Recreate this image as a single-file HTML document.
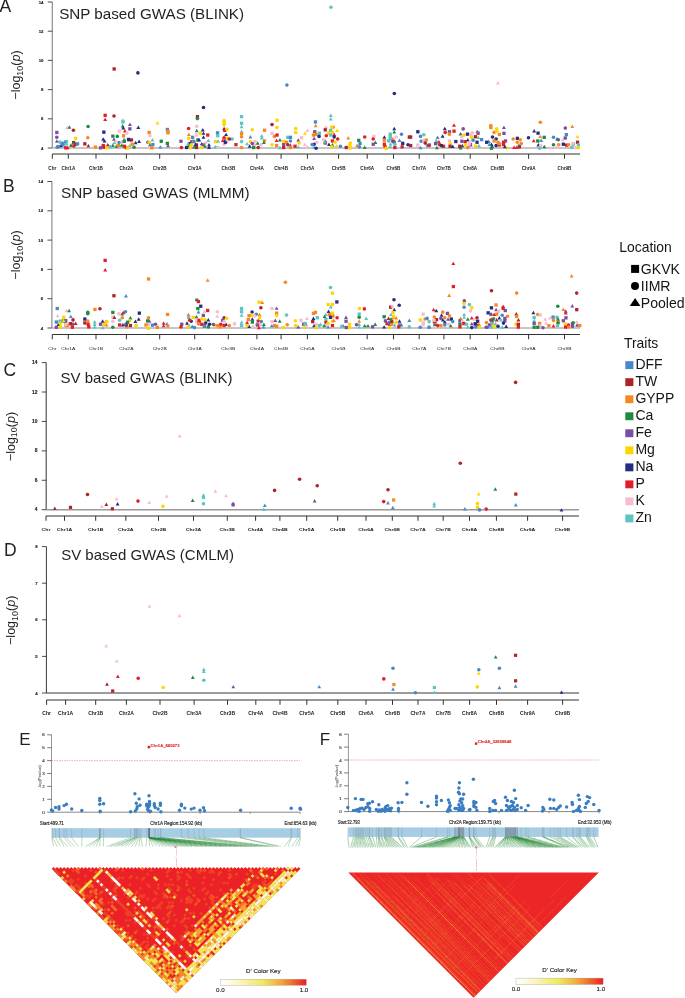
<!DOCTYPE html>
<html><head><meta charset="utf-8"><style>
html,body{margin:0;padding:0;background:#fff;width:685px;height:998px;overflow:hidden}
svg{display:block;font-family:"Liberation Sans",sans-serif;will-change:transform}
</style></head><body>
<svg width="685" height="998" viewBox="0 0 685 998">
<rect width="685" height="998" fill="#fff"/>
<line x1="52.3" y1="2.0" x2="52.3" y2="148" stroke="#8c8c8c" stroke-width="1.2" />
<line x1="47.8" y1="148.0" x2="52.3" y2="148.0" stroke="#222" stroke-width="0.8" />
<text x="43.5" y="149.5" font-size="4.3" text-anchor="end" font-weight="bold" fill="#222"  stroke="#222" stroke-width="0.14">4</text>
<line x1="47.8" y1="118.8" x2="52.3" y2="118.8" stroke="#222" stroke-width="0.8" />
<text x="43.5" y="120.3" font-size="4.3" text-anchor="end" font-weight="bold" fill="#222"  stroke="#222" stroke-width="0.14">6</text>
<line x1="47.8" y1="89.6" x2="52.3" y2="89.6" stroke="#222" stroke-width="0.8" />
<text x="43.5" y="91.1" font-size="4.3" text-anchor="end" font-weight="bold" fill="#222"  stroke="#222" stroke-width="0.14">8</text>
<line x1="47.8" y1="60.400000000000006" x2="52.3" y2="60.400000000000006" stroke="#222" stroke-width="0.8" />
<text x="43.5" y="61.900000000000006" font-size="4.3" text-anchor="end" font-weight="bold" fill="#222"  stroke="#222" stroke-width="0.14">10</text>
<line x1="47.8" y1="31.200000000000003" x2="52.3" y2="31.200000000000003" stroke="#222" stroke-width="0.8" />
<text x="43.5" y="32.7" font-size="4.3" text-anchor="end" font-weight="bold" fill="#222"  stroke="#222" stroke-width="0.14">12</text>
<line x1="47.8" y1="2.0" x2="52.3" y2="2.0" stroke="#222" stroke-width="0.8" />
<text x="43.5" y="3.5" font-size="4.3" text-anchor="end" font-weight="bold" fill="#222"  stroke="#222" stroke-width="0.14">14</text>
<line x1="52.3" y1="148" x2="580" y2="148" stroke="#b3b3b3" stroke-width="1.6" />
<line x1="52.3" y1="154" x2="580" y2="154" stroke="#333" stroke-width="1.1" />
<line x1="52.3" y1="154" x2="52.3" y2="158.8" stroke="#333" stroke-width="1.0" />
<text transform="translate(52.3,170.2) scale(1,1)" font-size="4.6" text-anchor="middle" font-weight="bold" fill="#1a1a1a">Chr</text>
<line x1="68.3" y1="154" x2="68.3" y2="158.8" stroke="#333" stroke-width="1.0" />
<text transform="translate(68.3,170.2) scale(1,1)" font-size="4.6" text-anchor="middle" font-weight="bold" fill="#1a1a1a">Chr1A</text>
<line x1="96" y1="154" x2="96" y2="158.8" stroke="#333" stroke-width="1.0" />
<text transform="translate(96,170.2) scale(1,1)" font-size="4.6" text-anchor="middle" font-weight="bold" fill="#1a1a1a">Chr1B</text>
<line x1="126.4" y1="154" x2="126.4" y2="158.8" stroke="#333" stroke-width="1.0" />
<text transform="translate(126.4,170.2) scale(1,1)" font-size="4.6" text-anchor="middle" font-weight="bold" fill="#1a1a1a">Chr2A</text>
<line x1="159.7" y1="154" x2="159.7" y2="158.8" stroke="#333" stroke-width="1.0" />
<text transform="translate(159.7,170.2) scale(1,1)" font-size="4.6" text-anchor="middle" font-weight="bold" fill="#1a1a1a">Chr2B</text>
<line x1="194.7" y1="154" x2="194.7" y2="158.8" stroke="#333" stroke-width="1.0" />
<text transform="translate(194.7,170.2) scale(1,1)" font-size="4.6" text-anchor="middle" font-weight="bold" fill="#1a1a1a">Chr3A</text>
<line x1="228.3" y1="154" x2="228.3" y2="158.8" stroke="#333" stroke-width="1.0" />
<text transform="translate(228.3,170.2) scale(1,1)" font-size="4.6" text-anchor="middle" font-weight="bold" fill="#1a1a1a">Chr3B</text>
<line x1="256.9" y1="154" x2="256.9" y2="158.8" stroke="#333" stroke-width="1.0" />
<text transform="translate(256.9,170.2) scale(1,1)" font-size="4.6" text-anchor="middle" font-weight="bold" fill="#1a1a1a">Chr4A</text>
<line x1="281.1" y1="154" x2="281.1" y2="158.8" stroke="#333" stroke-width="1.0" />
<text transform="translate(281.1,170.2) scale(1,1)" font-size="4.6" text-anchor="middle" font-weight="bold" fill="#1a1a1a">Chr4B</text>
<line x1="307.4" y1="154" x2="307.4" y2="158.8" stroke="#333" stroke-width="1.0" />
<text transform="translate(307.4,170.2) scale(1,1)" font-size="4.6" text-anchor="middle" font-weight="bold" fill="#1a1a1a">Chr5A</text>
<line x1="338.6" y1="154" x2="338.6" y2="158.8" stroke="#333" stroke-width="1.0" />
<text transform="translate(338.6,170.2) scale(1,1)" font-size="4.6" text-anchor="middle" font-weight="bold" fill="#1a1a1a">Chr5B</text>
<line x1="367.2" y1="154" x2="367.2" y2="158.8" stroke="#333" stroke-width="1.0" />
<text transform="translate(367.2,170.2) scale(1,1)" font-size="4.6" text-anchor="middle" font-weight="bold" fill="#1a1a1a">Chr6A</text>
<line x1="393.5" y1="154" x2="393.5" y2="158.8" stroke="#333" stroke-width="1.0" />
<text transform="translate(393.5,170.2) scale(1,1)" font-size="4.6" text-anchor="middle" font-weight="bold" fill="#1a1a1a">Chr6B</text>
<line x1="419.2" y1="154" x2="419.2" y2="158.8" stroke="#333" stroke-width="1.0" />
<text transform="translate(419.2,170.2) scale(1,1)" font-size="4.6" text-anchor="middle" font-weight="bold" fill="#1a1a1a">Chr7A</text>
<line x1="443.9" y1="154" x2="443.9" y2="158.8" stroke="#333" stroke-width="1.0" />
<text transform="translate(443.9,170.2) scale(1,1)" font-size="4.6" text-anchor="middle" font-weight="bold" fill="#1a1a1a">Chr7B</text>
<line x1="470.2" y1="154" x2="470.2" y2="158.8" stroke="#333" stroke-width="1.0" />
<text transform="translate(470.2,170.2) scale(1,1)" font-size="4.6" text-anchor="middle" font-weight="bold" fill="#1a1a1a">Chr8A</text>
<line x1="497.4" y1="154" x2="497.4" y2="158.8" stroke="#333" stroke-width="1.0" />
<text transform="translate(497.4,170.2) scale(1,1)" font-size="4.6" text-anchor="middle" font-weight="bold" fill="#1a1a1a">Chr8B</text>
<line x1="528.6" y1="154" x2="528.6" y2="158.8" stroke="#333" stroke-width="1.0" />
<text transform="translate(528.6,170.2) scale(1,1)" font-size="4.6" text-anchor="middle" font-weight="bold" fill="#1a1a1a">Chr9A</text>
<line x1="564.5" y1="154" x2="564.5" y2="158.8" stroke="#333" stroke-width="1.0" />
<text transform="translate(564.5,170.2) scale(1,1)" font-size="4.6" text-anchor="middle" font-weight="bold" fill="#1a1a1a">Chr9B</text>
<text x="59.2" y="19" font-size="15.2" text-anchor="start" font-weight="normal" fill="#231f20" >SNP based GWAS (BLINK)</text>
<text x="-0.4" y="11.8" font-size="17.5" text-anchor="start" font-weight="normal" fill="#231f20" >A</text>
<text transform="translate(20,75) rotate(-90)" font-size="12.5" text-anchor="middle" fill="#231f20">−log<tspan font-size="9" dy="2.5">10</tspan><tspan dy="-2.5">(</tspan><tspan font-style="italic">p</tspan>)</text>
<rect x="55.2" y="130.8" width="3.3" height="3.3" fill="#7a4ea0"/>
<circle cx="56.8" cy="137.3" r="1.8" fill="#7a4ea0"/>
<path d="M56.8 139.3L58.8 142.7L54.9 142.7Z" fill="#7a4ea0"/>
<circle cx="57.2" cy="147.3" r="1.8" fill="#4a86c8"/>
<rect x="56.5" y="144.9" width="3.3" height="3.3" fill="#4a86c8"/>
<circle cx="62.1" cy="143.4" r="1.8" fill="#4a86c8"/>
<path d="M61.0 143.9L63.0 147.3L59.1 147.3Z" fill="#262d7f"/>
<circle cx="63.1" cy="144.7" r="1.8" fill="#4a86c8"/>
<rect x="64.8" y="140.0" width="3.3" height="3.3" fill="#5ec4c2"/>
<path d="M66.4 142.1L68.4 145.6L64.4 145.6Z" fill="#5ec4c2"/>
<path d="M64.5 144.2L66.4 147.7L62.5 147.7Z" fill="#5ec4c2"/>
<path d="M67.7 145.8L69.7 149.3L65.8 149.3Z" fill="#e41e26"/>
<rect x="64.1" y="146.2" width="3.3" height="3.3" fill="#e41e26"/>
<path d="M67.1 125.7L69.1 129.2L65.1 129.2Z" fill="#f7bcd0"/>
<path d="M69.4 125.2L71.4 128.7L67.5 128.7Z" fill="#1f8a44"/>
<circle cx="73.4" cy="130.2" r="1.8" fill="#b0232a"/>
<circle cx="75.6" cy="138.4" r="1.8" fill="#ffd500"/>
<rect x="72.0" y="140.9" width="3.3" height="3.3" fill="#b0232a"/>
<rect x="74.0" y="142.6" width="3.3" height="3.3" fill="#b0232a"/>
<rect x="75.9" y="142.2" width="3.3" height="3.3" fill="#4a86c8"/>
<path d="M71.0 143.5L73.0 146.9L69.0 146.9Z" fill="#1f8a44"/>
<circle cx="73.9" cy="146.0" r="1.8" fill="#e41e26"/>
<circle cx="88.1" cy="126.5" r="1.8" fill="#1f8a44"/>
<circle cx="87.8" cy="137.7" r="1.8" fill="#f7871f"/>
<rect x="83.2" y="142.2" width="3.3" height="3.3" fill="#b0232a"/>
<path d="M88.4 143.9L90.3 147.3L86.4 147.3Z" fill="#b0232a"/>
<rect x="93.7" y="145.4" width="3.3" height="3.3" fill="#f7871f"/>
<rect x="98.9" y="146.2" width="3.3" height="3.3" fill="#7a4ea0"/>
<rect x="103.5" y="113.7" width="3.3" height="3.3" fill="#e41e26"/>
<path d="M105.2 117.6L107.2 121.0L103.2 121.0Z" fill="#e41e26"/>
<circle cx="114.0" cy="116.0" r="1.8" fill="#b0232a"/>
<rect x="102.2" y="130.5" width="3.3" height="3.3" fill="#262d7f"/>
<path d="M103.2 137.3L105.2 140.7L101.2 140.7Z" fill="#262d7f"/>
<path d="M104.5 139.0L106.5 142.5L102.5 142.5Z" fill="#262d7f"/>
<rect x="101.6" y="143.9" width="3.3" height="3.3" fill="#e41e26"/>
<rect x="102.2" y="145.6" width="3.3" height="3.3" fill="#e41e26"/>
<path d="M107.8 142.9L109.8 146.4L105.8 146.4Z" fill="#b0232a"/>
<rect x="105.1" y="146.2" width="3.3" height="3.3" fill="#ffd500"/>
<rect x="111.2" y="134.5" width="3.3" height="3.3" fill="#1f8a44"/>
<circle cx="117.3" cy="136.4" r="1.8" fill="#1f8a44"/>
<path d="M114.0 137.3L116.0 140.7L112.0 140.7Z" fill="#7a4ea0"/>
<path d="M114.4 140.6L116.4 144.0L112.4 144.0Z" fill="#5ec4c2"/>
<path d="M112.8 143.5L114.8 146.9L110.8 146.9Z" fill="#1f8a44"/>
<path d="M116.4 144.5L118.3 148.0L114.4 148.0Z" fill="#1f8a44"/>
<rect x="116.7" y="143.9" width="3.3" height="3.3" fill="#f7871f"/>
<path d="M122.9 118.2L124.9 121.7L120.9 121.7Z" fill="#5ec4c2"/>
<rect x="121.3" y="120.3" width="3.3" height="3.3" fill="#5ec4c2"/>
<path d="M122.7 124.1L124.6 127.6L120.7 127.6Z" fill="#1f8a44"/>
<path d="M123.3 126.1L125.3 129.6L121.3 129.6Z" fill="#262d7f"/>
<rect x="117.7" y="129.5" width="3.3" height="3.3" fill="#f7bcd0"/>
<path d="M124.9 129.0L126.9 132.5L122.9 132.5Z" fill="#e41e26"/>
<circle cx="126.9" cy="133.1" r="1.8" fill="#f7bcd0"/>
<path d="M129.9 122.4L131.9 125.9L127.9 125.9Z" fill="#7a4ea0"/>
<rect x="128.2" y="127.2" width="3.3" height="3.3" fill="#7a4ea0"/>
<path d="M138.3 125.5L140.3 128.9L136.3 128.9Z" fill="#262d7f"/>
<rect x="121.9" y="134.1" width="3.3" height="3.3" fill="#f7871f"/>
<path d="M124.2 136.9L126.2 140.4L122.3 140.4Z" fill="#5ec4c2"/>
<circle cx="122.5" cy="141.9" r="1.8" fill="#f7bcd0"/>
<circle cx="119.0" cy="142.6" r="1.8" fill="#4a86c8"/>
<rect x="126.9" y="137.8" width="3.3" height="3.3" fill="#262d7f"/>
<rect x="129.8" y="138.3" width="3.3" height="3.3" fill="#b0232a"/>
<path d="M135.7 140.8L137.6 144.3L133.7 144.3Z" fill="#262d7f"/>
<path d="M139.1 139.5L141.1 143.0L137.1 143.0Z" fill="#262d7f"/>
<path d="M129.5 143.9L131.5 147.3L127.5 147.3Z" fill="#5ec4c2"/>
<rect x="130.5" y="142.6" width="3.3" height="3.3" fill="#f7871f"/>
<rect x="122.6" y="144.6" width="3.3" height="3.3" fill="#e41e26"/>
<rect x="124.6" y="145.9" width="3.3" height="3.3" fill="#e41e26"/>
<circle cx="134.1" cy="147.3" r="1.8" fill="#1f8a44"/>
<rect x="126.1" y="146.2" width="3.3" height="3.3" fill="#ffd500"/>
<path d="M121.6 143.2L123.6 146.7L119.6 146.7Z" fill="#1f8a44"/>
<circle cx="110.4" cy="146.9" r="1.8" fill="#5ec4c2"/>
<path d="M157.5 121.1L159.5 124.6L155.5 124.6Z" fill="#ffd500"/>
<rect x="147.5" y="130.8" width="3.3" height="3.3" fill="#f7871f"/>
<circle cx="149.9" cy="135.7" r="1.8" fill="#f7bcd0"/>
<path d="M152.5 137.9L154.5 141.4L150.5 141.4Z" fill="#5ec4c2"/>
<circle cx="147.9" cy="142.3" r="1.8" fill="#7a4ea0"/>
<circle cx="149.2" cy="142.6" r="1.8" fill="#ffd500"/>
<path d="M149.9 142.9L151.8 146.4L147.9 146.4Z" fill="#1f8a44"/>
<rect x="151.2" y="143.0" width="3.3" height="3.3" fill="#4a86c8"/>
<circle cx="149.2" cy="147.6" r="1.8" fill="#f7bcd0"/>
<rect x="150.2" y="146.2" width="3.3" height="3.3" fill="#f7871f"/>
<rect x="159.6" y="139.6" width="3.3" height="3.3" fill="#1f8a44"/>
<path d="M160.4 145.2L162.3 148.6L158.4 148.6Z" fill="#4a86c8"/>
<rect x="165.7" y="127.8" width="3.3" height="3.3" fill="#4a86c8"/>
<rect x="166.3" y="129.5" width="3.3" height="3.3" fill="#f7871f"/>
<rect x="166.3" y="131.2" width="3.3" height="3.3" fill="#f7871f"/>
<rect x="165.7" y="141.7" width="3.3" height="3.3" fill="#1f8a44"/>
<path d="M168.0 143.9L170.0 147.3L166.0 147.3Z" fill="#7a4ea0"/>
<rect x="179.3" y="139.6" width="3.3" height="3.3" fill="#7a4ea0"/>
<circle cx="181.4" cy="147.6" r="1.8" fill="#e41e26"/>
<circle cx="203.5" cy="107.5" r="1.8" fill="#262d7f"/>
<rect x="195.8" y="115.0" width="3.3" height="3.3" fill="#b0232a"/>
<circle cx="197.4" cy="118.6" r="1.8" fill="#1f8a44"/>
<circle cx="196.8" cy="126.3" r="1.8" fill="#f7bcd0"/>
<circle cx="188.6" cy="128.5" r="1.8" fill="#e41e26"/>
<path d="M196.8 128.7L198.7 132.2L194.8 132.2Z" fill="#1f8a44"/>
<path d="M202.8 128.1L204.8 131.6L200.8 131.6Z" fill="#262d7f"/>
<path d="M203.5 131.4L205.4 134.8L201.5 134.8Z" fill="#262d7f"/>
<path d="M203.5 135.3L205.4 138.8L201.5 138.8Z" fill="#262d7f"/>
<path d="M188.9 132.4L190.9 135.9L186.9 135.9Z" fill="#f7871f"/>
<circle cx="188.6" cy="138.4" r="1.8" fill="#ffd500"/>
<rect x="190.9" y="135.7" width="3.3" height="3.3" fill="#4a86c8"/>
<rect x="206.1" y="133.4" width="3.3" height="3.3" fill="#e41e26"/>
<rect x="194.8" y="133.4" width="3.3" height="3.3" fill="#f7bcd0"/>
<circle cx="200.4" cy="133.4" r="1.8" fill="#ffd500"/>
<rect x="196.2" y="138.3" width="3.3" height="3.3" fill="#1f8a44"/>
<path d="M199.1 137.9L201.1 141.4L197.1 141.4Z" fill="#262d7f"/>
<path d="M208.3 138.6L210.3 142.1L206.3 142.1Z" fill="#5ec4c2"/>
<rect x="190.2" y="140.0" width="3.3" height="3.3" fill="#7a4ea0"/>
<circle cx="189.7" cy="143.6" r="1.8" fill="#262d7f"/>
<path d="M188.0 142.1L189.9 145.6L186.0 145.6Z" fill="#5ec4c2"/>
<circle cx="191.2" cy="144.9" r="1.8" fill="#ffd500"/>
<path d="M188.6 144.5L190.6 148.0L186.6 148.0Z" fill="#1f8a44"/>
<rect x="194.8" y="143.3" width="3.3" height="3.3" fill="#b0232a"/>
<path d="M201.8 141.9L203.7 145.3L199.8 145.3Z" fill="#262d7f"/>
<path d="M209.0 142.9L211.0 146.4L207.0 146.4Z" fill="#262d7f"/>
<circle cx="205.7" cy="143.0" r="1.8" fill="#f7bcd0"/>
<rect x="201.4" y="143.3" width="3.3" height="3.3" fill="#7a4ea0"/>
<circle cx="189.9" cy="147.8" r="1.8" fill="#ffd500"/>
<rect x="194.8" y="145.9" width="3.3" height="3.3" fill="#b0232a"/>
<path d="M205.0 144.2L207.0 147.7L203.1 147.7Z" fill="#1f8a44"/>
<circle cx="201.8" cy="147.6" r="1.8" fill="#ffd500"/>
<path d="M209.0 145.6L211.0 149.0L207.0 149.0Z" fill="#262d7f"/>
<rect x="215.9" y="131.2" width="3.3" height="3.3" fill="#4a86c8"/>
<rect x="216.1" y="134.1" width="3.3" height="3.3" fill="#5ec4c2"/>
<rect x="213.9" y="140.0" width="3.3" height="3.3" fill="#ffd500"/>
<path d="M218.2 139.3L220.2 142.7L216.2 142.7Z" fill="#5ec4c2"/>
<circle cx="215.5" cy="147.3" r="1.8" fill="#5ec4c2"/>
<circle cx="218.2" cy="147.3" r="1.8" fill="#f7bcd0"/>
<circle cx="224.1" cy="120.6" r="1.8" fill="#ffd500"/>
<rect x="222.4" y="121.2" width="3.3" height="3.3" fill="#ffd500"/>
<circle cx="224.1" cy="124.7" r="1.8" fill="#ffd500"/>
<path d="M224.1 126.8L226.1 130.2L222.1 130.2Z" fill="#262d7f"/>
<rect x="223.1" y="128.8" width="3.3" height="3.3" fill="#e41e26"/>
<circle cx="227.0" cy="129.4" r="1.8" fill="#ffd500"/>
<path d="M226.1 132.7L228.0 136.1L224.1 136.1Z" fill="#262d7f"/>
<circle cx="224.1" cy="137.7" r="1.8" fill="#e41e26"/>
<circle cx="227.4" cy="138.4" r="1.8" fill="#ffd500"/>
<path d="M225.1 138.6L227.1 142.1L223.2 142.1Z" fill="#262d7f"/>
<circle cx="226.7" cy="141.6" r="1.8" fill="#f7bcd0"/>
<path d="M222.8 138.6L224.8 142.1L220.8 142.1Z" fill="#e41e26"/>
<circle cx="224.1" cy="144.3" r="1.8" fill="#f7bcd0"/>
<rect x="185.0" y="145.9" width="3.3" height="3.3" fill="#262d7f"/>
<path d="M193.9 145.2L195.8 148.6L191.9 148.6Z" fill="#1f8a44"/>
<rect x="239.9" y="115.0" width="3.3" height="3.3" fill="#5ec4c2"/>
<rect x="239.9" y="121.6" width="3.3" height="3.3" fill="#5ec4c2"/>
<path d="M241.6 124.8L243.5 128.3L239.6 128.3Z" fill="#5ec4c2"/>
<path d="M241.6 129.4L243.5 132.9L239.6 132.9Z" fill="#5ec4c2"/>
<rect x="239.9" y="132.1" width="3.3" height="3.3" fill="#f7871f"/>
<circle cx="241.6" cy="136.8" r="1.8" fill="#f7871f"/>
<circle cx="241.6" cy="141.6" r="1.8" fill="#5ec4c2"/>
<circle cx="241.6" cy="147.6" r="1.8" fill="#f7871f"/>
<rect x="234.3" y="143.0" width="3.3" height="3.3" fill="#e41e26"/>
<circle cx="252.3" cy="129.8" r="1.8" fill="#ffd500"/>
<path d="M250.4 135.0L252.3 138.5L248.4 138.5Z" fill="#4a86c8"/>
<circle cx="250.4" cy="141.6" r="1.8" fill="#ffd500"/>
<path d="M247.1 141.9L249.1 145.3L245.1 145.3Z" fill="#5ec4c2"/>
<path d="M249.7 144.2L251.7 147.7L247.7 147.7Z" fill="#262d7f"/>
<circle cx="254.3" cy="144.9" r="1.8" fill="#f7bcd0"/>
<circle cx="255.0" cy="141.2" r="1.8" fill="#f7bcd0"/>
<path d="M257.6 141.2L259.6 144.7L255.6 144.7Z" fill="#1f8a44"/>
<circle cx="252.3" cy="143.6" r="1.8" fill="#7a4ea0"/>
<circle cx="258.2" cy="147.6" r="1.8" fill="#b0232a"/>
<rect x="252.0" y="145.9" width="3.3" height="3.3" fill="#1f8a44"/>
<circle cx="260.9" cy="144.9" r="1.8" fill="#f7bcd0"/>
<rect x="262.8" y="128.6" width="3.3" height="3.3" fill="#f7871f"/>
<path d="M261.8 134.0L263.8 137.5L259.8 137.5Z" fill="#5ec4c2"/>
<path d="M261.8 136.0L263.8 139.4L259.8 139.4Z" fill="#5ec4c2"/>
<circle cx="264.4" cy="140.7" r="1.8" fill="#f7871f"/>
<path d="M263.9 140.6L265.9 144.0L261.9 144.0Z" fill="#1f8a44"/>
<circle cx="272.0" cy="124.6" r="1.8" fill="#b0232a"/>
<rect x="275.4" y="118.6" width="3.3" height="3.3" fill="#ffd500"/>
<circle cx="277.0" cy="127.6" r="1.8" fill="#ffd500"/>
<rect x="270.4" y="131.7" width="3.3" height="3.3" fill="#f7bcd0"/>
<circle cx="274.4" cy="136.4" r="1.8" fill="#f7871f"/>
<rect x="275.4" y="133.4" width="3.3" height="3.3" fill="#e41e26"/>
<path d="M276.6 138.6L278.6 142.1L274.7 142.1Z" fill="#e41e26"/>
<path d="M279.9 137.9L281.9 141.4L277.9 141.4Z" fill="#1f8a44"/>
<circle cx="272.0" cy="144.7" r="1.8" fill="#ffd500"/>
<rect x="275.0" y="143.9" width="3.3" height="3.3" fill="#f7871f"/>
<path d="M279.9 145.8L281.9 149.3L277.9 149.3Z" fill="#5ec4c2"/>
<circle cx="283.6" cy="141.2" r="1.8" fill="#ffd500"/>
<rect x="282.0" y="143.0" width="3.3" height="3.3" fill="#7a4ea0"/>
<rect x="282.0" y="145.9" width="3.3" height="3.3" fill="#e41e26"/>
<rect x="284.8" y="140.6" width="3.3" height="3.3" fill="#f7871f"/>
<circle cx="287.8" cy="144.7" r="1.8" fill="#b0232a"/>
<rect x="286.2" y="135.7" width="3.3" height="3.3" fill="#5ec4c2"/>
<rect x="288.8" y="135.7" width="3.3" height="3.3" fill="#4a86c8"/>
<circle cx="290.4" cy="141.0" r="1.8" fill="#4a86c8"/>
<path d="M290.4 143.2L292.4 146.7L288.5 146.7Z" fill="#7a4ea0"/>
<rect x="288.8" y="145.9" width="3.3" height="3.3" fill="#f7871f"/>
<circle cx="295.7" cy="128.5" r="1.8" fill="#ffd500"/>
<rect x="294.0" y="130.8" width="3.3" height="3.3" fill="#ffd500"/>
<rect x="293.4" y="144.6" width="3.3" height="3.3" fill="#e41e26"/>
<path d="M298.3 138.2L300.3 141.7L296.3 141.7Z" fill="#7a4ea0"/>
<rect x="297.3" y="141.3" width="3.3" height="3.3" fill="#ffd500"/>
<path d="M298.3 145.2L300.3 148.6L296.3 148.6Z" fill="#5ec4c2"/>
<path d="M304.9 131.4L306.9 134.8L302.9 134.8Z" fill="#ffd500"/>
<path d="M307.5 128.5L309.5 131.9L305.5 131.9Z" fill="#f7bcd0"/>
<rect x="300.0" y="136.1" width="3.3" height="3.3" fill="#f7bcd0"/>
<path d="M304.9 142.5L306.9 146.0L302.9 146.0Z" fill="#f7bcd0"/>
<circle cx="307.5" cy="147.6" r="1.8" fill="#f7bcd0"/>
<rect x="313.8" y="120.3" width="3.3" height="3.3" fill="#4a86c8"/>
<path d="M315.7 123.7L317.6 127.2L313.7 127.2Z" fill="#f7871f"/>
<rect x="313.1" y="130.1" width="3.3" height="3.3" fill="#7a4ea0"/>
<rect x="311.8" y="133.4" width="3.3" height="3.3" fill="#f7871f"/>
<rect x="314.4" y="132.8" width="3.3" height="3.3" fill="#f7871f"/>
<path d="M314.1 136.6L316.1 140.1L312.1 140.1Z" fill="#7a4ea0"/>
<rect x="317.7" y="131.5" width="3.3" height="3.3" fill="#5ec4c2"/>
<circle cx="319.1" cy="136.4" r="1.8" fill="#262d7f"/>
<circle cx="316.7" cy="142.3" r="1.8" fill="#f7bcd0"/>
<circle cx="314.1" cy="144.3" r="1.8" fill="#262d7f"/>
<path d="M314.1 145.2L316.1 148.6L312.1 148.6Z" fill="#5ec4c2"/>
<circle cx="316.1" cy="148.2" r="1.8" fill="#262d7f"/>
<path d="M330.8 113.6L332.8 117.1L328.8 117.1Z" fill="#5ec4c2"/>
<path d="M330.8 116.9L332.8 120.4L328.8 120.4Z" fill="#5ec4c2"/>
<circle cx="325.9" cy="127.8" r="1.8" fill="#f7bcd0"/>
<rect x="323.6" y="128.2" width="3.3" height="3.3" fill="#b0232a"/>
<circle cx="333.1" cy="127.2" r="1.8" fill="#f7871f"/>
<rect x="330.2" y="125.5" width="3.3" height="3.3" fill="#ffd500"/>
<rect x="328.9" y="128.8" width="3.3" height="3.3" fill="#5ec4c2"/>
<path d="M337.1 128.5L339.1 131.9L335.1 131.9Z" fill="#ffd500"/>
<circle cx="328.5" cy="133.1" r="1.8" fill="#ffd500"/>
<circle cx="332.5" cy="132.4" r="1.8" fill="#ffd500"/>
<circle cx="326.3" cy="135.7" r="1.8" fill="#e41e26"/>
<rect x="329.1" y="133.4" width="3.3" height="3.3" fill="#5ec4c2"/>
<path d="M334.2 132.7L336.2 136.1L332.2 136.1Z" fill="#e41e26"/>
<circle cx="334.2" cy="137.0" r="1.8" fill="#262d7f"/>
<circle cx="337.7" cy="139.0" r="1.8" fill="#e41e26"/>
<path d="M325.3 139.3L327.2 142.7L323.3 142.7Z" fill="#1f8a44"/>
<rect x="323.6" y="141.3" width="3.3" height="3.3" fill="#b0232a"/>
<rect x="330.8" y="139.3" width="3.3" height="3.3" fill="#e41e26"/>
<circle cx="335.1" cy="142.3" r="1.8" fill="#ffd500"/>
<path d="M328.9 142.5L330.9 146.0L327.0 146.0Z" fill="#262d7f"/>
<path d="M332.5 142.9L334.5 146.4L330.5 146.4Z" fill="#1f8a44"/>
<circle cx="331.8" cy="146.9" r="1.8" fill="#ffd500"/>
<circle cx="340.4" cy="146.2" r="1.8" fill="#4a86c8"/>
<path d="M336.4 143.9L338.4 147.3L334.4 147.3Z" fill="#ffd500"/>
<path d="M348.2 136.0L350.2 139.4L346.3 139.4Z" fill="#f7871f"/>
<circle cx="350.2" cy="143.0" r="1.8" fill="#ffd500"/>
<rect x="348.3" y="143.9" width="3.3" height="3.3" fill="#ffd500"/>
<rect x="348.6" y="146.3" width="3.3" height="3.3" fill="#ffd500"/>
<rect x="344.6" y="145.9" width="3.3" height="3.3" fill="#b0232a"/>
<rect x="357.1" y="138.7" width="3.3" height="3.3" fill="#1f8a44"/>
<rect x="358.4" y="141.7" width="3.3" height="3.3" fill="#4a86c8"/>
<path d="M357.1 143.5L359.0 146.9L355.1 146.9Z" fill="#f7871f"/>
<circle cx="359.4" cy="146.9" r="1.8" fill="#4a86c8"/>
<path d="M364.7 145.6L366.7 149.0L362.7 149.0Z" fill="#1f8a44"/>
<circle cx="364.7" cy="137.0" r="1.8" fill="#e41e26"/>
<rect x="372.2" y="134.7" width="3.3" height="3.3" fill="#f7bcd0"/>
<circle cx="373.2" cy="139.0" r="1.8" fill="#e41e26"/>
<path d="M375.4 140.6L377.4 144.0L373.5 144.0Z" fill="#1f8a44"/>
<rect x="371.6" y="142.6" width="3.3" height="3.3" fill="#7a4ea0"/>
<path d="M384.4 135.3L386.4 138.8L382.4 138.8Z" fill="#262d7f"/>
<rect x="382.7" y="138.7" width="3.3" height="3.3" fill="#f7871f"/>
<rect x="382.7" y="142.6" width="3.3" height="3.3" fill="#e41e26"/>
<circle cx="385.0" cy="146.2" r="1.8" fill="#e41e26"/>
<rect x="388.6" y="132.5" width="3.3" height="3.3" fill="#5ec4c2"/>
<rect x="388.6" y="134.7" width="3.3" height="3.3" fill="#5ec4c2"/>
<rect x="388.6" y="136.7" width="3.3" height="3.3" fill="#5ec4c2"/>
<path d="M394.2 126.8L396.2 130.2L392.3 130.2Z" fill="#262d7f"/>
<path d="M394.2 130.1L396.2 133.5L392.3 133.5Z" fill="#1f8a44"/>
<circle cx="396.2" cy="137.0" r="1.8" fill="#f7bcd0"/>
<circle cx="401.5" cy="134.2" r="1.8" fill="#4a86c8"/>
<rect x="391.3" y="139.3" width="3.3" height="3.3" fill="#262d7f"/>
<circle cx="389.0" cy="141.0" r="1.8" fill="#f7bcd0"/>
<path d="M399.5 138.6L401.5 142.1L397.5 142.1Z" fill="#4a86c8"/>
<rect x="392.6" y="140.6" width="3.3" height="3.3" fill="#7a4ea0"/>
<circle cx="394.9" cy="144.3" r="1.8" fill="#5ec4c2"/>
<rect x="401.1" y="141.7" width="3.3" height="3.3" fill="#262d7f"/>
<rect x="400.5" y="145.2" width="3.3" height="3.3" fill="#e41e26"/>
<rect x="393.2" y="145.9" width="3.3" height="3.3" fill="#e41e26"/>
<path d="M390.3 144.5L392.3 148.0L388.3 148.0Z" fill="#5ec4c2"/>
<rect x="407.7" y="135.4" width="3.3" height="3.3" fill="#b0232a"/>
<circle cx="408.0" cy="144.7" r="1.8" fill="#262d7f"/>
<rect x="384.7" y="146.6" width="3.3" height="3.3" fill="#ffd500"/>
<rect x="409.0" y="135.4" width="3.3" height="3.3" fill="#b0232a"/>
<rect x="409.0" y="143.9" width="3.3" height="3.3" fill="#b0232a"/>
<rect x="416.2" y="130.1" width="3.3" height="3.3" fill="#262d7f"/>
<circle cx="420.5" cy="136.4" r="1.8" fill="#4a86c8"/>
<circle cx="423.8" cy="134.7" r="1.8" fill="#5ec4c2"/>
<circle cx="421.2" cy="141.2" r="1.8" fill="#4a86c8"/>
<rect x="422.5" y="138.7" width="3.3" height="3.3" fill="#f7bcd0"/>
<circle cx="424.2" cy="142.3" r="1.8" fill="#f7bcd0"/>
<rect x="416.2" y="143.5" width="3.3" height="3.3" fill="#f7bcd0"/>
<path d="M420.5 145.8L422.5 149.3L418.5 149.3Z" fill="#4a86c8"/>
<circle cx="427.7" cy="145.6" r="1.8" fill="#4a86c8"/>
<rect x="427.8" y="143.3" width="3.3" height="3.3" fill="#4a86c8"/>
<path d="M444.8 126.8L446.8 130.2L442.8 130.2Z" fill="#262d7f"/>
<circle cx="445.2" cy="132.4" r="1.8" fill="#e41e26"/>
<rect x="447.8" y="130.1" width="3.3" height="3.3" fill="#7a4ea0"/>
<rect x="447.8" y="132.5" width="3.3" height="3.3" fill="#f7871f"/>
<path d="M454.0 123.2L456.0 126.7L452.0 126.7Z" fill="#e41e26"/>
<rect x="452.4" y="129.5" width="3.3" height="3.3" fill="#e41e26"/>
<path d="M442.6 134.3L444.6 137.7L440.6 137.7Z" fill="#262d7f"/>
<path d="M437.6 135.6L439.6 139.0L435.6 139.0Z" fill="#4a86c8"/>
<path d="M436.3 138.6L438.3 142.1L434.3 142.1Z" fill="#5ec4c2"/>
<path d="M438.9 139.9L440.9 143.4L436.9 143.4Z" fill="#e41e26"/>
<rect x="434.0" y="142.0" width="3.3" height="3.3" fill="#7a4ea0"/>
<circle cx="439.6" cy="144.7" r="1.8" fill="#e41e26"/>
<circle cx="449.4" cy="140.7" r="1.8" fill="#f7bcd0"/>
<circle cx="450.1" cy="143.6" r="1.8" fill="#ffd500"/>
<rect x="441.9" y="144.6" width="3.3" height="3.3" fill="#e41e26"/>
<rect x="448.4" y="144.6" width="3.3" height="3.3" fill="#b0232a"/>
<path d="M452.7 144.5L454.7 148.0L450.7 148.0Z" fill="#262d7f"/>
<circle cx="441.5" cy="145.6" r="1.8" fill="#262d7f"/>
<path d="M436.9 145.8L438.9 149.3L435.0 149.3Z" fill="#1f8a44"/>
<circle cx="463.2" cy="128.9" r="1.8" fill="#7a4ea0"/>
<path d="M460.6 132.0L462.6 135.5L458.6 135.5Z" fill="#1f8a44"/>
<circle cx="464.1" cy="135.1" r="1.8" fill="#ffd500"/>
<rect x="465.9" y="132.5" width="3.3" height="3.3" fill="#262d7f"/>
<circle cx="472.4" cy="132.8" r="1.8" fill="#f7bcd0"/>
<rect x="469.4" y="132.8" width="3.3" height="3.3" fill="#f7bcd0"/>
<rect x="476.4" y="131.5" width="3.3" height="3.3" fill="#e41e26"/>
<path d="M477.3 129.4L479.3 132.9L475.3 132.9Z" fill="#4a86c8"/>
<rect x="473.8" y="135.1" width="3.3" height="3.3" fill="#b0232a"/>
<path d="M478.3 135.6L480.3 139.0L476.3 139.0Z" fill="#5ec4c2"/>
<rect x="470.1" y="135.7" width="3.3" height="3.3" fill="#ffd500"/>
<circle cx="461.9" cy="137.0" r="1.8" fill="#f7bcd0"/>
<rect x="460.2" y="139.6" width="3.3" height="3.3" fill="#7a4ea0"/>
<rect x="463.5" y="140.0" width="3.3" height="3.3" fill="#e41e26"/>
<path d="M467.8 137.9L469.8 141.4L465.8 141.4Z" fill="#262d7f"/>
<circle cx="473.1" cy="140.3" r="1.8" fill="#4a86c8"/>
<rect x="480.0" y="138.0" width="3.3" height="3.3" fill="#4a86c8"/>
<circle cx="469.8" cy="142.3" r="1.8" fill="#f7bcd0"/>
<rect x="475.4" y="140.6" width="3.3" height="3.3" fill="#262d7f"/>
<path d="M462.3 143.9L464.3 147.3L460.3 147.3Z" fill="#262d7f"/>
<circle cx="465.2" cy="144.9" r="1.8" fill="#ffd500"/>
<circle cx="471.1" cy="146.9" r="1.8" fill="#f7bcd0"/>
<rect x="474.0" y="144.6" width="3.3" height="3.3" fill="#ffd500"/>
<path d="M479.0 143.9L481.0 147.3L477.0 147.3Z" fill="#5ec4c2"/>
<rect x="458.9" y="146.2" width="3.3" height="3.3" fill="#1f8a44"/>
<circle cx="467.8" cy="147.6" r="1.8" fill="#f7871f"/>
<rect x="468.8" y="143.0" width="3.3" height="3.3" fill="#7a4ea0"/>
<circle cx="490.8" cy="125.5" r="1.8" fill="#f7871f"/>
<rect x="489.2" y="125.9" width="3.3" height="3.3" fill="#f7871f"/>
<circle cx="494.1" cy="132.4" r="1.8" fill="#f7871f"/>
<circle cx="496.7" cy="128.9" r="1.8" fill="#ffd500"/>
<rect x="495.1" y="129.5" width="3.3" height="3.3" fill="#ffd500"/>
<rect x="497.7" y="132.8" width="3.3" height="3.3" fill="#f7871f"/>
<circle cx="492.5" cy="137.0" r="1.8" fill="#262d7f"/>
<circle cx="496.1" cy="139.0" r="1.8" fill="#262d7f"/>
<path d="M488.8 139.5L490.8 143.0L486.9 143.0Z" fill="#4a86c8"/>
<rect x="492.4" y="139.3" width="3.3" height="3.3" fill="#f7871f"/>
<circle cx="498.0" cy="142.3" r="1.8" fill="#f7871f"/>
<path d="M491.5 142.5L493.4 146.0L489.5 146.0Z" fill="#262d7f"/>
<path d="M492.1 144.5L494.1 148.0L490.1 148.0Z" fill="#262d7f"/>
<rect x="489.8" y="146.6" width="3.3" height="3.3" fill="#1f8a44"/>
<circle cx="496.1" cy="145.6" r="1.8" fill="#262d7f"/>
<rect x="497.7" y="143.3" width="3.3" height="3.3" fill="#e41e26"/>
<path d="M503.9 125.5L505.9 128.9L502.0 128.9Z" fill="#7a4ea0"/>
<rect x="502.3" y="131.7" width="3.3" height="3.3" fill="#7a4ea0"/>
<rect x="503.9" y="139.3" width="3.3" height="3.3" fill="#7a4ea0"/>
<rect x="501.9" y="140.6" width="3.3" height="3.3" fill="#e41e26"/>
<rect x="501.9" y="143.0" width="3.3" height="3.3" fill="#e41e26"/>
<path d="M507.5 145.8L509.5 149.3L505.5 149.3Z" fill="#ffd500"/>
<path d="M504.9 144.8L506.8 148.2L502.9 148.2Z" fill="#262d7f"/>
<circle cx="513.1" cy="139.0" r="1.8" fill="#f7871f"/>
<rect x="515.7" y="136.7" width="3.3" height="3.3" fill="#262d7f"/>
<circle cx="520.2" cy="139.7" r="1.8" fill="#f7871f"/>
<circle cx="521.3" cy="143.6" r="1.8" fill="#f7871f"/>
<circle cx="517.3" cy="142.3" r="1.8" fill="#f7871f"/>
<circle cx="519.3" cy="145.6" r="1.8" fill="#5ec4c2"/>
<rect x="517.7" y="145.2" width="3.3" height="3.3" fill="#b0232a"/>
<path d="M514.1 145.6L516.0 149.0L512.1 149.0Z" fill="#e41e26"/>
<path d="M516.7 145.6L518.7 149.0L514.7 149.0Z" fill="#e41e26"/>
<circle cx="528.5" cy="137.7" r="1.8" fill="#262d7f"/>
<path d="M534.2 129.0L536.1 132.5L532.2 132.5Z" fill="#262d7f"/>
<rect x="536.4" y="131.5" width="3.3" height="3.3" fill="#262d7f"/>
<circle cx="540.3" cy="122.3" r="1.8" fill="#f7871f"/>
<path d="M540.3 134.7L542.3 138.1L538.3 138.1Z" fill="#f7871f"/>
<rect x="542.6" y="135.7" width="3.3" height="3.3" fill="#1f8a44"/>
<path d="M533.8 138.9L535.7 142.3L531.8 142.3Z" fill="#e41e26"/>
<rect x="536.1" y="139.3" width="3.3" height="3.3" fill="#1f8a44"/>
<path d="M541.2 138.6L543.2 142.1L539.3 142.1Z" fill="#4a86c8"/>
<path d="M538.4 142.9L540.3 146.4L536.4 146.4Z" fill="#262d7f"/>
<circle cx="540.7" cy="145.6" r="1.8" fill="#f7bcd0"/>
<path d="M544.3 144.8L546.3 148.2L542.3 148.2Z" fill="#1f8a44"/>
<circle cx="539.7" cy="148.2" r="1.8" fill="#5ec4c2"/>
<circle cx="553.5" cy="137.3" r="1.8" fill="#4a86c8"/>
<circle cx="558.3" cy="139.7" r="1.8" fill="#1f8a44"/>
<circle cx="553.5" cy="144.7" r="1.8" fill="#1f8a44"/>
<circle cx="558.7" cy="144.7" r="1.8" fill="#f7871f"/>
<path d="M550.8 145.8L552.8 149.3L548.9 149.3Z" fill="#f7bcd0"/>
<circle cx="557.4" cy="146.9" r="1.8" fill="#f7bcd0"/>
<circle cx="565.3" cy="128.1" r="1.8" fill="#7a4ea0"/>
<path d="M572.3 124.4L574.2 127.9L570.3 127.9Z" fill="#f7871f"/>
<rect x="564.7" y="133.0" width="3.3" height="3.3" fill="#4a86c8"/>
<rect x="563.6" y="136.4" width="3.3" height="3.3" fill="#7a4ea0"/>
<path d="M577.5 134.7L579.5 138.1L575.5 138.1Z" fill="#ffd500"/>
<rect x="575.9" y="140.6" width="3.3" height="3.3" fill="#b0232a"/>
<circle cx="573.2" cy="143.9" r="1.8" fill="#1f8a44"/>
<rect x="561.7" y="142.6" width="3.3" height="3.3" fill="#262d7f"/>
<rect x="565.0" y="143.5" width="3.3" height="3.3" fill="#e41e26"/>
<circle cx="568.6" cy="144.7" r="1.8" fill="#f7871f"/>
<circle cx="578.4" cy="144.9" r="1.8" fill="#5ec4c2"/>
<rect x="570.2" y="145.9" width="3.3" height="3.3" fill="#5ec4c2"/>
<circle cx="575.1" cy="147.6" r="1.8" fill="#f7bcd0"/>
<circle cx="578.4" cy="147.6" r="1.8" fill="#ffd500"/>
<rect x="112.5" y="67.3" width="3.3" height="3.3" fill="#b0232a"/>
<circle cx="137.9" cy="72.9" r="1.8" fill="#262d7f"/>
<circle cx="286.9" cy="85.1" r="1.8" fill="#4a86c8"/>
<circle cx="330.9" cy="7.2" r="1.8" fill="#5ec4c2"/>
<circle cx="394.3" cy="93.5" r="1.8" fill="#262d7f"/>
<path d="M497.9 81.0L499.9 84.4L495.9 84.4Z" fill="#f7bcd0"/>
<circle cx="59.8" cy="142.1" r="1.8" fill="#5ec4c2"/>
<path d="M64.5 140.1L66.5 143.6L62.5 143.6Z" fill="#4a86c8"/>
<path d="M73.2 141.0L75.2 144.5L71.2 144.5Z" fill="#1f8a44"/>
<path d="M115.8 139.0L117.7 142.5L113.8 142.5Z" fill="#f7bcd0"/>
<rect x="122.6" y="139.7" width="3.3" height="3.3" fill="#1f8a44"/>
<path d="M129.0 137.8L131.0 141.3L127.1 141.3Z" fill="#262d7f"/>
<rect x="191.9" y="139.5" width="3.3" height="3.3" fill="#f7871f"/>
<circle cx="194.0" cy="141.8" r="1.8" fill="#4a86c8"/>
<path d="M195.6 142.6L197.6 146.1L193.6 146.1Z" fill="#262d7f"/>
<circle cx="232.1" cy="139.1" r="1.8" fill="#5ec4c2"/>
<circle cx="229.4" cy="139.0" r="1.8" fill="#b0232a"/>
<circle cx="225.4" cy="142.5" r="1.8" fill="#262d7f"/>
<circle cx="323.4" cy="139.7" r="1.8" fill="#f7bcd0"/>
<path d="M325.0 140.2L327.0 143.6L323.0 143.6Z" fill="#5ec4c2"/>
<circle cx="312.2" cy="144.6" r="1.8" fill="#4a86c8"/>
<path d="M392.8 136.8L394.8 140.3L390.9 140.3Z" fill="#f7871f"/>
<path d="M390.5 142.2L392.5 145.6L388.5 145.6Z" fill="#5ec4c2"/>
<rect x="386.9" y="139.1" width="3.3" height="3.3" fill="#5ec4c2"/>
<circle cx="429.0" cy="145.5" r="1.8" fill="#e41e26"/>
<circle cx="426.3" cy="140.1" r="1.8" fill="#f7871f"/>
<circle cx="425.3" cy="143.1" r="1.8" fill="#b0232a"/>
<rect x="454.2" y="139.9" width="3.3" height="3.3" fill="#262d7f"/>
<circle cx="469.4" cy="143.9" r="1.8" fill="#f7bcd0"/>
<rect x="458.1" y="144.6" width="3.3" height="3.3" fill="#b0232a"/>
<rect x="485.0" y="140.6" width="3.3" height="3.3" fill="#262d7f"/>
<path d="M489.4 142.7L491.4 146.1L487.4 146.1Z" fill="#4a86c8"/>
<circle cx="499.7" cy="143.8" r="1.8" fill="#f7871f"/>
<circle cx="572.9" cy="143.5" r="1.8" fill="#f7bcd0"/>
<path d="M562.7 137.8L564.7 141.3L560.7 141.3Z" fill="#f7bcd0"/>
<path d="M557.1 137.0L559.0 140.4L555.1 140.4Z" fill="#7a4ea0"/>
<line x1="51.9" y1="181.5" x2="51.9" y2="328" stroke="#8c8c8c" stroke-width="1.2" />
<line x1="47.4" y1="328.0" x2="51.9" y2="328.0" stroke="#222" stroke-width="0.8" />
<text x="43.099999999999994" y="329.5" font-size="4.3" text-anchor="end" font-weight="bold" fill="#222"  stroke="#222" stroke-width="0.14">4</text>
<line x1="47.4" y1="298.7" x2="51.9" y2="298.7" stroke="#222" stroke-width="0.8" />
<text x="43.099999999999994" y="300.2" font-size="4.3" text-anchor="end" font-weight="bold" fill="#222"  stroke="#222" stroke-width="0.14">6</text>
<line x1="47.4" y1="269.4" x2="51.9" y2="269.4" stroke="#222" stroke-width="0.8" />
<text x="43.099999999999994" y="270.9" font-size="4.3" text-anchor="end" font-weight="bold" fill="#222"  stroke="#222" stroke-width="0.14">8</text>
<line x1="47.4" y1="240.1" x2="51.9" y2="240.1" stroke="#222" stroke-width="0.8" />
<text x="43.099999999999994" y="241.6" font-size="4.3" text-anchor="end" font-weight="bold" fill="#222"  stroke="#222" stroke-width="0.14">10</text>
<line x1="47.4" y1="210.8" x2="51.9" y2="210.8" stroke="#222" stroke-width="0.8" />
<text x="43.099999999999994" y="212.3" font-size="4.3" text-anchor="end" font-weight="bold" fill="#222"  stroke="#222" stroke-width="0.14">12</text>
<line x1="47.4" y1="181.5" x2="51.9" y2="181.5" stroke="#222" stroke-width="0.8" />
<text x="43.099999999999994" y="183.0" font-size="4.3" text-anchor="end" font-weight="bold" fill="#222"  stroke="#222" stroke-width="0.14">14</text>
<line x1="51.9" y1="328" x2="580" y2="328" stroke="#b3b3b3" stroke-width="1.6" />
<line x1="52.3" y1="334.5" x2="580" y2="334.5" stroke="#333" stroke-width="1.1" />
<line x1="52.3" y1="334.5" x2="52.3" y2="339.3" stroke="#333" stroke-width="1.0" />
<text transform="translate(52.3,350) scale(1.08,0.85)" font-size="4.6" text-anchor="middle" font-weight="normal" fill="#1a1a1a">Chr</text>
<line x1="68.3" y1="334.5" x2="68.3" y2="339.3" stroke="#333" stroke-width="1.0" />
<text transform="translate(68.3,350) scale(1.08,0.85)" font-size="4.6" text-anchor="middle" font-weight="normal" fill="#1a1a1a">Chr1A</text>
<line x1="96" y1="334.5" x2="96" y2="339.3" stroke="#333" stroke-width="1.0" />
<text transform="translate(96,350) scale(1.08,0.85)" font-size="4.6" text-anchor="middle" font-weight="normal" fill="#1a1a1a">Chr1B</text>
<line x1="126.4" y1="334.5" x2="126.4" y2="339.3" stroke="#333" stroke-width="1.0" />
<text transform="translate(126.4,350) scale(1.08,0.85)" font-size="4.6" text-anchor="middle" font-weight="normal" fill="#1a1a1a">Chr2A</text>
<line x1="159.7" y1="334.5" x2="159.7" y2="339.3" stroke="#333" stroke-width="1.0" />
<text transform="translate(159.7,350) scale(1.08,0.85)" font-size="4.6" text-anchor="middle" font-weight="normal" fill="#1a1a1a">Chr2B</text>
<line x1="194.7" y1="334.5" x2="194.7" y2="339.3" stroke="#333" stroke-width="1.0" />
<text transform="translate(194.7,350) scale(1.08,0.85)" font-size="4.6" text-anchor="middle" font-weight="normal" fill="#1a1a1a">Chr3A</text>
<line x1="228.3" y1="334.5" x2="228.3" y2="339.3" stroke="#333" stroke-width="1.0" />
<text transform="translate(228.3,350) scale(1.08,0.85)" font-size="4.6" text-anchor="middle" font-weight="normal" fill="#1a1a1a">Chr3B</text>
<line x1="256.9" y1="334.5" x2="256.9" y2="339.3" stroke="#333" stroke-width="1.0" />
<text transform="translate(256.9,350) scale(1.08,0.85)" font-size="4.6" text-anchor="middle" font-weight="normal" fill="#1a1a1a">Chr4A</text>
<line x1="281.1" y1="334.5" x2="281.1" y2="339.3" stroke="#333" stroke-width="1.0" />
<text transform="translate(281.1,350) scale(1.08,0.85)" font-size="4.6" text-anchor="middle" font-weight="normal" fill="#1a1a1a">Chr4B</text>
<line x1="307.4" y1="334.5" x2="307.4" y2="339.3" stroke="#333" stroke-width="1.0" />
<text transform="translate(307.4,350) scale(1.08,0.85)" font-size="4.6" text-anchor="middle" font-weight="normal" fill="#1a1a1a">Chr5A</text>
<line x1="338.6" y1="334.5" x2="338.6" y2="339.3" stroke="#333" stroke-width="1.0" />
<text transform="translate(338.6,350) scale(1.08,0.85)" font-size="4.6" text-anchor="middle" font-weight="normal" fill="#1a1a1a">Chr5B</text>
<line x1="367.2" y1="334.5" x2="367.2" y2="339.3" stroke="#333" stroke-width="1.0" />
<text transform="translate(367.2,350) scale(1.08,0.85)" font-size="4.6" text-anchor="middle" font-weight="normal" fill="#1a1a1a">Chr6A</text>
<line x1="393.5" y1="334.5" x2="393.5" y2="339.3" stroke="#333" stroke-width="1.0" />
<text transform="translate(393.5,350) scale(1.08,0.85)" font-size="4.6" text-anchor="middle" font-weight="normal" fill="#1a1a1a">Chr6B</text>
<line x1="419.2" y1="334.5" x2="419.2" y2="339.3" stroke="#333" stroke-width="1.0" />
<text transform="translate(419.2,350) scale(1.08,0.85)" font-size="4.6" text-anchor="middle" font-weight="normal" fill="#1a1a1a">Chr7A</text>
<line x1="443.9" y1="334.5" x2="443.9" y2="339.3" stroke="#333" stroke-width="1.0" />
<text transform="translate(443.9,350) scale(1.08,0.85)" font-size="4.6" text-anchor="middle" font-weight="normal" fill="#1a1a1a">Chr7B</text>
<line x1="470.2" y1="334.5" x2="470.2" y2="339.3" stroke="#333" stroke-width="1.0" />
<text transform="translate(470.2,350) scale(1.08,0.85)" font-size="4.6" text-anchor="middle" font-weight="normal" fill="#1a1a1a">Chr8A</text>
<line x1="497.4" y1="334.5" x2="497.4" y2="339.3" stroke="#333" stroke-width="1.0" />
<text transform="translate(497.4,350) scale(1.08,0.85)" font-size="4.6" text-anchor="middle" font-weight="normal" fill="#1a1a1a">Chr8B</text>
<line x1="528.6" y1="334.5" x2="528.6" y2="339.3" stroke="#333" stroke-width="1.0" />
<text transform="translate(528.6,350) scale(1.08,0.85)" font-size="4.6" text-anchor="middle" font-weight="normal" fill="#1a1a1a">Chr9A</text>
<line x1="564.5" y1="334.5" x2="564.5" y2="339.3" stroke="#333" stroke-width="1.0" />
<text transform="translate(564.5,350) scale(1.08,0.85)" font-size="4.6" text-anchor="middle" font-weight="normal" fill="#1a1a1a">Chr9B</text>
<text x="61.0" y="198.3" font-size="15.3" text-anchor="start" font-weight="normal" fill="#231f20" >SNP based GWAS (MLMM)</text>
<text x="3.0" y="191.9" font-size="17.5" text-anchor="start" font-weight="normal" fill="#231f20" >B</text>
<text transform="translate(20,255) rotate(-90)" font-size="12.5" text-anchor="middle" fill="#231f20">−log<tspan font-size="9" dy="2.5">10</tspan><tspan dy="-2.5">(</tspan><tspan font-style="italic">p</tspan>)</text>
<rect x="55.6" y="306.9" width="3.3" height="3.3" fill="#4a86c8"/>
<path d="M57.6 313.7L59.6 317.2L55.6 317.2Z" fill="#f7bcd0"/>
<rect x="54.7" y="320.4" width="3.3" height="3.3" fill="#4a86c8"/>
<circle cx="59.9" cy="321.0" r="1.8" fill="#5ec4c2"/>
<path d="M58.5 322.5L60.5 326.0L56.6 326.0Z" fill="#262d7f"/>
<circle cx="60.2" cy="323.6" r="1.8" fill="#ffd500"/>
<rect x="54.7" y="325.6" width="3.3" height="3.3" fill="#7a4ea0"/>
<circle cx="60.5" cy="326.9" r="1.8" fill="#ffd500"/>
<rect x="62.1" y="315.7" width="3.3" height="3.3" fill="#ffd500"/>
<rect x="61.5" y="319.3" width="3.3" height="3.3" fill="#1f8a44"/>
<path d="M65.8 320.3L67.7 323.8L63.8 323.8Z" fill="#1f8a44"/>
<circle cx="65.8" cy="325.6" r="1.8" fill="#f7871f"/>
<path d="M66.4 308.7L68.4 312.2L64.4 312.2Z" fill="#f7bcd0"/>
<path d="M69.1 308.7L71.0 312.2L67.1 312.2Z" fill="#1f8a44"/>
<path d="M70.8 314.7L72.7 318.1L68.8 318.1Z" fill="#4a86c8"/>
<circle cx="73.0" cy="319.9" r="1.8" fill="#b0232a"/>
<path d="M75.6 321.6L77.6 325.1L73.6 325.1Z" fill="#b0232a"/>
<rect x="70.7" y="322.6" width="3.3" height="3.3" fill="#7a4ea0"/>
<rect x="68.7" y="322.0" width="3.3" height="3.3" fill="#b0232a"/>
<circle cx="67.7" cy="325.6" r="1.8" fill="#f7871f"/>
<rect x="70.7" y="325.6" width="3.3" height="3.3" fill="#e41e26"/>
<circle cx="87.8" cy="312.4" r="1.8" fill="#1f8a44"/>
<circle cx="87.8" cy="313.8" r="1.8" fill="#1f8a44"/>
<rect x="83.2" y="317.4" width="3.3" height="3.3" fill="#262d7f"/>
<rect x="83.2" y="321.3" width="3.3" height="3.3" fill="#b0232a"/>
<circle cx="87.8" cy="321.0" r="1.8" fill="#f7871f"/>
<rect x="86.5" y="322.6" width="3.3" height="3.3" fill="#e41e26"/>
<rect x="87.1" y="325.2" width="3.3" height="3.3" fill="#e41e26"/>
<rect x="93.3" y="307.8" width="3.3" height="3.3" fill="#f7871f"/>
<circle cx="99.9" cy="308.8" r="1.8" fill="#b0232a"/>
<path d="M94.7 319.9L96.7 323.4L92.7 323.4Z" fill="#5ec4c2"/>
<path d="M94.7 322.5L96.7 326.0L92.7 326.0Z" fill="#5ec4c2"/>
<path d="M94.7 325.2L96.7 328.6L92.7 328.6Z" fill="#5ec4c2"/>
<path d="M102.6 319.3L104.5 322.7L100.6 322.7Z" fill="#262d7f"/>
<rect x="98.9" y="322.6" width="3.3" height="3.3" fill="#7a4ea0"/>
<circle cx="103.9" cy="324.9" r="1.8" fill="#ffd500"/>
<path d="M106.5 322.9L108.5 326.4L104.5 326.4Z" fill="#f7871f"/>
<path d="M102.6 325.8L104.5 329.3L100.6 329.3Z" fill="#5ec4c2"/>
<rect x="112.3" y="294.1" width="3.3" height="3.3" fill="#b0232a"/>
<path d="M125.9 294.0L127.9 297.5L124.0 297.5Z" fill="#4a86c8"/>
<rect x="111.2" y="310.8" width="3.3" height="3.3" fill="#1f8a44"/>
<rect x="111.2" y="315.4" width="3.3" height="3.3" fill="#f7bcd0"/>
<path d="M114.4 315.6L116.4 319.0L112.4 319.0Z" fill="#b0232a"/>
<circle cx="112.8" cy="321.6" r="1.8" fill="#f7bcd0"/>
<circle cx="112.8" cy="327.3" r="1.8" fill="#1f8a44"/>
<rect x="117.3" y="312.1" width="3.3" height="3.3" fill="#f7bcd0"/>
<path d="M122.3 312.0L124.2 315.5L120.3 315.5Z" fill="#1f8a44"/>
<circle cx="125.5" cy="311.8" r="1.8" fill="#4a86c8"/>
<path d="M123.3 310.7L125.3 314.2L121.3 314.2Z" fill="#e41e26"/>
<circle cx="122.3" cy="317.7" r="1.8" fill="#f7871f"/>
<circle cx="119.6" cy="320.3" r="1.8" fill="#5ec4c2"/>
<path d="M130.4 316.0L132.4 319.4L128.4 319.4Z" fill="#1f8a44"/>
<circle cx="129.5" cy="320.7" r="1.8" fill="#ffd500"/>
<path d="M135.4 319.5L137.4 323.0L133.4 323.0Z" fill="#262d7f"/>
<path d="M138.7 317.3L140.7 320.7L136.7 320.7Z" fill="#262d7f"/>
<rect x="137.7" y="311.5" width="3.3" height="3.3" fill="#262d7f"/>
<rect x="118.0" y="323.3" width="3.3" height="3.3" fill="#e41e26"/>
<path d="M122.9 322.9L124.9 326.4L120.9 326.4Z" fill="#262d7f"/>
<rect x="128.8" y="323.9" width="3.3" height="3.3" fill="#b0232a"/>
<rect x="134.4" y="323.9" width="3.3" height="3.3" fill="#ffd500"/>
<circle cx="126.9" cy="326.9" r="1.8" fill="#f7871f"/>
<rect x="125.9" y="320.6" width="3.3" height="3.3" fill="#1f8a44"/>
<circle cx="126.2" cy="324.9" r="1.8" fill="#262d7f"/>
<rect x="146.9" y="277.3" width="3.3" height="3.3" fill="#f7871f"/>
<path d="M207.7 278.3L209.6 281.7L205.7 281.7Z" fill="#f7871f"/>
<circle cx="148.5" cy="317.7" r="1.8" fill="#f7871f"/>
<path d="M149.5 319.3L151.4 322.7L147.5 322.7Z" fill="#7a4ea0"/>
<rect x="146.0" y="319.3" width="3.3" height="3.3" fill="#1f8a44"/>
<rect x="146.9" y="322.6" width="3.3" height="3.3" fill="#f7bcd0"/>
<rect x="144.3" y="323.3" width="3.3" height="3.3" fill="#f7871f"/>
<rect x="150.8" y="323.5" width="3.3" height="3.3" fill="#4a86c8"/>
<circle cx="155.5" cy="324.3" r="1.8" fill="#7a4ea0"/>
<rect x="155.7" y="325.6" width="3.3" height="3.3" fill="#f7871f"/>
<rect x="146.9" y="326.6" width="3.3" height="3.3" fill="#ffd500"/>
<path d="M163.6 321.2L165.6 324.7L161.7 324.7Z" fill="#e41e26"/>
<path d="M163.6 323.9L165.6 327.3L161.7 327.3Z" fill="#e41e26"/>
<path d="M166.9 321.9L168.9 325.3L165.0 325.3Z" fill="#4a86c8"/>
<circle cx="167.9" cy="326.0" r="1.8" fill="#f7871f"/>
<rect x="165.9" y="312.8" width="3.3" height="3.3" fill="#f7871f"/>
<rect x="180.1" y="322.6" width="3.3" height="3.3" fill="#7a4ea0"/>
<circle cx="181.0" cy="326.9" r="1.8" fill="#e41e26"/>
<circle cx="196.8" cy="300.0" r="1.8" fill="#1f8a44"/>
<rect x="196.8" y="299.9" width="3.3" height="3.3" fill="#e41e26"/>
<rect x="199.1" y="304.6" width="3.3" height="3.3" fill="#262d7f"/>
<rect x="196.2" y="306.9" width="3.3" height="3.3" fill="#1f8a44"/>
<path d="M198.5 310.1L200.4 313.5L196.5 313.5Z" fill="#4a86c8"/>
<path d="M204.4 309.4L206.4 312.9L202.4 312.9Z" fill="#f7bcd0"/>
<rect x="206.0" y="308.8" width="3.3" height="3.3" fill="#e41e26"/>
<rect x="201.7" y="313.8" width="3.3" height="3.3" fill="#7a4ea0"/>
<path d="M188.4 312.4L190.3 315.9L186.4 315.9Z" fill="#f7871f"/>
<rect x="187.0" y="315.7" width="3.3" height="3.3" fill="#5ec4c2"/>
<rect x="191.6" y="315.7" width="3.3" height="3.3" fill="#ffd500"/>
<path d="M196.5 315.0L198.5 318.5L194.5 318.5Z" fill="#1f8a44"/>
<rect x="195.1" y="318.0" width="3.3" height="3.3" fill="#f7bcd0"/>
<rect x="195.1" y="320.0" width="3.3" height="3.3" fill="#f7bcd0"/>
<rect x="197.5" y="318.7" width="3.3" height="3.3" fill="#e41e26"/>
<rect x="197.5" y="321.3" width="3.3" height="3.3" fill="#e41e26"/>
<circle cx="201.8" cy="319.0" r="1.8" fill="#ffd500"/>
<circle cx="205.0" cy="319.7" r="1.8" fill="#ffd500"/>
<path d="M208.3 317.9L210.3 321.4L206.3 321.4Z" fill="#262d7f"/>
<circle cx="191.2" cy="321.2" r="1.8" fill="#262d7f"/>
<circle cx="189.7" cy="320.3" r="1.8" fill="#e41e26"/>
<path d="M187.0 321.2L189.0 324.7L185.1 324.7Z" fill="#262d7f"/>
<path d="M188.9 323.2L190.9 326.7L186.9 326.7Z" fill="#5ec4c2"/>
<circle cx="188.0" cy="326.9" r="1.8" fill="#ffd500"/>
<rect x="200.1" y="322.6" width="3.3" height="3.3" fill="#e41e26"/>
<path d="M192.3 324.5L194.3 328.0L190.3 328.0Z" fill="#4a86c8"/>
<circle cx="194.5" cy="327.6" r="1.8" fill="#4a86c8"/>
<circle cx="205.7" cy="323.0" r="1.8" fill="#262d7f"/>
<rect x="202.7" y="323.9" width="3.3" height="3.3" fill="#e41e26"/>
<circle cx="208.3" cy="326.9" r="1.8" fill="#1f8a44"/>
<circle cx="209.6" cy="324.3" r="1.8" fill="#262d7f"/>
<circle cx="217.3" cy="311.8" r="1.8" fill="#f7bcd0"/>
<path d="M217.3 314.3L219.2 317.7L215.3 317.7Z" fill="#f7bcd0"/>
<circle cx="224.1" cy="317.7" r="1.8" fill="#b0232a"/>
<circle cx="226.7" cy="318.4" r="1.8" fill="#ffd500"/>
<rect x="221.1" y="318.7" width="3.3" height="3.3" fill="#7a4ea0"/>
<circle cx="224.1" cy="321.6" r="1.8" fill="#f7bcd0"/>
<path d="M226.1 322.5L228.0 326.0L224.1 326.0Z" fill="#262d7f"/>
<rect x="222.4" y="323.9" width="3.3" height="3.3" fill="#e41e26"/>
<circle cx="214.9" cy="325.6" r="1.8" fill="#ffd500"/>
<circle cx="217.5" cy="325.6" r="1.8" fill="#f7871f"/>
<circle cx="220.1" cy="326.9" r="1.8" fill="#f7871f"/>
<circle cx="220.8" cy="324.3" r="1.8" fill="#e41e26"/>
<circle cx="229.3" cy="325.6" r="1.8" fill="#f7871f"/>
<circle cx="285.4" cy="282.2" r="1.8" fill="#f7871f"/>
<rect x="257.5" y="300.5" width="3.3" height="3.3" fill="#ffd500"/>
<path d="M262.2 300.5L264.2 303.9L260.2 303.9Z" fill="#f7871f"/>
<circle cx="260.9" cy="307.8" r="1.8" fill="#b0232a"/>
<rect x="239.9" y="306.9" width="3.3" height="3.3" fill="#5ec4c2"/>
<rect x="239.9" y="310.1" width="3.3" height="3.3" fill="#5ec4c2"/>
<path d="M241.6 313.3L243.5 316.8L239.6 316.8Z" fill="#5ec4c2"/>
<path d="M241.6 320.3L243.5 323.8L239.6 323.8Z" fill="#5ec4c2"/>
<rect x="239.9" y="323.9" width="3.3" height="3.3" fill="#5ec4c2"/>
<rect x="232.9" y="322.2" width="3.3" height="3.3" fill="#f7bcd0"/>
<circle cx="252.1" cy="312.1" r="1.8" fill="#262d7f"/>
<circle cx="251.7" cy="315.1" r="1.8" fill="#ffd500"/>
<circle cx="256.3" cy="314.2" r="1.8" fill="#4a86c8"/>
<path d="M259.6 312.7L261.5 316.1L257.6 316.1Z" fill="#f7871f"/>
<rect x="257.9" y="315.7" width="3.3" height="3.3" fill="#ffd500"/>
<rect x="247.4" y="314.1" width="3.3" height="3.3" fill="#f7871f"/>
<circle cx="254.7" cy="316.0" r="1.8" fill="#f7bcd0"/>
<path d="M252.3 317.3L254.3 320.7L250.4 320.7Z" fill="#262d7f"/>
<rect x="246.7" y="318.0" width="3.3" height="3.3" fill="#f7871f"/>
<path d="M247.1 320.8L249.1 324.3L245.1 324.3Z" fill="#e41e26"/>
<rect x="250.7" y="320.4" width="3.3" height="3.3" fill="#1f8a44"/>
<circle cx="258.2" cy="321.0" r="1.8" fill="#e41e26"/>
<circle cx="261.3" cy="321.6" r="1.8" fill="#4a86c8"/>
<circle cx="260.2" cy="324.9" r="1.8" fill="#f7bcd0"/>
<path d="M263.9 322.5L265.9 326.0L261.9 326.0Z" fill="#1f8a44"/>
<path d="M249.1 324.5L251.0 328.0L247.1 328.0Z" fill="#262d7f"/>
<rect x="255.9" y="323.3" width="3.3" height="3.3" fill="#e41e26"/>
<path d="M256.9 321.9L258.9 325.3L255.0 325.3Z" fill="#4a86c8"/>
<path d="M258.9 325.8L260.9 329.3L256.9 329.3Z" fill="#e41e26"/>
<path d="M263.5 325.2L265.5 328.6L261.5 328.6Z" fill="#4a86c8"/>
<circle cx="247.1" cy="325.6" r="1.8" fill="#ffd500"/>
<circle cx="253.0" cy="326.9" r="1.8" fill="#f7bcd0"/>
<rect x="270.4" y="306.9" width="3.3" height="3.3" fill="#f7bcd0"/>
<path d="M276.6 306.4L278.6 309.8L274.7 309.8Z" fill="#7a4ea0"/>
<rect x="275.0" y="311.5" width="3.3" height="3.3" fill="#f7871f"/>
<circle cx="276.6" cy="315.5" r="1.8" fill="#ffd500"/>
<circle cx="286.5" cy="315.1" r="1.8" fill="#5ec4c2"/>
<circle cx="272.0" cy="321.6" r="1.8" fill="#f7bcd0"/>
<path d="M275.3 318.6L277.3 322.1L273.3 322.1Z" fill="#7a4ea0"/>
<path d="M279.7 319.3L281.6 322.7L277.7 322.7Z" fill="#1f8a44"/>
<rect x="273.0" y="323.9" width="3.3" height="3.3" fill="#f7871f"/>
<rect x="275.0" y="324.6" width="3.3" height="3.3" fill="#f7871f"/>
<path d="M271.8 323.9L273.8 327.3L269.8 327.3Z" fill="#4a86c8"/>
<circle cx="287.2" cy="324.7" r="1.8" fill="#f7871f"/>
<rect x="281.6" y="325.9" width="3.3" height="3.3" fill="#ffd500"/>
<circle cx="295.4" cy="320.7" r="1.8" fill="#ffd500"/>
<rect x="299.3" y="318.7" width="3.3" height="3.3" fill="#f7bcd0"/>
<path d="M306.9 316.6L308.8 320.1L304.9 320.1Z" fill="#f7bcd0"/>
<rect x="301.9" y="322.6" width="3.3" height="3.3" fill="#7a4ea0"/>
<circle cx="295.7" cy="325.6" r="1.8" fill="#ffd500"/>
<path d="M298.3 325.2L300.3 328.6L296.3 328.6Z" fill="#7a4ea0"/>
<circle cx="304.6" cy="326.9" r="1.8" fill="#ffd500"/>
<path d="M306.5 322.9L308.4 326.4L304.5 326.4Z" fill="#f7bcd0"/>
<rect x="311.8" y="311.7" width="3.3" height="3.3" fill="#f7871f"/>
<rect x="313.8" y="310.8" width="3.3" height="3.3" fill="#f7871f"/>
<rect x="315.7" y="316.1" width="3.3" height="3.3" fill="#5ec4c2"/>
<path d="M313.4 316.6L315.4 320.1L311.5 320.1Z" fill="#262d7f"/>
<rect x="311.1" y="320.0" width="3.3" height="3.3" fill="#b0232a"/>
<circle cx="316.1" cy="324.3" r="1.8" fill="#f7bcd0"/>
<path d="M314.1 323.9L316.1 327.3L312.1 327.3Z" fill="#262d7f"/>
<circle cx="316.1" cy="327.8" r="1.8" fill="#ffd500"/>
<circle cx="319.3" cy="325.6" r="1.8" fill="#5ec4c2"/>
<circle cx="330.5" cy="287.5" r="1.8" fill="#5ec4c2"/>
<rect x="330.8" y="291.5" width="3.3" height="3.3" fill="#ffd500"/>
<rect x="335.2" y="300.3" width="3.3" height="3.3" fill="#262d7f"/>
<rect x="326.5" y="302.9" width="3.3" height="3.3" fill="#ffd500"/>
<rect x="330.8" y="302.9" width="3.3" height="3.3" fill="#ffd500"/>
<path d="M330.8 305.1L332.8 308.5L328.8 308.5Z" fill="#5ec4c2"/>
<path d="M328.5 309.4L330.5 312.9L326.6 312.9Z" fill="#262d7f"/>
<rect x="330.8" y="311.5" width="3.3" height="3.3" fill="#ffd500"/>
<path d="M325.9 312.7L327.9 316.1L323.9 316.1Z" fill="#5ec4c2"/>
<path d="M324.6 314.7L326.6 318.1L322.6 318.1Z" fill="#1f8a44"/>
<rect x="327.8" y="312.8" width="3.3" height="3.3" fill="#f7871f"/>
<circle cx="333.1" cy="316.0" r="1.8" fill="#f7871f"/>
<circle cx="337.1" cy="317.7" r="1.8" fill="#e41e26"/>
<rect x="328.9" y="315.7" width="3.3" height="3.3" fill="#262d7f"/>
<rect x="324.3" y="318.0" width="3.3" height="3.3" fill="#5ec4c2"/>
<circle cx="332.5" cy="321.2" r="1.8" fill="#ffd500"/>
<path d="M333.8 318.6L335.8 322.1L331.8 322.1Z" fill="#f7871f"/>
<circle cx="325.9" cy="322.3" r="1.8" fill="#e41e26"/>
<circle cx="328.1" cy="323.4" r="1.8" fill="#ffd500"/>
<circle cx="325.9" cy="325.6" r="1.8" fill="#f7bcd0"/>
<rect x="330.8" y="323.9" width="3.3" height="3.3" fill="#e41e26"/>
<path d="M328.1 325.2L330.1 328.6L326.2 328.6Z" fill="#4a86c8"/>
<path d="M320.7 322.5L322.6 326.0L318.7 326.0Z" fill="#5ec4c2"/>
<path d="M346.0 315.6L348.0 319.0L344.0 319.0Z" fill="#7a4ea0"/>
<rect x="344.4" y="319.6" width="3.3" height="3.3" fill="#7a4ea0"/>
<path d="M343.0 323.9L345.0 327.3L341.0 327.3Z" fill="#7a4ea0"/>
<circle cx="341.7" cy="326.2" r="1.8" fill="#5ec4c2"/>
<rect x="347.9" y="322.6" width="3.3" height="3.3" fill="#ffd500"/>
<rect x="347.9" y="325.9" width="3.3" height="3.3" fill="#ffd500"/>
<rect x="344.6" y="325.9" width="3.3" height="3.3" fill="#7a4ea0"/>
<circle cx="359.4" cy="308.5" r="1.8" fill="#ffd500"/>
<circle cx="364.4" cy="308.9" r="1.8" fill="#e41e26"/>
<rect x="357.5" y="312.5" width="3.3" height="3.3" fill="#5ec4c2"/>
<circle cx="359.2" cy="317.3" r="1.8" fill="#1f8a44"/>
<path d="M359.2 319.3L361.1 322.7L357.2 322.7Z" fill="#f7871f"/>
<path d="M359.2 322.5L361.1 326.0L357.2 326.0Z" fill="#5ec4c2"/>
<path d="M359.2 325.2L361.1 328.6L357.2 328.6Z" fill="#5ec4c2"/>
<circle cx="356.5" cy="324.7" r="1.8" fill="#7a4ea0"/>
<path d="M366.2 316.6L368.2 320.1L364.3 320.1Z" fill="#5ec4c2"/>
<path d="M364.7 323.9L366.7 327.3L362.7 327.3Z" fill="#1f8a44"/>
<path d="M368.0 323.9L369.9 327.3L366.0 327.3Z" fill="#1f8a44"/>
<path d="M375.2 322.5L377.2 326.0L373.2 326.0Z" fill="#1f8a44"/>
<rect x="370.9" y="325.2" width="3.3" height="3.3" fill="#7a4ea0"/>
<circle cx="394.0" cy="299.7" r="1.8" fill="#262d7f"/>
<circle cx="399.2" cy="305.2" r="1.8" fill="#262d7f"/>
<rect x="389.0" y="305.5" width="3.3" height="3.3" fill="#b0232a"/>
<path d="M392.3 304.1L394.2 307.6L390.3 307.6Z" fill="#f7bcd0"/>
<path d="M394.2 307.7L396.2 311.2L392.3 311.2Z" fill="#262d7f"/>
<circle cx="392.9" cy="312.4" r="1.8" fill="#ffd500"/>
<path d="M390.9 312.7L392.9 316.1L389.0 316.1Z" fill="#5ec4c2"/>
<rect x="382.5" y="315.1" width="3.3" height="3.3" fill="#1f8a44"/>
<path d="M392.9 315.6L394.9 319.0L390.9 319.0Z" fill="#f7871f"/>
<path d="M396.2 316.0L398.2 319.4L394.2 319.4Z" fill="#f7871f"/>
<path d="M388.6 316.6L390.6 320.1L386.6 320.1Z" fill="#b0232a"/>
<rect x="391.9" y="314.7" width="3.3" height="3.3" fill="#ffd500"/>
<rect x="383.8" y="319.3" width="3.3" height="3.3" fill="#7a4ea0"/>
<path d="M399.5 319.3L401.5 322.7L397.5 322.7Z" fill="#262d7f"/>
<rect x="385.4" y="322.0" width="3.3" height="3.3" fill="#e41e26"/>
<circle cx="389.0" cy="322.6" r="1.8" fill="#4a86c8"/>
<rect x="390.0" y="322.0" width="3.3" height="3.3" fill="#f7871f"/>
<rect x="388.0" y="322.6" width="3.3" height="3.3" fill="#7a4ea0"/>
<circle cx="396.2" cy="322.3" r="1.8" fill="#ffd500"/>
<path d="M394.6 323.2L396.6 326.7L392.6 326.7Z" fill="#5ec4c2"/>
<path d="M384.1 325.2L386.1 328.6L382.1 328.6Z" fill="#262d7f"/>
<rect x="397.8" y="323.3" width="3.3" height="3.3" fill="#4a86c8"/>
<path d="M401.5 322.9L403.4 326.4L399.5 326.4Z" fill="#4a86c8"/>
<rect x="397.2" y="325.2" width="3.3" height="3.3" fill="#e41e26"/>
<circle cx="389.6" cy="327.6" r="1.8" fill="#ffd500"/>
<path d="M409.3 318.6L411.3 322.1L407.4 322.1Z" fill="#4a86c8"/>
<circle cx="409.3" cy="326.9" r="1.8" fill="#5ec4c2"/>
<rect x="451.7" y="284.9" width="3.3" height="3.3" fill="#e41e26"/>
<path d="M449.2 293.6L451.1 297.1L447.2 297.1Z" fill="#f7871f"/>
<circle cx="491.5" cy="290.8" r="1.8" fill="#b0232a"/>
<rect x="421.5" y="312.5" width="3.3" height="3.3" fill="#f7bcd0"/>
<rect x="418.6" y="318.3" width="3.3" height="3.3" fill="#ffd500"/>
<circle cx="425.1" cy="319.0" r="1.8" fill="#f7871f"/>
<circle cx="427.1" cy="318.4" r="1.8" fill="#4a86c8"/>
<circle cx="429.1" cy="321.6" r="1.8" fill="#5ec4c2"/>
<rect x="421.5" y="320.6" width="3.3" height="3.3" fill="#f7bcd0"/>
<rect x="421.5" y="323.0" width="3.3" height="3.3" fill="#f7bcd0"/>
<circle cx="420.2" cy="327.3" r="1.8" fill="#4a86c8"/>
<rect x="427.4" y="325.6" width="3.3" height="3.3" fill="#4a86c8"/>
<path d="M433.6 307.7L435.6 311.2L431.7 311.2Z" fill="#e41e26"/>
<path d="M436.3 308.7L438.3 312.2L434.3 312.2Z" fill="#262d7f"/>
<circle cx="442.8" cy="312.1" r="1.8" fill="#f7871f"/>
<rect x="445.8" y="311.7" width="3.3" height="3.3" fill="#7a4ea0"/>
<path d="M441.5 313.3L443.5 316.8L439.6 316.8Z" fill="#262d7f"/>
<circle cx="449.4" cy="315.7" r="1.8" fill="#f7871f"/>
<circle cx="434.3" cy="317.0" r="1.8" fill="#f7871f"/>
<circle cx="444.8" cy="317.7" r="1.8" fill="#f7871f"/>
<path d="M448.1 317.3L450.1 320.7L446.1 320.7Z" fill="#7a4ea0"/>
<rect x="449.7" y="317.4" width="3.3" height="3.3" fill="#262d7f"/>
<path d="M442.8 317.9L444.8 321.4L440.9 321.4Z" fill="#262d7f"/>
<rect x="432.7" y="320.0" width="3.3" height="3.3" fill="#e41e26"/>
<circle cx="440.9" cy="318.4" r="1.8" fill="#7a4ea0"/>
<path d="M444.8 319.9L446.8 323.4L442.8 323.4Z" fill="#262d7f"/>
<circle cx="452.7" cy="321.6" r="1.8" fill="#4a86c8"/>
<rect x="433.3" y="323.3" width="3.3" height="3.3" fill="#1f8a44"/>
<rect x="439.2" y="323.9" width="3.3" height="3.3" fill="#f7871f"/>
<circle cx="437.6" cy="325.6" r="1.8" fill="#e41e26"/>
<circle cx="448.8" cy="324.3" r="1.8" fill="#f7bcd0"/>
<circle cx="444.8" cy="324.9" r="1.8" fill="#4a86c8"/>
<path d="M450.7 323.9L452.7 327.3L448.8 327.3Z" fill="#1f8a44"/>
<circle cx="435.0" cy="327.6" r="1.8" fill="#f7bcd0"/>
<circle cx="464.3" cy="300.9" r="1.8" fill="#7a4ea0"/>
<circle cx="463.9" cy="303.6" r="1.8" fill="#ffd500"/>
<circle cx="469.4" cy="304.6" r="1.8" fill="#5ec4c2"/>
<circle cx="471.8" cy="307.6" r="1.8" fill="#ffd500"/>
<circle cx="464.1" cy="307.2" r="1.8" fill="#4a86c8"/>
<rect x="468.8" y="309.1" width="3.3" height="3.3" fill="#f7bcd0"/>
<path d="M464.1 312.7L466.1 316.1L462.2 316.1Z" fill="#5ec4c2"/>
<path d="M464.1 315.3L466.1 318.8L462.2 318.8Z" fill="#5ec4c2"/>
<path d="M460.6 316.6L462.6 320.1L458.6 320.1Z" fill="#f7871f"/>
<path d="M467.8 317.3L469.8 320.7L465.8 320.7Z" fill="#1f8a44"/>
<path d="M471.8 316.0L473.7 319.4L469.8 319.4Z" fill="#e41e26"/>
<circle cx="477.0" cy="317.7" r="1.8" fill="#b0232a"/>
<path d="M474.4 317.3L476.4 320.7L472.4 320.7Z" fill="#f7bcd0"/>
<rect x="476.0" y="319.6" width="3.3" height="3.3" fill="#262d7f"/>
<rect x="458.3" y="319.3" width="3.3" height="3.3" fill="#7a4ea0"/>
<circle cx="462.6" cy="321.6" r="1.8" fill="#f7bcd0"/>
<rect x="458.3" y="322.6" width="3.3" height="3.3" fill="#1f8a44"/>
<rect x="462.2" y="322.0" width="3.3" height="3.3" fill="#e41e26"/>
<circle cx="466.5" cy="324.3" r="1.8" fill="#5ec4c2"/>
<path d="M471.8 321.9L473.7 325.3L469.8 325.3Z" fill="#7a4ea0"/>
<path d="M474.4 322.5L476.4 326.0L472.4 326.0Z" fill="#f7bcd0"/>
<path d="M478.3 323.2L480.3 326.7L476.3 326.7Z" fill="#5ec4c2"/>
<rect x="458.3" y="325.2" width="3.3" height="3.3" fill="#e41e26"/>
<path d="M467.8 325.2L469.8 328.6L465.8 328.6Z" fill="#5ec4c2"/>
<circle cx="471.8" cy="327.6" r="1.8" fill="#262d7f"/>
<circle cx="475.7" cy="326.9" r="1.8" fill="#4a86c8"/>
<circle cx="479.6" cy="326.9" r="1.8" fill="#ffd500"/>
<rect x="489.8" y="306.2" width="3.3" height="3.3" fill="#262d7f"/>
<rect x="494.4" y="303.3" width="3.3" height="3.3" fill="#f7871f"/>
<path d="M496.1 307.7L498.0 311.2L494.1 311.2Z" fill="#7a4ea0"/>
<rect x="497.0" y="309.5" width="3.3" height="3.3" fill="#f7bcd0"/>
<rect x="486.5" y="311.2" width="3.3" height="3.3" fill="#262d7f"/>
<circle cx="490.8" cy="314.4" r="1.8" fill="#7a4ea0"/>
<rect x="495.1" y="312.5" width="3.3" height="3.3" fill="#f7871f"/>
<path d="M494.1 312.7L496.1 316.1L492.1 316.1Z" fill="#e41e26"/>
<path d="M499.3 316.0L501.3 319.4L497.4 319.4Z" fill="#262d7f"/>
<circle cx="494.1" cy="318.4" r="1.8" fill="#f7bcd0"/>
<path d="M496.7 317.9L498.7 321.4L494.7 321.4Z" fill="#b0232a"/>
<path d="M492.1 319.0L494.1 322.5L490.1 322.5Z" fill="#262d7f"/>
<circle cx="486.5" cy="322.6" r="1.8" fill="#f7871f"/>
<circle cx="492.1" cy="324.3" r="1.8" fill="#ffd500"/>
<circle cx="489.5" cy="324.9" r="1.8" fill="#7a4ea0"/>
<path d="M495.4 321.9L497.4 325.3L493.4 325.3Z" fill="#5ec4c2"/>
<circle cx="487.5" cy="327.3" r="1.8" fill="#4a86c8"/>
<circle cx="491.5" cy="327.3" r="1.8" fill="#5ec4c2"/>
<circle cx="498.0" cy="326.2" r="1.8" fill="#262d7f"/>
<circle cx="486.2" cy="327.3" r="1.8" fill="#7a4ea0"/>
<circle cx="494.1" cy="326.9" r="1.8" fill="#ffd500"/>
<path d="M503.1 304.5L505.1 308.0L501.2 308.0Z" fill="#e41e26"/>
<rect x="501.5" y="306.7" width="3.3" height="3.3" fill="#e41e26"/>
<rect x="503.6" y="308.9" width="3.3" height="3.3" fill="#7a4ea0"/>
<circle cx="502.2" cy="315.2" r="1.8" fill="#4a86c8"/>
<circle cx="507.5" cy="316.2" r="1.8" fill="#f7871f"/>
<rect x="503.2" y="316.8" width="3.3" height="3.3" fill="#7a4ea0"/>
<rect x="503.2" y="319.1" width="3.3" height="3.3" fill="#7a4ea0"/>
<path d="M500.9 318.0L502.9 321.5L498.9 321.5Z" fill="#5ec4c2"/>
<circle cx="503.5" cy="323.1" r="1.8" fill="#262d7f"/>
<path d="M506.2 324.6L508.1 328.1L504.2 328.1Z" fill="#262d7f"/>
<path d="M502.2 325.3L504.2 328.7L500.2 328.7Z" fill="#5ec4c2"/>
<circle cx="516.7" cy="293.1" r="1.8" fill="#f7871f"/>
<path d="M516.3 312.1L518.3 315.6L514.3 315.6Z" fill="#b0232a"/>
<rect x="515.0" y="314.8" width="3.3" height="3.3" fill="#f7871f"/>
<path d="M518.4 318.0L520.4 321.5L516.4 321.5Z" fill="#b0232a"/>
<rect x="514.4" y="322.5" width="3.3" height="3.3" fill="#ffd500"/>
<rect x="516.7" y="322.7" width="3.3" height="3.3" fill="#b0232a"/>
<rect x="516.7" y="325.4" width="3.3" height="3.3" fill="#e41e26"/>
<path d="M533.4 310.8L535.3 314.3L531.4 314.3Z" fill="#262d7f"/>
<circle cx="537.7" cy="314.5" r="1.8" fill="#f7871f"/>
<rect x="538.7" y="313.3" width="3.3" height="3.3" fill="#f7bcd0"/>
<rect x="532.5" y="315.9" width="3.3" height="3.3" fill="#5ec4c2"/>
<path d="M534.2 318.7L536.1 322.2L532.2 322.2Z" fill="#5ec4c2"/>
<rect x="532.5" y="321.7" width="3.3" height="3.3" fill="#7a4ea0"/>
<rect x="532.5" y="325.6" width="3.3" height="3.3" fill="#1f8a44"/>
<rect x="538.0" y="321.7" width="3.3" height="3.3" fill="#f7871f"/>
<circle cx="540.3" cy="325.7" r="1.8" fill="#f7bcd0"/>
<rect x="536.1" y="325.6" width="3.3" height="3.3" fill="#1f8a44"/>
<circle cx="543.0" cy="327.7" r="1.8" fill="#7a4ea0"/>
<path d="M571.6 274.0L573.6 277.5L569.6 277.5Z" fill="#f7871f"/>
<circle cx="576.7" cy="293.1" r="1.8" fill="#b0232a"/>
<circle cx="557.8" cy="306.2" r="1.8" fill="#1f8a44"/>
<path d="M563.3 307.5L565.3 311.0L561.3 311.0Z" fill="#f7871f"/>
<path d="M572.3 304.0L574.2 307.5L570.3 307.5Z" fill="#7a4ea0"/>
<rect x="575.1" y="308.0" width="3.3" height="3.3" fill="#b0232a"/>
<path d="M565.7 309.2L567.7 312.7L563.7 312.7Z" fill="#7a4ea0"/>
<path d="M565.7 311.1L567.7 314.6L563.7 314.6Z" fill="#e41e26"/>
<path d="M549.9 316.1L551.9 319.5L547.9 319.5Z" fill="#f7bcd0"/>
<rect x="551.4" y="315.5" width="3.3" height="3.3" fill="#4a86c8"/>
<rect x="555.4" y="315.8" width="3.3" height="3.3" fill="#5ec4c2"/>
<circle cx="553.5" cy="320.4" r="1.8" fill="#f7871f"/>
<rect x="564.3" y="316.2" width="3.3" height="3.3" fill="#7a4ea0"/>
<rect x="561.7" y="319.1" width="3.3" height="3.3" fill="#7a4ea0"/>
<rect x="556.4" y="320.1" width="3.3" height="3.3" fill="#f7871f"/>
<circle cx="558.1" cy="323.1" r="1.8" fill="#1f8a44"/>
<circle cx="565.3" cy="323.7" r="1.8" fill="#ffd500"/>
<path d="M553.5 324.0L555.4 327.4L551.5 327.4Z" fill="#e41e26"/>
<rect x="547.2" y="324.0" width="3.3" height="3.3" fill="#f7871f"/>
<circle cx="557.4" cy="325.7" r="1.8" fill="#5ec4c2"/>
<rect x="564.0" y="325.4" width="3.3" height="3.3" fill="#e41e26"/>
<rect x="570.9" y="322.1" width="3.3" height="3.3" fill="#7a4ea0"/>
<circle cx="573.2" cy="322.8" r="1.8" fill="#1f8a44"/>
<circle cx="572.5" cy="326.4" r="1.8" fill="#7a4ea0"/>
<path d="M576.7 320.0L578.7 323.5L574.7 323.5Z" fill="#f7bcd0"/>
<path d="M577.1 323.3L579.1 326.8L575.1 326.8Z" fill="#7a4ea0"/>
<rect x="578.1" y="324.0" width="3.3" height="3.3" fill="#f7871f"/>
<circle cx="568.6" cy="325.0" r="1.8" fill="#e41e26"/>
<circle cx="568.6" cy="327.0" r="1.8" fill="#f7871f"/>
<rect x="103.5" y="258.7" width="3.3" height="3.3" fill="#e41e26"/>
<path d="M105.2 268.1L107.2 271.5L103.2 271.5Z" fill="#e41e26"/>
<path d="M453.3 261.7L455.3 265.1L451.3 265.1Z" fill="#e41e26"/>
<rect x="64.1" y="319.1" width="3.3" height="3.3" fill="#7a4ea0"/>
<circle cx="65.9" cy="324.4" r="1.8" fill="#f7bcd0"/>
<path d="M63.5 318.5L65.5 321.9L61.5 321.9Z" fill="#ffd500"/>
<path d="M105.6 319.8L107.6 323.3L103.6 323.3Z" fill="#f7871f"/>
<circle cx="106.8" cy="321.5" r="1.8" fill="#ffd500"/>
<path d="M125.4 321.9L127.4 325.4L123.4 325.4Z" fill="#7a4ea0"/>
<rect x="202.9" y="324.7" width="3.3" height="3.3" fill="#4a86c8"/>
<circle cx="213.5" cy="324.5" r="1.8" fill="#7a4ea0"/>
<circle cx="198.7" cy="323.9" r="1.8" fill="#f7871f"/>
<path d="M305.6 321.8L307.6 325.3L303.7 325.3Z" fill="#7a4ea0"/>
<rect x="303.4" y="321.8" width="3.3" height="3.3" fill="#5ec4c2"/>
<path d="M324.2 323.7L326.2 327.2L322.2 327.2Z" fill="#1f8a44"/>
<circle cx="391.5" cy="324.3" r="1.8" fill="#f7871f"/>
<rect x="390.1" y="319.7" width="3.3" height="3.3" fill="#b0232a"/>
<path d="M391.0 317.2L393.0 320.6L389.0 320.6Z" fill="#1f8a44"/>
<rect x="434.9" y="318.0" width="3.3" height="3.3" fill="#b0232a"/>
<path d="M435.1 319.6L437.0 323.0L433.1 323.0Z" fill="#e41e26"/>
<rect x="432.4" y="318.6" width="3.3" height="3.3" fill="#f7bcd0"/>
<path d="M478.9 322.2L480.9 325.7L477.0 325.7Z" fill="#f7871f"/>
<path d="M476.6 322.0L478.6 325.5L474.6 325.5Z" fill="#b0232a"/>
<rect x="473.5" y="322.1" width="3.3" height="3.3" fill="#262d7f"/>
<circle cx="490.8" cy="320.1" r="1.8" fill="#e41e26"/>
<circle cx="491.9" cy="323.2" r="1.8" fill="#5ec4c2"/>
<rect x="491.5" y="317.5" width="3.3" height="3.3" fill="#1f8a44"/>
<path d="M545.1 317.2L547.1 320.7L543.2 320.7Z" fill="#f7bcd0"/>
<path d="M558.0 317.2L560.0 320.6L556.1 320.6Z" fill="#1f8a44"/>
<path d="M546.0 321.1L547.9 324.6L544.0 324.6Z" fill="#f7bcd0"/>
<line x1="46.2" y1="362.59999999999997" x2="46.2" y2="509.7" stroke="#555" stroke-width="1.2" />
<line x1="41.7" y1="509.7" x2="46.2" y2="509.7" stroke="#222" stroke-width="0.8" />
<text x="37.400000000000006" y="511.2" font-size="4.9" text-anchor="end" font-weight="bold" fill="#222"  stroke="#222" stroke-width="0.14">4</text>
<line x1="41.7" y1="480.28" x2="46.2" y2="480.28" stroke="#222" stroke-width="0.8" />
<text x="37.400000000000006" y="481.78" font-size="4.9" text-anchor="end" font-weight="bold" fill="#222"  stroke="#222" stroke-width="0.14">6</text>
<line x1="41.7" y1="450.86" x2="46.2" y2="450.86" stroke="#222" stroke-width="0.8" />
<text x="37.400000000000006" y="452.36" font-size="4.9" text-anchor="end" font-weight="bold" fill="#222"  stroke="#222" stroke-width="0.14">8</text>
<line x1="41.7" y1="421.44" x2="46.2" y2="421.44" stroke="#222" stroke-width="0.8" />
<text x="37.400000000000006" y="422.94" font-size="4.9" text-anchor="end" font-weight="bold" fill="#222"  stroke="#222" stroke-width="0.14">10</text>
<line x1="41.7" y1="392.02" x2="46.2" y2="392.02" stroke="#222" stroke-width="0.8" />
<text x="37.400000000000006" y="393.52" font-size="4.9" text-anchor="end" font-weight="bold" fill="#222"  stroke="#222" stroke-width="0.14">12</text>
<line x1="41.7" y1="362.59999999999997" x2="46.2" y2="362.59999999999997" stroke="#222" stroke-width="0.8" />
<text x="37.400000000000006" y="364.09999999999997" font-size="4.9" text-anchor="end" font-weight="bold" fill="#222"  stroke="#222" stroke-width="0.14">14</text>
<line x1="46.2" y1="509.7" x2="579" y2="509.7" stroke="#9a9a9a" stroke-width="1.6" />
<line x1="46" y1="516" x2="579" y2="516" stroke="#333" stroke-width="1.1" />
<line x1="46" y1="516" x2="46" y2="520.8" stroke="#333" stroke-width="1.0" />
<text transform="translate(46,531) scale(1.1,0.82)" font-size="4.7" text-anchor="middle" font-weight="bold" fill="#1a1a1a">Chr</text>
<line x1="64.5" y1="516" x2="64.5" y2="520.8" stroke="#333" stroke-width="1.0" />
<text transform="translate(64.5,531) scale(1.1,0.82)" font-size="4.7" text-anchor="middle" font-weight="bold" fill="#1a1a1a">Chr1A</text>
<line x1="95.7" y1="516" x2="95.7" y2="520.8" stroke="#333" stroke-width="1.0" />
<text transform="translate(95.7,531) scale(1.1,0.82)" font-size="4.7" text-anchor="middle" font-weight="bold" fill="#1a1a1a">Chr1B</text>
<line x1="125.8" y1="516" x2="125.8" y2="520.8" stroke="#333" stroke-width="1.0" />
<text transform="translate(125.8,531) scale(1.1,0.82)" font-size="4.7" text-anchor="middle" font-weight="bold" fill="#1a1a1a">Chr2A</text>
<line x1="158.5" y1="516" x2="158.5" y2="520.8" stroke="#333" stroke-width="1.0" />
<text transform="translate(158.5,531) scale(1.1,0.82)" font-size="4.7" text-anchor="middle" font-weight="bold" fill="#1a1a1a">Chr2B</text>
<line x1="193.5" y1="516" x2="193.5" y2="520.8" stroke="#333" stroke-width="1.0" />
<text transform="translate(193.5,531) scale(1.1,0.82)" font-size="4.7" text-anchor="middle" font-weight="bold" fill="#1a1a1a">Chr3A</text>
<line x1="227.3" y1="516" x2="227.3" y2="520.8" stroke="#333" stroke-width="1.0" />
<text transform="translate(227.3,531) scale(1.1,0.82)" font-size="4.7" text-anchor="middle" font-weight="bold" fill="#1a1a1a">Chr3B</text>
<line x1="255.6" y1="516" x2="255.6" y2="520.8" stroke="#333" stroke-width="1.0" />
<text transform="translate(255.6,531) scale(1.1,0.82)" font-size="4.7" text-anchor="middle" font-weight="bold" fill="#1a1a1a">Chr4A</text>
<line x1="279.9" y1="516" x2="279.9" y2="520.8" stroke="#333" stroke-width="1.0" />
<text transform="translate(279.9,531) scale(1.1,0.82)" font-size="4.7" text-anchor="middle" font-weight="bold" fill="#1a1a1a">Chr4B</text>
<line x1="306.7" y1="516" x2="306.7" y2="520.8" stroke="#333" stroke-width="1.0" />
<text transform="translate(306.7,531) scale(1.1,0.82)" font-size="4.7" text-anchor="middle" font-weight="bold" fill="#1a1a1a">Chr5A</text>
<line x1="337.7" y1="516" x2="337.7" y2="520.8" stroke="#333" stroke-width="1.0" />
<text transform="translate(337.7,531) scale(1.1,0.82)" font-size="4.7" text-anchor="middle" font-weight="bold" fill="#1a1a1a">Chr5B</text>
<line x1="366" y1="516" x2="366" y2="520.8" stroke="#333" stroke-width="1.0" />
<text transform="translate(366,531) scale(1.1,0.82)" font-size="4.7" text-anchor="middle" font-weight="bold" fill="#1a1a1a">Chr6A</text>
<line x1="392.3" y1="516" x2="392.3" y2="520.8" stroke="#333" stroke-width="1.0" />
<text transform="translate(392.3,531) scale(1.1,0.82)" font-size="4.7" text-anchor="middle" font-weight="bold" fill="#1a1a1a">Chr6B</text>
<line x1="418" y1="516" x2="418" y2="520.8" stroke="#333" stroke-width="1.0" />
<text transform="translate(418,531) scale(1.1,0.82)" font-size="4.7" text-anchor="middle" font-weight="bold" fill="#1a1a1a">Chr7A</text>
<line x1="443.2" y1="516" x2="443.2" y2="520.8" stroke="#333" stroke-width="1.0" />
<text transform="translate(443.2,531) scale(1.1,0.82)" font-size="4.7" text-anchor="middle" font-weight="bold" fill="#1a1a1a">Chr7B</text>
<line x1="469.5" y1="516" x2="469.5" y2="520.8" stroke="#333" stroke-width="1.0" />
<text transform="translate(469.5,531) scale(1.1,0.82)" font-size="4.7" text-anchor="middle" font-weight="bold" fill="#1a1a1a">Chr8A</text>
<line x1="496.4" y1="516" x2="496.4" y2="520.8" stroke="#333" stroke-width="1.0" />
<text transform="translate(496.4,531) scale(1.1,0.82)" font-size="4.7" text-anchor="middle" font-weight="bold" fill="#1a1a1a">Chr8B</text>
<line x1="527.6" y1="516" x2="527.6" y2="520.8" stroke="#333" stroke-width="1.0" />
<text transform="translate(527.6,531) scale(1.1,0.82)" font-size="4.7" text-anchor="middle" font-weight="bold" fill="#1a1a1a">Chr9A</text>
<line x1="562.6" y1="516" x2="562.6" y2="520.8" stroke="#333" stroke-width="1.0" />
<text transform="translate(562.6,531) scale(1.1,0.82)" font-size="4.7" text-anchor="middle" font-weight="bold" fill="#1a1a1a">Chr9B</text>
<text x="60.6" y="382.5" font-size="15" text-anchor="start" font-weight="normal" fill="#231f20" >SV based GWAS (BLINK)</text>
<text x="3.5" y="375.6" font-size="17.5" text-anchor="start" font-weight="normal" fill="#231f20" >C</text>
<text transform="translate(14.8,436.5) rotate(-90)" font-size="12.5" text-anchor="middle" fill="#231f20">−log<tspan font-size="9" dy="2.5">10</tspan><tspan dy="-2.5">(</tspan><tspan font-style="italic">p</tspan>)</text>
<path d="M54.8 506.5L56.7 509.9L52.9 509.9Z" fill="#b0232a"/>
<rect x="68.9" y="505.8" width="3.2" height="3.2" fill="#b0232a"/>
<circle cx="87.5" cy="494.5" r="1.8" fill="#b0232a"/>
<path d="M101.8 504.5L103.7 507.9L99.9 507.9Z" fill="#f7bcd0"/>
<path d="M106.3 502.6L108.2 506.0L104.4 506.0Z" fill="#b0232a"/>
<path d="M116.5 496.9L118.4 500.3L114.6 500.3Z" fill="#f7bcd0"/>
<path d="M117.6 502.0L119.5 505.4L115.7 505.4Z" fill="#262d7f"/>
<rect x="110.8" y="507.2" width="3.2" height="3.2" fill="#b0232a"/>
<circle cx="138.0" cy="501.1" r="1.8" fill="#e41e26"/>
<path d="M149.2 500.6L151.1 504.0L147.3 504.0Z" fill="#f7bcd0"/>
<circle cx="162.9" cy="506.4" r="1.8" fill="#ffd500"/>
<path d="M166.6 494.3L168.5 497.7L164.7 497.7Z" fill="#f7bcd0"/>
<path d="M179.8 434.1L181.7 437.5L177.9 437.5Z" fill="#f7bcd0"/>
<path d="M192.7 498.5L194.6 501.9L190.8 501.9Z" fill="#1f8a44"/>
<path d="M203.5 493.3L205.4 496.7L201.6 496.7Z" fill="#5ec4c2"/>
<rect x="201.9" y="495.9" width="3.2" height="3.2" fill="#5ec4c2"/>
<circle cx="203.5" cy="503.7" r="1.8" fill="#5ec4c2"/>
<path d="M215.4 489.3L217.3 492.7L213.5 492.7Z" fill="#f7bcd0"/>
<path d="M226.0 493.8L227.9 497.2L224.1 497.2Z" fill="#f7bcd0"/>
<path d="M233.1 501.4L235.0 504.8L231.2 504.8Z" fill="#7a4ea0"/>
<rect x="231.5" y="503.3" width="3.2" height="3.2" fill="#7a4ea0"/>
<path d="M264.8 503.5L266.7 506.9L262.9 506.9Z" fill="#4a86c8"/>
<path d="M263.8 507.5L265.7 510.9L261.9 510.9Z" fill="#5ec4c2"/>
<circle cx="274.6" cy="490.4" r="1.8" fill="#b0232a"/>
<circle cx="299.6" cy="479.2" r="1.8" fill="#b0232a"/>
<circle cx="317.2" cy="485.7" r="1.8" fill="#b0232a"/>
<path d="M314.6 499.1L316.5 502.5L312.7 502.5Z" fill="#7a4ea0"/>
<circle cx="388.0" cy="489.8" r="1.8" fill="#b0232a"/>
<circle cx="383.7" cy="501.6" r="1.8" fill="#e41e26"/>
<path d="M388.0 501.1L389.9 504.5L386.1 504.5Z" fill="#4a86c8"/>
<rect x="392.0" y="498.4" width="3.2" height="3.2" fill="#f7871f"/>
<path d="M392.8 505.8L394.7 509.2L390.9 509.2Z" fill="#4a86c8"/>
<path d="M434.2 501.8L436.1 505.2L432.3 505.2Z" fill="#5ec4c2"/>
<path d="M434.2 504.1L436.1 507.5L432.3 507.5Z" fill="#5ec4c2"/>
<circle cx="460.3" cy="463.3" r="1.8" fill="#b0232a"/>
<path d="M464.9 507.0L466.8 510.4L463.0 510.4Z" fill="#4a86c8"/>
<path d="M478.7 492.0L480.6 495.4L476.8 495.4Z" fill="#ffd500"/>
<circle cx="477.5" cy="503.6" r="1.8" fill="#ffd500"/>
<rect x="475.9" y="505.7" width="3.2" height="3.2" fill="#ffd500"/>
<circle cx="479.5" cy="509.9" r="1.8" fill="#4a86c8"/>
<circle cx="486.2" cy="509.1" r="1.8" fill="#e41e26"/>
<path d="M495.3 487.3L497.2 490.7L493.4 490.7Z" fill="#1f8a44"/>
<rect x="514.2" y="492.5" width="3.2" height="3.2" fill="#b0232a"/>
<path d="M515.8 503.0L517.7 506.4L513.9 506.4Z" fill="#4a86c8"/>
<path d="M561.5 508.2L563.4 511.6L559.6 511.6Z" fill="#262d7f"/>
<circle cx="515.6" cy="382.4" r="1.8" fill="#b0232a"/>
<line x1="46.4" y1="546.6" x2="46.4" y2="693" stroke="#222" stroke-width="0.9" />
<line x1="41.9" y1="693.0" x2="46.4" y2="693.0" stroke="#222" stroke-width="0.8" />
<text x="37.599999999999994" y="694.5" font-size="4.3" text-anchor="end" font-weight="bold" fill="#222"  stroke="#222" stroke-width="0.14">4</text>
<line x1="41.9" y1="656.4" x2="46.4" y2="656.4" stroke="#222" stroke-width="0.8" />
<text x="37.599999999999994" y="657.9" font-size="4.3" text-anchor="end" font-weight="bold" fill="#222"  stroke="#222" stroke-width="0.14">5</text>
<line x1="41.9" y1="619.8" x2="46.4" y2="619.8" stroke="#222" stroke-width="0.8" />
<text x="37.599999999999994" y="621.3" font-size="4.3" text-anchor="end" font-weight="bold" fill="#222"  stroke="#222" stroke-width="0.14">6</text>
<line x1="41.9" y1="583.2" x2="46.4" y2="583.2" stroke="#222" stroke-width="0.8" />
<text x="37.599999999999994" y="584.7" font-size="4.3" text-anchor="end" font-weight="bold" fill="#222"  stroke="#222" stroke-width="0.14">7</text>
<line x1="41.9" y1="546.6" x2="46.4" y2="546.6" stroke="#222" stroke-width="0.8" />
<text x="37.599999999999994" y="548.1" font-size="4.3" text-anchor="end" font-weight="bold" fill="#222"  stroke="#222" stroke-width="0.14">8</text>
<line x1="46.4" y1="693" x2="579" y2="693" stroke="#222" stroke-width="0.9" />
<line x1="46.6" y1="700" x2="579" y2="700" stroke="#333" stroke-width="1.1" />
<line x1="46.6" y1="700" x2="46.6" y2="704.8" stroke="#333" stroke-width="1.0" />
<text transform="translate(46.6,715) scale(1,1)" font-size="5.0" text-anchor="middle" font-weight="bold" fill="#1a1a1a">Chr</text>
<line x1="65.6" y1="700" x2="65.6" y2="704.8" stroke="#333" stroke-width="1.0" />
<text transform="translate(65.6,715) scale(1,1)" font-size="5.0" text-anchor="middle" font-weight="bold" fill="#1a1a1a">Chr1A</text>
<line x1="95.7" y1="700" x2="95.7" y2="704.8" stroke="#333" stroke-width="1.0" />
<text transform="translate(95.7,715) scale(1,1)" font-size="5.0" text-anchor="middle" font-weight="bold" fill="#1a1a1a">Chr1B</text>
<line x1="126.4" y1="700" x2="126.4" y2="704.8" stroke="#333" stroke-width="1.0" />
<text transform="translate(126.4,715) scale(1,1)" font-size="5.0" text-anchor="middle" font-weight="bold" fill="#1a1a1a">Chr2A</text>
<line x1="160" y1="700" x2="160" y2="704.8" stroke="#333" stroke-width="1.0" />
<text transform="translate(160,715) scale(1,1)" font-size="5.0" text-anchor="middle" font-weight="bold" fill="#1a1a1a">Chr2B</text>
<line x1="194.1" y1="700" x2="194.1" y2="704.8" stroke="#333" stroke-width="1.0" />
<text transform="translate(194.1,715) scale(1,1)" font-size="5.0" text-anchor="middle" font-weight="bold" fill="#1a1a1a">Chr3A</text>
<line x1="227.5" y1="700" x2="227.5" y2="704.8" stroke="#333" stroke-width="1.0" />
<text transform="translate(227.5,715) scale(1,1)" font-size="5.0" text-anchor="middle" font-weight="bold" fill="#1a1a1a">Chr3B</text>
<line x1="255.8" y1="700" x2="255.8" y2="704.8" stroke="#333" stroke-width="1.0" />
<text transform="translate(255.8,715) scale(1,1)" font-size="5.0" text-anchor="middle" font-weight="bold" fill="#1a1a1a">Chr4A</text>
<line x1="280" y1="700" x2="280" y2="704.8" stroke="#333" stroke-width="1.0" />
<text transform="translate(280,715) scale(1,1)" font-size="5.0" text-anchor="middle" font-weight="bold" fill="#1a1a1a">Chr4B</text>
<line x1="306.8" y1="700" x2="306.8" y2="704.8" stroke="#333" stroke-width="1.0" />
<text transform="translate(306.8,715) scale(1,1)" font-size="5.0" text-anchor="middle" font-weight="bold" fill="#1a1a1a">Chr5A</text>
<line x1="337.8" y1="700" x2="337.8" y2="704.8" stroke="#333" stroke-width="1.0" />
<text transform="translate(337.8,715) scale(1,1)" font-size="5.0" text-anchor="middle" font-weight="bold" fill="#1a1a1a">Chr5B</text>
<line x1="366" y1="700" x2="366" y2="704.8" stroke="#333" stroke-width="1.0" />
<text transform="translate(366,715) scale(1,1)" font-size="5.0" text-anchor="middle" font-weight="bold" fill="#1a1a1a">Chr6A</text>
<line x1="392.5" y1="700" x2="392.5" y2="704.8" stroke="#333" stroke-width="1.0" />
<text transform="translate(392.5,715) scale(1,1)" font-size="5.0" text-anchor="middle" font-weight="bold" fill="#1a1a1a">Chr6B</text>
<line x1="418" y1="700" x2="418" y2="704.8" stroke="#333" stroke-width="1.0" />
<text transform="translate(418,715) scale(1,1)" font-size="5.0" text-anchor="middle" font-weight="bold" fill="#1a1a1a">Chr7A</text>
<line x1="443.3" y1="700" x2="443.3" y2="704.8" stroke="#333" stroke-width="1.0" />
<text transform="translate(443.3,715) scale(1,1)" font-size="5.0" text-anchor="middle" font-weight="bold" fill="#1a1a1a">Chr7B</text>
<line x1="469.6" y1="700" x2="469.6" y2="704.8" stroke="#333" stroke-width="1.0" />
<text transform="translate(469.6,715) scale(1,1)" font-size="5.0" text-anchor="middle" font-weight="bold" fill="#1a1a1a">Chr8A</text>
<line x1="496.5" y1="700" x2="496.5" y2="704.8" stroke="#333" stroke-width="1.0" />
<text transform="translate(496.5,715) scale(1,1)" font-size="5.0" text-anchor="middle" font-weight="bold" fill="#1a1a1a">Chr8B</text>
<line x1="527.6" y1="700" x2="527.6" y2="704.8" stroke="#333" stroke-width="1.0" />
<text transform="translate(527.6,715) scale(1,1)" font-size="5.0" text-anchor="middle" font-weight="bold" fill="#1a1a1a">Chr9A</text>
<line x1="562.6" y1="700" x2="562.6" y2="704.8" stroke="#333" stroke-width="1.0" />
<text transform="translate(562.6,715) scale(1,1)" font-size="5.0" text-anchor="middle" font-weight="bold" fill="#1a1a1a">Chr9B</text>
<text x="61.2" y="560.4" font-size="15" text-anchor="start" font-weight="normal" fill="#231f20" >SV based GWAS (CMLM)</text>
<text x="3.9" y="555.8" font-size="17.5" text-anchor="start" font-weight="normal" fill="#231f20" >D</text>
<text transform="translate(15,620.3) rotate(-90)" font-size="12.5" text-anchor="middle" fill="#231f20">−log<tspan font-size="9" dy="2.5">10</tspan><tspan dy="-2.5">(</tspan><tspan font-style="italic">p</tspan>)</text>
<path d="M149.5 604.3L151.4 607.7L147.6 607.7Z" fill="#f7bcd0"/>
<path d="M179.5 613.8L181.4 617.2L177.6 617.2Z" fill="#f7bcd0"/>
<path d="M106.2 644.1L108.1 647.5L104.3 647.5Z" fill="#f7bcd0"/>
<path d="M116.8 659.2L118.7 662.6L114.9 662.6Z" fill="#f7bcd0"/>
<path d="M117.8 674.5L119.7 677.9L115.9 677.9Z" fill="#e41e26"/>
<circle cx="138.2" cy="678.3" r="1.8" fill="#e41e26"/>
<path d="M107.0 682.3L108.9 685.7L105.1 685.7Z" fill="#b0232a"/>
<rect x="111.1" y="689.4" width="3.2" height="3.2" fill="#b0232a"/>
<circle cx="163.2" cy="687.5" r="1.8" fill="#ffd500"/>
<path d="M192.8 675.6L194.7 679.0L190.9 679.0Z" fill="#1f8a44"/>
<path d="M203.8 667.5L205.7 670.9L201.9 670.9Z" fill="#5ec4c2"/>
<path d="M203.8 669.7L205.7 673.1L201.9 673.1Z" fill="#5ec4c2"/>
<circle cx="203.8" cy="680.3" r="1.8" fill="#5ec4c2"/>
<path d="M233.3 684.9L235.2 688.3L231.4 688.3Z" fill="#7a4ea0"/>
<path d="M319.2 684.9L321.1 688.3L317.3 688.3Z" fill="#4a86c8"/>
<circle cx="383.8" cy="678.9" r="1.8" fill="#e41e26"/>
<circle cx="393.0" cy="668.2" r="1.8" fill="#4a86c8"/>
<rect x="392.3" y="682.9" width="3.2" height="3.2" fill="#f7871f"/>
<path d="M393.0 687.3L394.9 690.7L391.1 690.7Z" fill="#4a86c8"/>
<circle cx="415.4" cy="692.7" r="1.8" fill="#4a86c8"/>
<rect x="432.8" y="685.9" width="3.2" height="3.2" fill="#5ec4c2"/>
<path d="M434.4 690.4L436.3 693.8L432.5 693.8Z" fill="#5ec4c2"/>
<circle cx="478.8" cy="669.7" r="1.8" fill="#4a86c8"/>
<path d="M478.8 671.4L480.7 674.8L476.9 674.8Z" fill="#ffd500"/>
<circle cx="477.3" cy="686.9" r="1.8" fill="#ffd500"/>
<path d="M495.7 655.2L497.6 658.6L493.8 658.6Z" fill="#1f8a44"/>
<circle cx="499.4" cy="668.2" r="1.8" fill="#4a86c8"/>
<path d="M499.4 685.8L501.3 689.2L497.5 689.2Z" fill="#4a86c8"/>
<rect x="514.0" y="653.7" width="3.2" height="3.2" fill="#b0232a"/>
<rect x="514.0" y="679.2" width="3.2" height="3.2" fill="#b0232a"/>
<path d="M515.6 684.3L517.5 687.7L513.7 687.7Z" fill="#4a86c8"/>
<path d="M561.6 690.4L563.5 693.8L559.7 693.8Z" fill="#262d7f"/>
<text x="619.3" y="251.8" font-size="13.9" text-anchor="start" font-weight="normal" fill="#151515" >Location</text>
<rect x="631.1" y="264.9" width="8" height="8" fill="#000"/>
<text x="640.8" y="273.9" font-size="14.1" text-anchor="start" font-weight="normal" fill="#151515" >GKVK</text>
<circle cx="635" cy="286" r="4" fill="#000"/>
<text x="640.8" y="290.9" font-size="14.1" text-anchor="start" font-weight="normal" fill="#151515" >IIMR</text>
<path d="M635.1 297.9L640.4 305.9L629.8 305.9Z" fill="#000"/>
<text x="640.8" y="307.9" font-size="14.1" text-anchor="start" font-weight="normal" fill="#151515" >Pooled</text>
<text x="624" y="348" font-size="13.9" text-anchor="start" font-weight="normal" fill="#151515" >Traits</text>
<rect x="625.3" y="361.2" width="8.1" height="7.9" fill="#4a86c8"/>
<text x="635.4" y="369.09999999999997" font-size="14.0" text-anchor="start" font-weight="normal" fill="#151515" >DFF</text>
<rect x="625.3" y="378.2" width="8.1" height="7.9" fill="#b0232a"/>
<text x="635.4" y="386.13" font-size="14.0" text-anchor="start" font-weight="normal" fill="#151515" >TW</text>
<rect x="625.3" y="395.3" width="8.1" height="7.9" fill="#f7871f"/>
<text x="635.4" y="403.15999999999997" font-size="14.0" text-anchor="start" font-weight="normal" fill="#151515" >GYPP</text>
<rect x="625.3" y="412.3" width="8.1" height="7.9" fill="#1f8a44"/>
<text x="635.4" y="420.18999999999994" font-size="14.0" text-anchor="start" font-weight="normal" fill="#151515" >Ca</text>
<rect x="625.3" y="429.3" width="8.1" height="7.9" fill="#7a4ea0"/>
<text x="635.4" y="437.21999999999997" font-size="14.0" text-anchor="start" font-weight="normal" fill="#151515" >Fe</text>
<rect x="625.3" y="446.4" width="8.1" height="7.9" fill="#ffd500"/>
<text x="635.4" y="454.25" font-size="14.0" text-anchor="start" font-weight="normal" fill="#151515" >Mg</text>
<rect x="625.3" y="463.4" width="8.1" height="7.9" fill="#262d7f"/>
<text x="635.4" y="471.28" font-size="14.0" text-anchor="start" font-weight="normal" fill="#151515" >Na</text>
<rect x="625.3" y="480.4" width="8.1" height="7.9" fill="#e41e26"/>
<text x="635.4" y="488.30999999999995" font-size="14.0" text-anchor="start" font-weight="normal" fill="#151515" >P</text>
<rect x="625.3" y="497.4" width="8.1" height="7.9" fill="#f7bcd0"/>
<text x="635.4" y="505.34" font-size="14.0" text-anchor="start" font-weight="normal" fill="#151515" >K</text>
<rect x="625.3" y="514.5" width="8.1" height="7.9" fill="#5ec4c2"/>
<text x="635.4" y="522.37" font-size="14.0" text-anchor="start" font-weight="normal" fill="#151515" >Zn</text>
<text x="19.3" y="745.2" font-size="17" text-anchor="start" font-weight="normal" fill="#231f20" >E</text>
<line x1="51.5" y1="734.8000000000001" x2="51.5" y2="812.2" stroke="#6d6d6d" stroke-width="0.7" />
<line x1="47.2" y1="812.2" x2="51.5" y2="812.2" stroke="#444" stroke-width="0.7" />
<text x="43.5" y="813.7" font-size="4.4" text-anchor="middle" font-weight="normal" fill="#333"  stroke="#333" stroke-width="0.14">0</text>
<line x1="47.2" y1="799.3000000000001" x2="51.5" y2="799.3000000000001" stroke="#444" stroke-width="0.7" />
<text x="43.5" y="800.8000000000001" font-size="4.4" text-anchor="middle" font-weight="normal" fill="#333"  stroke="#333" stroke-width="0.14">1</text>
<line x1="47.2" y1="786.4000000000001" x2="51.5" y2="786.4000000000001" stroke="#444" stroke-width="0.7" />
<text x="43.5" y="787.9000000000001" font-size="4.4" text-anchor="middle" font-weight="normal" fill="#333"  stroke="#333" stroke-width="0.14">2</text>
<line x1="47.2" y1="773.5" x2="51.5" y2="773.5" stroke="#444" stroke-width="0.7" />
<text x="43.5" y="775.0" font-size="4.4" text-anchor="middle" font-weight="normal" fill="#333"  stroke="#333" stroke-width="0.14">3</text>
<line x1="47.2" y1="760.6" x2="51.5" y2="760.6" stroke="#444" stroke-width="0.7" />
<text x="43.5" y="762.1" font-size="4.4" text-anchor="middle" font-weight="normal" fill="#333"  stroke="#333" stroke-width="0.14">4</text>
<line x1="47.2" y1="747.7" x2="51.5" y2="747.7" stroke="#444" stroke-width="0.7" />
<text x="43.5" y="749.2" font-size="4.4" text-anchor="middle" font-weight="normal" fill="#333"  stroke="#333" stroke-width="0.14">5</text>
<line x1="47.2" y1="734.8000000000001" x2="51.5" y2="734.8000000000001" stroke="#444" stroke-width="0.7" />
<text x="43.5" y="736.3000000000001" font-size="4.4" text-anchor="middle" font-weight="normal" fill="#333"  stroke="#333" stroke-width="0.14">6</text>
<text transform="translate(40.6,777) rotate(-90)" font-size="4.3" text-anchor="middle" fill="#333">-log(Pvalue)</text>
<line x1="51.5" y1="760.6" x2="300" y2="760.6" stroke="#f06a5a" stroke-width="0.55" stroke-dasharray="1.5 1.0"/>
<line x1="51.5" y1="812.2" x2="300" y2="812.2" stroke="#555" stroke-width="0.7" />
<line x1="99.7" y1="812.2" x2="99.7" y2="814.0" stroke="#555" stroke-width="0.6" />
<line x1="150" y1="812.2" x2="150" y2="814.0" stroke="#555" stroke-width="0.6" />
<line x1="200.1" y1="812.2" x2="200.1" y2="814.0" stroke="#555" stroke-width="0.6" />
<line x1="250.3" y1="812.2" x2="250.3" y2="814.0" stroke="#555" stroke-width="0.6" />
<line x1="300.3" y1="812.2" x2="300.3" y2="814.0" stroke="#555" stroke-width="0.6" />
<circle cx="51.4" cy="809.9" r="1.7" fill="#3a7dc0"/>
<circle cx="52.7" cy="810.9" r="1.7" fill="#3a7dc0"/>
<circle cx="55.6" cy="807.5" r="1.7" fill="#3a7dc0"/>
<circle cx="59.0" cy="806.7" r="1.7" fill="#3a7dc0"/>
<circle cx="59.0" cy="809.0" r="1.7" fill="#3a7dc0"/>
<circle cx="64.1" cy="805.6" r="1.7" fill="#3a7dc0"/>
<circle cx="66.4" cy="804.2" r="1.7" fill="#3a7dc0"/>
<circle cx="71.7" cy="809.0" r="1.7" fill="#3a7dc0"/>
<circle cx="81.8" cy="810.5" r="1.7" fill="#3a7dc0"/>
<circle cx="99.8" cy="798.5" r="1.7" fill="#3a7dc0"/>
<circle cx="99.8" cy="800.4" r="1.7" fill="#3a7dc0"/>
<circle cx="99.8" cy="804.2" r="1.7" fill="#3a7dc0"/>
<circle cx="103.6" cy="803.7" r="1.7" fill="#3a7dc0"/>
<circle cx="100.2" cy="811.3" r="1.7" fill="#3a7dc0"/>
<circle cx="134.9" cy="793.8" r="1.7" fill="#3a7dc0"/>
<circle cx="139.1" cy="798.9" r="1.7" fill="#3a7dc0"/>
<circle cx="136.3" cy="803.3" r="1.7" fill="#3a7dc0"/>
<circle cx="140.0" cy="805.2" r="1.7" fill="#3a7dc0"/>
<circle cx="137.2" cy="806.7" r="1.7" fill="#3a7dc0"/>
<circle cx="136.8" cy="809.0" r="1.7" fill="#3a7dc0"/>
<circle cx="135.3" cy="810.9" r="1.7" fill="#3a7dc0"/>
<circle cx="130.6" cy="811.8" r="1.7" fill="#3a7dc0"/>
<circle cx="149.0" cy="795.7" r="1.7" fill="#3a7dc0"/>
<circle cx="149.5" cy="801.4" r="1.7" fill="#3a7dc0"/>
<circle cx="149.5" cy="803.3" r="1.7" fill="#3a7dc0"/>
<circle cx="149.5" cy="805.2" r="1.7" fill="#3a7dc0"/>
<circle cx="148.6" cy="807.1" r="1.7" fill="#3a7dc0"/>
<circle cx="147.6" cy="809.4" r="1.7" fill="#3a7dc0"/>
<circle cx="148.6" cy="810.9" r="1.7" fill="#3a7dc0"/>
<circle cx="150.5" cy="811.3" r="1.7" fill="#3a7dc0"/>
<circle cx="146.7" cy="804.2" r="1.7" fill="#3a7dc0"/>
<circle cx="146.7" cy="806.1" r="1.7" fill="#3a7dc0"/>
<circle cx="154.3" cy="803.7" r="1.7" fill="#3a7dc0"/>
<circle cx="154.3" cy="805.6" r="1.7" fill="#3a7dc0"/>
<circle cx="155.2" cy="807.5" r="1.7" fill="#3a7dc0"/>
<circle cx="160.4" cy="803.3" r="1.7" fill="#3a7dc0"/>
<circle cx="160.4" cy="805.2" r="1.7" fill="#3a7dc0"/>
<circle cx="158.1" cy="809.0" r="1.7" fill="#3a7dc0"/>
<circle cx="160.9" cy="811.8" r="1.7" fill="#3a7dc0"/>
<circle cx="181.4" cy="804.2" r="1.7" fill="#3a7dc0"/>
<circle cx="181.4" cy="805.8" r="1.7" fill="#3a7dc0"/>
<circle cx="179.5" cy="810.3" r="1.7" fill="#3a7dc0"/>
<circle cx="184.8" cy="808.1" r="1.7" fill="#3a7dc0"/>
<circle cx="191.3" cy="809.1" r="1.7" fill="#3a7dc0"/>
<circle cx="194.0" cy="808.1" r="1.7" fill="#3a7dc0"/>
<circle cx="200.0" cy="810.3" r="1.7" fill="#3a7dc0"/>
<circle cx="203.5" cy="807.7" r="1.7" fill="#3a7dc0"/>
<circle cx="204.5" cy="810.7" r="1.7" fill="#3a7dc0"/>
<circle cx="240.6" cy="810.3" r="1.7" fill="#3a7dc0"/>
<circle cx="291.2" cy="808.3" r="1.7" fill="#3a7dc0"/>
<circle cx="300.1" cy="808.3" r="1.7" fill="#3a7dc0"/>
<circle cx="300.5" cy="809.3" r="1.7" fill="#3a7dc0"/>
<circle cx="148.9" cy="747.2" r="1.35" fill="#d42a2a"/>
<text x="150.6" y="746.9000000000001" font-size="4.2" text-anchor="start" font-weight="bold" fill="#e0302a"  stroke="#e0302a" stroke-width="0.14">Chr1A_660273</text>
<text x="39.8" y="825" font-size="4.5" text-anchor="start" font-weight="normal" fill="#222" textLength="24" lengthAdjust="spacingAndGlyphs" stroke="#222" stroke-width="0.14">Start:499.71</text>
<text x="176.3" y="825" font-size="4.5" text-anchor="middle" font-weight="normal" fill="#222"  stroke="#222" stroke-width="0.14">Chr1A Region:154.92 (kb)</text>
<text x="316.6" y="825" font-size="4.5" text-anchor="end" font-weight="normal" fill="#222"  stroke="#222" stroke-width="0.14">End:654.63 (kb)</text>
<rect x="51.8" y="828.2" width="248.2" height="9.5" fill="#a6cde3"/>
<path d="M51.8 828.2V837.7M52.7 828.2V837.7M55.6 828.2V837.7M59.0 828.2V837.7M59.5 828.2V837.7M64.1 828.2V837.7M66.4 828.2V837.7M71.7 828.2V837.7M81.8 828.2V837.7M99.8 828.2V837.7M99.8 828.2V837.7M99.8 828.2V837.7M99.8 828.2V837.7M100.2 828.2V837.7M103.6 828.2V837.7M130.6 828.2V837.7M134.4 828.2V837.7M134.9 828.2V837.7M135.3 828.2V837.7M136.3 828.2V837.7M136.8 828.2V837.7M137.2 828.2V837.7M138.0 828.2V837.7M139.1 828.2V837.7M140.0 828.2V837.7M141.0 828.2V837.7M146.7 828.2V837.7M149.2 828.2V837.7M149.2 828.2V837.7M149.2 828.2V837.7M149.2 828.2V837.7M149.2 828.2V837.7M149.2 828.2V837.7M149.2 828.2V837.7M149.2 828.2V837.7M149.2 828.2V837.7M149.2 828.2V837.7M149.2 828.2V837.7M149.2 828.2V837.7M149.2 828.2V837.7M149.2 828.2V837.7M149.2 828.2V837.7M149.2 828.2V837.7M149.2 828.2V837.7M149.2 828.2V837.7M149.2 828.2V837.7M149.2 828.2V837.7M149.2 828.2V837.7M149.2 828.2V837.7M149.2 828.2V837.7M149.2 828.2V837.7M149.2 828.2V837.7M149.2 828.2V837.7M154.3 828.2V837.7M155.2 828.2V837.7M158.1 828.2V837.7M160.4 828.2V837.7M160.9 828.2V837.7M181.4 828.2V837.7M188.2 828.2V837.7M194.0 828.2V837.7M199.0 828.2V837.7M203.9 828.2V837.7M240.0 828.2V837.7M240.6 828.2V837.7M291.2 828.2V837.7M291.3 828.2V837.7M297.8 828.2V837.7M300.1 828.2V837.7M300.5 828.2V837.7" stroke="#6f7a84" stroke-width="0.4" stroke-opacity="0.55" fill="none"/>
<path d="M51.8 837.7L53.5 846.5M52.7 837.7L57.1 846.5M55.6 837.7L60.6 846.5M59.0 837.7L64.2 846.5M59.5 837.7L67.7 846.5M64.1 837.7L71.3 846.5M66.4 837.7L74.8 846.5M71.7 837.7L78.4 846.5M81.8 837.7L81.9 846.5M99.8 837.7L85.5 846.5M99.8 837.7L89.0 846.5M99.8 837.7L92.6 846.5M99.8 837.7L96.1 846.5M100.2 837.7L99.7 846.5M103.6 837.7L103.3 846.5M130.6 837.7L106.8 846.5M134.4 837.7L110.4 846.5M134.9 837.7L113.9 846.5M135.3 837.7L117.5 846.5M136.3 837.7L121.0 846.5M136.8 837.7L124.6 846.5M137.2 837.7L128.1 846.5M138.0 837.7L131.7 846.5M139.1 837.7L135.2 846.5M140.0 837.7L138.8 846.5M141.0 837.7L142.3 846.5M146.7 837.7L145.9 846.5M149.2 837.7L149.5 846.5M149.2 837.7L153.0 846.5M149.2 837.7L156.6 846.5M149.2 837.7L160.1 846.5M149.2 837.7L163.7 846.5M149.2 837.7L167.2 846.5M149.2 837.7L170.8 846.5M149.2 837.7L174.3 846.5M149.2 837.7L177.9 846.5M149.2 837.7L181.4 846.5M149.2 837.7L185.0 846.5M149.2 837.7L188.5 846.5M149.2 837.7L192.1 846.5M149.2 837.7L195.7 846.5M149.2 837.7L199.2 846.5M149.2 837.7L202.8 846.5M149.2 837.7L206.3 846.5M149.2 837.7L209.9 846.5M149.2 837.7L213.4 846.5M149.2 837.7L217.0 846.5M149.2 837.7L220.5 846.5M149.2 837.7L224.1 846.5M149.2 837.7L227.6 846.5M149.2 837.7L231.2 846.5M149.2 837.7L234.8 846.5M149.2 837.7L238.3 846.5M154.3 837.7L241.9 846.5M155.2 837.7L245.4 846.5M158.1 837.7L249.0 846.5M160.4 837.7L252.5 846.5M160.9 837.7L256.1 846.5M181.4 837.7L259.6 846.5M188.2 837.7L263.2 846.5M194.0 837.7L266.7 846.5M199.0 837.7L270.3 846.5M203.9 837.7L273.8 846.5M240.0 837.7L277.4 846.5M240.6 837.7L281.0 846.5M291.2 837.7L284.5 846.5M291.3 837.7L288.1 846.5M297.8 837.7L291.6 846.5M300.1 837.7L295.2 846.5M300.5 837.7L298.7 846.5" stroke="#2a8a3a" stroke-width="0.42" fill="none" stroke-dasharray="1.0 0.25"/>
<text transform="translate(175.7,848.5) rotate(90)" font-size="2.4" fill="#f07070" textLength="18.3" lengthAdjust="spacingAndGlyphs">Chr1A_660273</text>
<circle cx="175.6" cy="847" r="1.1" fill="#d66ab8"/>
<defs><linearGradient id="gE" x1="0" x2="1" y1="0" y2="0"><stop offset="0" stop-color="#ffffff"/><stop offset="0.2" stop-color="#fbf6c8"/><stop offset="0.5" stop-color="#efe85a"/><stop offset="0.72" stop-color="#f3a03a"/><stop offset="0.88" stop-color="#ee5a2c"/><stop offset="1" stop-color="#ec1c24"/></linearGradient></defs>
<rect x="220.4" y="979.2" width="85.9" height="6.099999999999909" fill="url(#gE)" stroke="#999" stroke-width="0.35"/>
<text x="263.35" y="972.6" font-size="6.2" text-anchor="middle" font-weight="normal" fill="#222"  stroke="#222" stroke-width="0.14">D’ Color Key</text>
<text x="220.4" y="991.6999999999999" font-size="6.2" text-anchor="middle" font-weight="normal" fill="#222"  stroke="#222" stroke-width="0.14">0.0</text>
<text x="304.0" y="991.6999999999999" font-size="6.2" text-anchor="middle" font-weight="normal" fill="#222"  stroke="#222" stroke-width="0.14">1.0</text>
<polygon points="51.72,868.80 53.50,867.02 55.27,868.80 57.05,867.02 58.83,868.80 60.60,867.02 62.38,868.80 64.16,867.02 65.94,868.80 67.71,867.02 69.49,868.80 71.27,867.02 73.04,868.80 74.82,867.02 76.60,868.80 78.38,867.02 80.15,868.80 81.93,867.02 83.71,868.80 85.48,867.02 87.26,868.80 89.04,867.02 90.81,868.80 92.59,867.02 94.37,868.80 96.14,867.02 97.92,868.80 99.70,867.02 101.48,868.80 103.25,867.02 105.03,868.80 106.81,867.02 108.58,868.80 110.36,867.02 112.14,868.80 113.91,867.02 115.69,868.80 117.47,867.02 119.25,868.80 121.02,867.02 122.80,868.80 124.58,867.02 126.35,868.80 128.13,867.02 129.91,868.80 131.69,867.02 133.46,868.80 135.24,867.02 137.02,868.80 138.79,867.02 140.57,868.80 142.35,867.02 144.12,868.80 145.90,867.02 147.68,868.80 149.45,867.02 151.23,868.80 153.01,867.02 154.79,868.80 156.56,867.02 158.34,868.80 160.12,867.02 161.89,868.80 163.67,867.02 165.45,868.80 167.22,867.02 169.00,868.80 170.78,867.02 172.56,868.80 174.33,867.02 176.11,868.80 177.89,867.02 179.66,868.80 181.44,867.02 183.22,868.80 185.00,867.02 186.77,868.80 188.55,867.02 190.33,868.80 192.10,867.02 193.88,868.80 195.66,867.02 197.43,868.80 199.21,867.02 200.99,868.80 202.76,867.02 204.54,868.80 206.32,867.02 208.10,868.80 209.87,867.02 211.65,868.80 213.43,867.02 215.20,868.80 216.98,867.02 218.76,868.80 220.53,867.02 222.31,868.80 224.09,867.02 225.87,868.80 227.64,867.02 229.42,868.80 231.20,867.02 232.97,868.80 234.75,867.02 236.53,868.80 238.30,867.02 240.08,868.80 241.86,867.02 243.64,868.80 245.41,867.02 247.19,868.80 248.97,867.02 250.74,868.80 252.52,867.02 254.30,868.80 256.07,867.02 257.85,868.80 259.63,867.02 261.41,868.80 263.18,867.02 264.96,868.80 266.74,867.02 268.51,868.80 270.29,867.02 272.07,868.80 273.85,867.02 275.62,868.80 277.40,867.02 279.18,868.80 280.95,867.02 282.73,868.80 284.51,867.02 286.28,868.80 288.06,867.02 289.84,868.80 291.62,867.02 293.39,868.80 295.17,867.02 296.95,868.80 298.72,867.02 300.50,868.80 176.11,993.19" fill="#ec2127"/>
<defs><filter id="hblur" x="-5%" y="-5%" width="110%" height="110%"><feGaussianBlur stdDeviation="0.35"/></filter></defs>
<g filter="url(#hblur)"><g transform="matrix(1.7770,-1.7770,1.7770,1.7770,51.72,868.80)">
<path d="M0 1h1v3h-1zM0 6h1v1h-1zM0 13h1v1h-1zM0 22h1v2h-1zM0 26h1v3h-1zM0 35h1v2h-1zM0 40h1v2h-1zM0 44h1v1h-1zM1 8h1v2h-1zM1 11h1v1h-1zM1 13h1v1h-1zM1 17h1v1h-1zM1 24h1v1h-1zM1 30h1v1h-1zM1 36h1v2h-1zM1 41h1v1h-1zM1 45h1v1h-1zM1 49h1v1h-1zM1 56h1v1h-1zM1 58h1v1h-1zM1 60h1v1h-1zM2 8h1v2h-1zM2 11h1v3h-1zM2 15h1v1h-1zM2 17h1v2h-1zM2 27h1v2h-1zM2 30h1v2h-1zM2 34h1v1h-1zM2 37h1v1h-1zM2 39h1v2h-1zM2 42h1v1h-1zM2 48h1v1h-1zM2 59h1v1h-1zM2 63h1v1h-1zM2 65h1v1h-1zM3 18h1v1h-1zM3 23h1v1h-1zM3 26h1v1h-1zM3 36h1v1h-1zM3 39h1v1h-1zM3 46h1v1h-1zM3 58h1v1h-1zM4 10h1v1h-1zM4 24h1v1h-1zM4 46h1v1h-1zM4 48h1v2h-1zM5 6h1v1h-1zM5 13h1v1h-1zM5 17h1v1h-1zM5 46h1v1h-1zM5 48h1v1h-1zM5 65h1v1h-1zM6 20h1v1h-1zM6 25h1v1h-1zM6 35h1v1h-1zM6 41h1v1h-1zM6 47h1v1h-1zM6 60h1v1h-1zM7 11h1v1h-1zM7 36h1v1h-1zM7 44h1v1h-1zM7 46h1v1h-1zM7 53h1v1h-1zM8 25h1v1h-1zM8 33h1v2h-1zM8 38h1v1h-1zM8 45h1v1h-1zM8 53h1v1h-1zM8 61h1v1h-1zM9 15h1v1h-1zM9 17h1v1h-1zM9 19h1v2h-1zM9 22h1v1h-1zM9 24h1v1h-1zM9 27h1v10h-1zM9 42h1v2h-1zM9 46h1v3h-1zM9 52h1v1h-1zM9 67h1v1h-1zM9 69h1v1h-1zM10 11h1v1h-1zM10 36h1v1h-1zM10 40h1v1h-1zM10 54h1v1h-1zM10 57h1v1h-1zM10 62h1v1h-1zM10 65h1v1h-1zM11 23h1v2h-1zM11 35h1v1h-1zM11 42h1v1h-1zM11 46h1v1h-1zM12 36h1v4h-1zM12 41h1v1h-1zM12 48h1v1h-1zM13 20h1v1h-1zM13 22h1v2h-1zM13 27h1v1h-1zM13 29h1v1h-1zM13 47h1v1h-1zM13 51h1v1h-1zM13 53h1v1h-1zM13 62h1v2h-1zM14 15h1v1h-1zM14 24h1v1h-1zM14 30h1v1h-1zM14 33h1v1h-1zM14 35h1v1h-1zM14 38h1v1h-1zM14 42h1v2h-1zM14 49h1v1h-1zM14 55h1v3h-1zM14 59h1v2h-1zM14 64h1v1h-1zM14 68h1v1h-1zM15 21h1v1h-1zM15 42h1v1h-1zM16 21h1v1h-1zM16 30h1v1h-1zM16 32h1v1h-1zM16 40h1v1h-1zM16 56h1v1h-1zM17 18h1v1h-1zM17 22h1v1h-1zM17 26h1v1h-1zM17 30h1v1h-1zM17 32h1v2h-1zM17 39h1v1h-1zM17 45h1v1h-1zM17 55h1v1h-1zM17 62h1v2h-1zM18 33h1v1h-1zM18 35h1v1h-1zM18 40h1v1h-1zM18 47h1v1h-1zM18 50h1v1h-1zM19 20h1v1h-1zM19 24h1v1h-1zM19 30h1v1h-1zM19 37h1v1h-1zM19 40h1v2h-1zM19 45h1v2h-1zM19 55h1v1h-1zM20 24h1v1h-1zM20 37h1v1h-1zM20 40h1v1h-1zM20 49h1v1h-1zM20 55h1v1h-1zM21 26h1v1h-1zM21 40h1v1h-1zM21 43h1v1h-1zM21 45h1v1h-1zM21 47h1v1h-1zM21 51h1v1h-1zM21 53h1v2h-1zM22 28h1v1h-1zM22 31h1v2h-1zM22 35h1v2h-1zM22 43h1v2h-1zM22 51h1v1h-1zM23 28h1v1h-1zM23 39h1v1h-1zM23 42h1v1h-1zM23 55h1v1h-1zM24 35h1v1h-1zM24 38h1v1h-1zM24 43h1v1h-1zM24 50h1v1h-1zM24 52h1v1h-1zM25 28h1v1h-1zM25 34h1v1h-1zM25 41h1v1h-1zM26 51h1v1h-1zM27 28h1v1h-1zM27 36h1v1h-1zM27 38h1v2h-1zM27 41h1v2h-1zM27 45h1v1h-1zM27 52h1v1h-1zM28 37h1v1h-1zM28 47h1v1h-1zM28 59h1v1h-1zM29 38h1v1h-1zM29 47h1v2h-1zM29 54h1v1h-1zM30 34h1v1h-1zM30 36h1v1h-1zM30 40h1v2h-1zM30 46h1v3h-1zM31 33h1v1h-1zM31 50h1v1h-1zM32 33h1v1h-1zM32 38h1v1h-1zM32 44h1v2h-1zM32 49h1v1h-1zM33 37h1v2h-1zM33 53h1v1h-1zM33 55h1v1h-1zM33 62h1v1h-1zM33 64h1v1h-1zM34 41h1v1h-1zM34 45h1v1h-1zM34 51h1v1h-1zM34 62h1v1h-1zM35 37h1v1h-1zM35 54h1v2h-1zM36 39h1v3h-1zM36 48h1v1h-1zM36 50h1v1h-1zM36 52h1v1h-1zM36 54h1v1h-1zM36 58h1v1h-1zM37 48h1v1h-1zM37 50h1v1h-1zM37 59h1v1h-1zM37 61h1v1h-1zM37 65h1v1h-1zM38 39h1v1h-1zM38 46h1v1h-1zM38 54h1v1h-1zM39 58h1v1h-1zM40 41h1v2h-1zM40 45h1v1h-1zM40 49h1v1h-1zM41 53h1v1h-1zM41 55h1v1h-1zM42 48h1v1h-1zM43 45h1v1h-1zM44 45h1v2h-1zM44 52h1v1h-1zM45 48h1v1h-1zM45 53h1v1h-1zM45 65h1v1h-1zM46 48h1v1h-1zM47 62h1v1h-1zM48 51h1v2h-1zM48 62h1v1h-1zM49 50h1v1h-1zM50 53h1v1h-1zM50 64h1v1h-1zM51 57h1v1h-1zM51 61h1v2h-1zM52 61h1v2h-1zM53 56h1v1h-1zM53 62h1v1h-1zM54 64h1v1h-1zM55 57h1v1h-1zM55 59h1v1h-1zM55 63h1v1h-1zM55 65h1v1h-1zM56 63h1v1h-1zM58 63h1v1h-1zM58 65h1v1h-1zM61 64h1v1h-1z" fill="#ee4224" stroke="#ee4224" stroke-width="0.06"/>
<path d="M0 5h1v1h-1zM0 17h1v1h-1zM0 29h1v2h-1zM1 23h1v1h-1zM1 29h1v1h-1zM1 33h1v1h-1zM2 4h1v1h-1zM2 20h1v1h-1zM2 25h1v1h-1zM9 39h1v1h-1zM9 56h1v1h-1zM9 60h1v2h-1zM9 66h1v1h-1zM11 31h1v1h-1zM11 36h1v1h-1zM11 38h1v1h-1zM11 40h1v2h-1zM11 43h1v1h-1zM11 47h1v2h-1zM11 51h1v1h-1zM11 53h1v2h-1zM11 60h1v1h-1zM11 63h1v1h-1zM26 31h1v2h-1zM26 38h1v2h-1zM26 42h1v1h-1zM26 49h1v1h-1zM26 53h1v1h-1z" fill="#f1d747" stroke="#f1d747" stroke-width="0.06"/>
<path d="M0 7h1v1h-1zM0 10h1v3h-1zM0 20h1v2h-1zM0 25h1v1h-1zM0 32h1v3h-1zM0 37h1v2h-1zM0 43h1v1h-1zM0 48h1v4h-1zM0 58h1v1h-1zM0 60h1v2h-1zM0 64h1v1h-1zM0 66h1v1h-1zM1 15h1v2h-1zM1 31h1v1h-1zM1 35h1v1h-1zM1 40h1v1h-1zM1 43h1v2h-1zM1 46h1v2h-1zM1 50h1v1h-1zM1 54h1v2h-1zM1 57h1v1h-1zM1 61h1v3h-1zM1 69h1v1h-1zM2 6h1v1h-1zM2 22h1v3h-1zM2 29h1v1h-1zM2 32h1v1h-1zM2 44h1v1h-1zM2 46h1v1h-1zM2 50h1v1h-1zM2 52h1v1h-1zM2 56h1v2h-1zM2 60h1v1h-1zM2 64h1v1h-1zM2 68h1v2h-1zM3 50h1v1h-1zM3 52h1v2h-1zM3 56h1v1h-1zM3 60h1v1h-1zM3 62h1v1h-1zM3 66h1v2h-1zM3 69h1v1h-1zM4 50h1v2h-1zM4 54h1v1h-1zM4 59h1v1h-1zM4 61h1v3h-1zM4 65h1v3h-1zM5 51h1v1h-1zM5 57h1v1h-1zM5 59h1v2h-1zM5 62h1v1h-1zM5 66h1v1h-1zM6 51h1v4h-1zM6 65h1v2h-1zM6 68h1v2h-1zM7 50h1v1h-1zM7 55h1v1h-1zM7 60h1v1h-1zM7 62h1v1h-1zM7 64h1v4h-1zM8 54h1v1h-1zM8 56h1v1h-1zM8 59h1v1h-1zM8 62h1v1h-1zM13 68h1v1h-1zM16 68h1v1h-1zM17 68h1v1h-1zM19 66h1v1h-1zM20 68h1v1h-1zM25 66h1v1h-1zM26 68h1v1h-1zM29 66h1v1h-1zM29 69h1v1h-1zM30 69h1v1h-1zM32 66h1v1h-1zM34 66h1v1h-1zM37 69h1v1h-1zM39 69h1v1h-1zM45 68h1v1h-1zM48 66h1v1h-1zM48 69h1v1h-1zM55 66h1v1h-1zM55 68h1v1h-1zM57 69h1v1h-1zM59 69h1v1h-1zM60 68h1v1h-1z" fill="#f38a2a" stroke="#f38a2a" stroke-width="0.06"/>
<path d="M0 39h1v1h-1zM0 45h1v1h-1zM0 47h1v1h-1zM0 52h1v3h-1zM0 56h1v2h-1zM0 59h1v1h-1zM0 62h1v2h-1zM0 69h1v1h-1zM1 14h1v1h-1zM1 39h1v1h-1zM1 42h1v1h-1zM1 48h1v1h-1zM1 53h1v1h-1zM1 59h1v1h-1zM1 64h1v3h-1zM1 68h1v1h-1zM2 14h1v1h-1zM2 36h1v1h-1zM2 41h1v1h-1zM2 43h1v1h-1zM2 45h1v1h-1zM2 47h1v1h-1zM2 49h1v1h-1zM2 51h1v1h-1zM2 53h1v3h-1zM2 61h1v2h-1zM2 67h1v1h-1zM3 14h1v1h-1zM3 54h1v2h-1zM3 59h1v1h-1zM3 68h1v1h-1zM4 14h1v1h-1zM4 52h1v1h-1zM4 56h1v1h-1zM4 58h1v1h-1zM4 68h1v2h-1zM5 14h1v1h-1zM5 50h1v1h-1zM5 53h1v2h-1zM5 56h1v1h-1zM5 64h1v1h-1zM5 68h1v2h-1zM6 14h1v1h-1zM6 59h1v1h-1zM6 61h1v1h-1zM6 63h1v2h-1zM7 14h1v1h-1zM7 56h1v3h-1zM7 63h1v1h-1zM7 68h1v1h-1zM8 55h1v1h-1zM8 57h1v1h-1zM8 60h1v1h-1zM8 64h1v1h-1zM8 66h1v4h-1zM9 14h1v1h-1zM10 14h1v1h-1zM10 66h1v1h-1zM10 68h1v1h-1zM11 14h1v1h-1zM11 66h1v1h-1zM11 68h1v2h-1zM12 14h1v1h-1zM12 66h1v1h-1zM12 68h1v2h-1zM13 14h1v1h-1zM13 66h1v2h-1zM13 69h1v1h-1zM15 64h1v1h-1zM15 68h1v2h-1zM16 64h1v1h-1zM16 66h1v1h-1zM17 66h1v1h-1zM17 69h1v1h-1zM18 59h1v1h-1zM18 64h1v2h-1zM18 68h1v2h-1zM19 61h1v2h-1zM19 64h1v2h-1zM20 62h1v1h-1zM20 65h1v2h-1zM20 69h1v1h-1zM21 58h1v2h-1zM21 61h1v1h-1zM21 65h1v1h-1zM21 67h1v1h-1zM22 58h1v1h-1zM22 61h1v1h-1zM22 68h1v2h-1zM23 64h1v1h-1zM23 66h1v1h-1zM23 69h1v1h-1zM24 61h1v1h-1zM24 64h1v1h-1zM24 66h1v1h-1zM24 69h1v1h-1zM25 62h1v1h-1zM26 58h1v2h-1zM26 64h1v2h-1zM26 69h1v1h-1zM27 68h1v1h-1zM28 64h1v3h-1zM28 68h1v2h-1zM29 56h1v1h-1zM29 64h1v2h-1zM30 59h1v1h-1zM30 61h1v1h-1zM30 64h1v3h-1zM30 68h1v1h-1zM31 58h1v1h-1zM31 66h1v1h-1zM31 68h1v2h-1zM32 62h1v1h-1zM32 64h1v2h-1zM32 67h1v2h-1zM33 59h1v1h-1zM33 61h1v1h-1zM33 66h1v1h-1zM33 68h1v2h-1zM34 56h1v1h-1zM34 67h1v1h-1zM34 69h1v1h-1zM35 58h1v2h-1zM35 65h1v1h-1zM35 68h1v2h-1zM36 64h1v1h-1zM36 66h1v1h-1zM36 68h1v1h-1zM37 58h1v1h-1zM37 62h1v1h-1zM37 66h1v1h-1zM38 59h1v1h-1zM38 64h1v1h-1zM38 66h1v1h-1zM38 68h1v1h-1zM39 62h1v1h-1zM39 66h1v1h-1zM39 68h1v1h-1zM40 56h1v1h-1zM40 58h1v1h-1zM40 66h1v1h-1zM40 69h1v1h-1zM41 56h1v1h-1zM41 62h1v1h-1zM41 64h1v1h-1zM41 66h1v2h-1zM42 59h1v1h-1zM42 61h1v1h-1zM42 66h1v1h-1zM42 68h1v1h-1zM43 58h1v2h-1zM43 66h1v1h-1zM43 68h1v1h-1zM44 58h1v1h-1zM44 62h1v1h-1zM44 67h1v1h-1zM44 69h1v1h-1zM45 66h1v1h-1zM45 69h1v1h-1zM46 61h1v1h-1zM46 64h1v1h-1zM46 66h1v3h-1zM47 59h1v1h-1zM47 61h1v1h-1zM47 66h1v1h-1zM47 69h1v1h-1zM48 58h1v1h-1zM48 68h1v1h-1zM49 58h1v1h-1zM49 66h1v1h-1zM49 68h1v2h-1zM50 66h1v1h-1zM50 68h1v2h-1zM51 64h1v2h-1zM52 58h1v1h-1zM52 64h1v3h-1zM52 68h1v2h-1zM53 63h1v2h-1zM53 66h1v1h-1zM53 69h1v1h-1zM54 58h1v1h-1zM54 65h1v1h-1zM54 67h1v1h-1zM55 67h1v1h-1zM55 69h1v1h-1zM56 66h1v1h-1zM56 69h1v1h-1zM57 60h1v2h-1zM57 66h1v1h-1zM57 68h1v1h-1zM58 59h1v1h-1zM58 62h1v1h-1zM58 66h1v1h-1zM58 68h1v1h-1zM59 64h1v1h-1zM59 68h1v1h-1zM60 66h1v1h-1zM60 69h1v1h-1zM61 66h1v1h-1zM61 69h1v1h-1zM62 63h1v1h-1zM62 66h1v1h-1zM63 66h1v1h-1zM63 69h1v1h-1zM64 66h1v1h-1zM64 68h1v2h-1zM66 66h1v1h-1zM66 68h1v2h-1zM67 67h1v1h-1zM67 69h1v1h-1z" fill="#f0e850" stroke="#f0e850" stroke-width="0.06"/>
<path d="M0 42h1v1h-1zM0 46h1v1h-1zM0 55h1v1h-1zM0 65h1v1h-1zM0 68h1v1h-1zM1 38h1v1h-1zM1 51h1v2h-1zM2 38h1v1h-1zM2 58h1v1h-1zM3 65h1v1h-1zM6 50h1v1h-1zM7 52h1v1h-1zM7 69h1v1h-1z" fill="#f6f196" stroke="#f6f196" stroke-width="0.06"/>
<path d="M0 67h1v1h-1zM1 20h1v3h-1zM1 25h1v2h-1zM5 67h1v1h-1zM10 67h1v1h-1zM11 67h1v1h-1zM15 67h1v1h-1zM16 65h1v1h-1zM17 67h1v1h-1zM18 67h1v1h-1zM20 64h1v1h-1zM20 67h1v1h-1zM22 64h1v1h-1zM22 67h1v1h-1zM23 67h1v1h-1zM24 65h1v1h-1zM24 67h1v1h-1zM25 64h1v1h-1zM26 67h1v1h-1zM29 67h1v1h-1zM30 67h1v1h-1zM31 67h1v1h-1zM33 67h1v1h-1zM36 67h1v1h-1zM37 67h1v1h-1zM38 67h1v1h-1zM39 67h1v1h-1zM42 67h1v1h-1zM45 67h1v1h-1zM47 67h1v1h-1zM48 67h1v1h-1zM49 67h1v1h-1zM51 67h1v1h-1zM52 67h1v1h-1zM53 67h1v1h-1zM56 67h1v1h-1zM60 67h1v1h-1zM61 67h1v1h-1zM62 67h1v1h-1zM65 67h1v1h-1z" fill="#fdfced" stroke="#fdfced" stroke-width="0.06"/>
<path d="M1 67h1v1h-1zM2 66h1v1h-1zM6 67h1v1h-1zM10 69h1v1h-1zM12 67h1v1h-1zM15 66h1v1h-1zM16 67h1v1h-1zM16 69h1v1h-1zM18 66h1v1h-1zM19 67h1v1h-1zM19 69h1v1h-1zM21 66h1v1h-1zM22 66h1v1h-1zM24 68h1v1h-1zM25 67h1v2h-1zM26 66h1v1h-1zM27 66h1v2h-1zM28 67h1v1h-1zM29 68h1v1h-1zM32 69h1v1h-1zM35 67h1v1h-1zM37 68h1v1h-1zM38 69h1v1h-1zM40 67h1v2h-1zM41 68h1v1h-1zM42 69h1v1h-1zM43 67h1v1h-1zM43 69h1v1h-1zM44 66h1v1h-1zM44 68h1v1h-1zM46 69h1v1h-1zM47 68h1v1h-1zM50 67h1v1h-1zM51 68h1v2h-1zM53 68h1v1h-1zM54 69h1v1h-1zM56 68h1v1h-1zM57 67h1v1h-1zM58 67h1v1h-1zM58 69h1v1h-1zM59 66h1v2h-1zM61 68h1v1h-1zM62 68h1v2h-1zM63 67h1v1h-1zM64 67h1v1h-1zM65 68h1v1h-1z" fill="#f7f3a7" stroke="#f7f3a7" stroke-width="0.06"/>
<path d="M3 41h1v1h-1zM3 43h1v1h-1zM5 18h1v1h-1zM5 37h1v1h-1zM5 41h1v1h-1zM5 58h1v1h-1zM6 7h1v2h-1zM7 20h1v1h-1zM7 26h1v1h-1zM10 25h1v1h-1zM10 48h1v1h-1zM11 13h1v1h-1zM11 39h1v1h-1zM12 23h1v1h-1zM12 34h1v1h-1zM12 45h1v1h-1zM13 45h1v2h-1zM13 55h1v1h-1zM15 49h1v1h-1zM17 47h1v1h-1zM17 56h1v1h-1zM17 60h1v1h-1zM20 45h1v1h-1zM23 44h1v1h-1zM23 51h1v1h-1zM24 39h1v2h-1zM29 41h1v1h-1zM29 46h1v1h-1zM30 50h1v1h-1zM32 47h1v1h-1zM32 50h1v1h-1zM33 42h1v1h-1zM34 36h1v1h-1zM36 53h1v1h-1zM37 52h1v2h-1zM41 42h1v1h-1zM42 43h1v1h-1zM47 52h1v1h-1zM55 64h1v1h-1zM56 65h1v1h-1zM57 65h1v1h-1z" fill="#f05524" stroke="#f05524" stroke-width="0.06"/>
<path d="M4 17h1v1h-1zM4 20h1v1h-1zM4 22h1v2h-1zM4 27h1v1h-1zM4 29h1v1h-1zM5 15h1v1h-1zM5 19h1v1h-1zM5 22h1v1h-1zM6 15h1v2h-1zM6 18h1v1h-1zM6 27h1v3h-1zM7 7h1v1h-1zM13 13h1v1h-1zM18 18h1v1h-1zM20 57h1v1h-1zM20 60h1v1h-1zM21 57h1v1h-1zM22 60h1v1h-1zM23 57h1v1h-1zM25 25h1v1h-1zM25 60h1v1h-1zM26 60h1v1h-1zM27 57h1v1h-1zM27 63h1v1h-1zM32 57h1v1h-1zM32 63h1v1h-1zM34 63h1v1h-1zM35 57h1v1h-1zM38 57h1v1h-1zM38 60h1v1h-1zM39 63h1v1h-1zM40 60h1v1h-1zM41 57h1v1h-1zM42 63h1v1h-1zM43 57h1v1h-1zM43 63h1v1h-1zM44 60h1v1h-1zM44 63h1v1h-1zM47 60h1v1h-1zM47 63h1v1h-1zM50 59h1v1h-1zM51 58h1v2h-1zM55 56h1v1h-1zM55 60h1v1h-1zM57 59h1v1h-1zM57 62h1v1h-1zM59 59h1v1h-1zM60 60h1v1h-1zM63 63h1v1h-1zM64 65h1v1h-1z" fill="#f16f26" stroke="#f16f26" stroke-width="0.06"/>
<path d="M9 16h1v1h-1zM9 18h1v1h-1zM9 21h1v1h-1zM9 23h1v1h-1zM9 25h1v2h-1zM9 37h1v2h-1zM9 40h1v2h-1zM9 44h1v2h-1zM9 49h1v3h-1zM9 53h1v3h-1zM9 57h1v3h-1zM9 62h1v4h-1zM9 68h1v1h-1zM14 16h1v1h-1zM14 19h1v5h-1zM14 26h1v1h-1zM14 28h1v1h-1zM14 31h1v2h-1zM14 34h1v1h-1zM14 36h1v2h-1zM14 39h1v3h-1zM14 44h1v2h-1zM14 48h1v1h-1zM14 50h1v4h-1zM14 58h1v1h-1zM14 63h1v1h-1zM14 65h1v2h-1zM14 69h1v1h-1z" fill="#ffffff" stroke="#ffffff" stroke-width="0.06"/>
<path d="M14 17h1v2h-1zM14 25h1v1h-1zM14 27h1v1h-1zM14 29h1v1h-1zM14 46h1v2h-1zM14 54h1v1h-1zM14 61h1v2h-1zM14 67h1v1h-1z" fill="#f2c63e" stroke="#f2c63e" stroke-width="0.06"/>
<path d="M15 27h1v1h-1zM15 33h1v1h-1zM18 58h1v1h-1zM19 56h1v1h-1zM19 59h1v1h-1zM20 56h1v1h-1zM20 58h1v1h-1zM20 61h1v1h-1zM21 62h1v1h-1zM21 64h1v1h-1zM22 59h1v1h-1zM22 62h1v1h-1zM22 65h1v1h-1zM23 58h1v2h-1zM23 61h1v2h-1zM23 65h1v1h-1zM24 58h1v2h-1zM25 56h1v1h-1zM25 65h1v1h-1zM26 56h1v1h-1zM26 62h1v1h-1zM27 56h1v1h-1zM27 59h1v1h-1zM27 61h1v2h-1zM27 64h1v2h-1zM28 56h1v1h-1zM28 61h1v2h-1zM29 59h1v1h-1zM29 61h1v1h-1zM30 56h1v1h-1zM30 58h1v1h-1zM30 62h1v1h-1zM31 56h1v1h-1zM31 59h1v1h-1zM31 64h1v1h-1zM32 58h1v1h-1zM32 61h1v1h-1zM33 56h1v1h-1zM35 56h1v1h-1zM35 62h1v1h-1zM35 64h1v1h-1zM36 62h1v1h-1zM36 65h1v1h-1zM37 56h1v1h-1zM38 56h1v1h-1zM38 58h1v1h-1zM38 61h1v1h-1zM38 65h1v1h-1zM39 59h1v1h-1zM39 65h1v1h-1zM40 59h1v1h-1zM40 65h1v1h-1zM41 59h1v1h-1zM42 56h1v1h-1zM42 58h1v1h-1zM42 62h1v1h-1zM42 64h1v2h-1zM43 61h1v1h-1zM43 64h1v2h-1zM44 56h1v1h-1zM44 59h1v1h-1zM44 61h1v1h-1zM44 64h1v1h-1zM45 58h1v2h-1zM46 59h1v1h-1zM47 64h1v1h-1zM48 61h1v1h-1zM49 62h1v1h-1zM49 64h1v2h-1zM50 62h1v1h-1zM50 65h1v1h-1zM53 65h1v1h-1z" fill="#f5a52d" stroke="#f5a52d" stroke-width="0.06"/>
<path d="M15 28h1v2h-1zM15 31h1v1h-1zM15 37h1v1h-1zM15 40h1v2h-1zM15 43h1v1h-1z" fill="#f1ea61" stroke="#f1ea61" stroke-width="0.06"/>
<path d="M18 56h1v1h-1zM24 56h1v1h-1zM32 56h1v1h-1zM34 64h1v1h-1zM36 56h1v1h-1zM37 64h1v1h-1zM39 56h1v1h-1zM39 61h1v1h-1zM46 58h1v1h-1z" fill="#fcfadc" stroke="#fcfadc" stroke-width="0.06"/>
</g></g>
<text x="319.7" y="745" font-size="17" text-anchor="start" font-weight="normal" fill="#231f20" >F</text>
<line x1="348.4" y1="734.2" x2="348.4" y2="811.6" stroke="#6d6d6d" stroke-width="0.7" />
<line x1="344.09999999999997" y1="811.6" x2="348.4" y2="811.6" stroke="#444" stroke-width="0.7" />
<text x="340.4" y="813.1" font-size="4.4" text-anchor="middle" font-weight="normal" fill="#333"  stroke="#333" stroke-width="0.14">0</text>
<line x1="344.09999999999997" y1="798.7" x2="348.4" y2="798.7" stroke="#444" stroke-width="0.7" />
<text x="340.4" y="800.2" font-size="4.4" text-anchor="middle" font-weight="normal" fill="#333"  stroke="#333" stroke-width="0.14">1</text>
<line x1="344.09999999999997" y1="785.8000000000001" x2="348.4" y2="785.8000000000001" stroke="#444" stroke-width="0.7" />
<text x="340.4" y="787.3000000000001" font-size="4.4" text-anchor="middle" font-weight="normal" fill="#333"  stroke="#333" stroke-width="0.14">2</text>
<line x1="344.09999999999997" y1="772.9" x2="348.4" y2="772.9" stroke="#444" stroke-width="0.7" />
<text x="340.4" y="774.4" font-size="4.4" text-anchor="middle" font-weight="normal" fill="#333"  stroke="#333" stroke-width="0.14">3</text>
<line x1="344.09999999999997" y1="760.0" x2="348.4" y2="760.0" stroke="#444" stroke-width="0.7" />
<text x="340.4" y="761.5" font-size="4.4" text-anchor="middle" font-weight="normal" fill="#333"  stroke="#333" stroke-width="0.14">4</text>
<line x1="344.09999999999997" y1="747.1" x2="348.4" y2="747.1" stroke="#444" stroke-width="0.7" />
<text x="340.4" y="748.6" font-size="4.4" text-anchor="middle" font-weight="normal" fill="#333"  stroke="#333" stroke-width="0.14">5</text>
<line x1="344.09999999999997" y1="734.2" x2="348.4" y2="734.2" stroke="#444" stroke-width="0.7" />
<text x="340.4" y="735.7" font-size="4.4" text-anchor="middle" font-weight="normal" fill="#333"  stroke="#333" stroke-width="0.14">6</text>
<text transform="translate(337.5,776.5) rotate(-90)" font-size="4.3" text-anchor="middle" fill="#333">-log(Pvalue)</text>
<line x1="348.4" y1="760.0" x2="599.2" y2="760.0" stroke="#f06a5a" stroke-width="0.55" stroke-dasharray="1.5 1.0"/>
<line x1="348.4" y1="811.6" x2="599.2" y2="811.6" stroke="#555" stroke-width="0.7" />
<line x1="399" y1="811.6" x2="399" y2="813.4" stroke="#555" stroke-width="0.6" />
<line x1="449" y1="811.6" x2="449" y2="813.4" stroke="#555" stroke-width="0.6" />
<line x1="499" y1="811.6" x2="499" y2="813.4" stroke="#555" stroke-width="0.6" />
<line x1="549" y1="811.6" x2="549" y2="813.4" stroke="#555" stroke-width="0.6" />
<line x1="599" y1="811.6" x2="599" y2="813.4" stroke="#555" stroke-width="0.6" />
<circle cx="347.8" cy="807.5" r="1.7" fill="#3a7dc0"/>
<circle cx="355.4" cy="798.6" r="1.7" fill="#3a7dc0"/>
<circle cx="361.1" cy="799.4" r="1.7" fill="#3a7dc0"/>
<circle cx="363.0" cy="799.4" r="1.7" fill="#3a7dc0"/>
<circle cx="353.5" cy="810.4" r="1.7" fill="#3a7dc0"/>
<circle cx="356.4" cy="810.0" r="1.7" fill="#3a7dc0"/>
<circle cx="358.3" cy="809.4" r="1.7" fill="#3a7dc0"/>
<circle cx="360.2" cy="808.5" r="1.7" fill="#3a7dc0"/>
<circle cx="362.1" cy="808.1" r="1.7" fill="#3a7dc0"/>
<circle cx="364.0" cy="809.4" r="1.7" fill="#3a7dc0"/>
<circle cx="365.9" cy="807.5" r="1.7" fill="#3a7dc0"/>
<circle cx="359.2" cy="811.3" r="1.7" fill="#3a7dc0"/>
<circle cx="357.3" cy="810.7" r="1.7" fill="#3a7dc0"/>
<circle cx="367.8" cy="803.7" r="1.7" fill="#3a7dc0"/>
<circle cx="369.3" cy="803.2" r="1.7" fill="#3a7dc0"/>
<circle cx="367.8" cy="806.6" r="1.7" fill="#3a7dc0"/>
<circle cx="369.7" cy="808.5" r="1.7" fill="#3a7dc0"/>
<circle cx="369.7" cy="811.3" r="1.7" fill="#3a7dc0"/>
<circle cx="372.5" cy="801.8" r="1.7" fill="#3a7dc0"/>
<circle cx="378.8" cy="804.7" r="1.7" fill="#3a7dc0"/>
<circle cx="376.3" cy="809.4" r="1.7" fill="#3a7dc0"/>
<circle cx="379.2" cy="810.0" r="1.7" fill="#3a7dc0"/>
<circle cx="378.2" cy="811.3" r="1.7" fill="#3a7dc0"/>
<circle cx="382.0" cy="809.4" r="1.7" fill="#3a7dc0"/>
<circle cx="384.0" cy="810.4" r="1.7" fill="#3a7dc0"/>
<circle cx="385.0" cy="808.1" r="1.7" fill="#3a7dc0"/>
<circle cx="385.8" cy="806.6" r="1.7" fill="#3a7dc0"/>
<circle cx="387.7" cy="805.6" r="1.7" fill="#3a7dc0"/>
<circle cx="386.8" cy="809.4" r="1.7" fill="#3a7dc0"/>
<circle cx="388.7" cy="810.4" r="1.7" fill="#3a7dc0"/>
<circle cx="389.6" cy="808.5" r="1.7" fill="#3a7dc0"/>
<circle cx="391.5" cy="808.1" r="1.7" fill="#3a7dc0"/>
<circle cx="390.5" cy="810.7" r="1.7" fill="#3a7dc0"/>
<circle cx="384.9" cy="811.3" r="1.7" fill="#3a7dc0"/>
<circle cx="381.0" cy="811.3" r="1.7" fill="#3a7dc0"/>
<circle cx="398.1" cy="802.8" r="1.7" fill="#3a7dc0"/>
<circle cx="398.5" cy="808.5" r="1.7" fill="#3a7dc0"/>
<circle cx="398.5" cy="810.7" r="1.7" fill="#3a7dc0"/>
<circle cx="401.9" cy="802.4" r="1.7" fill="#3a7dc0"/>
<circle cx="406.9" cy="782.8" r="1.7" fill="#3a7dc0"/>
<circle cx="406.9" cy="794.2" r="1.7" fill="#3a7dc0"/>
<circle cx="421.5" cy="802.4" r="1.7" fill="#3a7dc0"/>
<circle cx="427.9" cy="806.2" r="1.7" fill="#3a7dc0"/>
<circle cx="436.5" cy="796.1" r="1.7" fill="#3a7dc0"/>
<circle cx="436.5" cy="798.0" r="1.7" fill="#3a7dc0"/>
<circle cx="436.5" cy="801.8" r="1.7" fill="#3a7dc0"/>
<circle cx="436.5" cy="804.7" r="1.7" fill="#3a7dc0"/>
<circle cx="441.4" cy="800.5" r="1.7" fill="#3a7dc0"/>
<circle cx="448.4" cy="799.9" r="1.7" fill="#3a7dc0"/>
<circle cx="449.4" cy="802.8" r="1.7" fill="#3a7dc0"/>
<circle cx="450.3" cy="805.6" r="1.7" fill="#3a7dc0"/>
<circle cx="449.4" cy="807.5" r="1.7" fill="#3a7dc0"/>
<circle cx="448.4" cy="809.4" r="1.7" fill="#3a7dc0"/>
<circle cx="447.5" cy="811.3" r="1.7" fill="#3a7dc0"/>
<circle cx="450.3" cy="810.4" r="1.7" fill="#3a7dc0"/>
<circle cx="455.1" cy="808.5" r="1.7" fill="#3a7dc0"/>
<circle cx="459.4" cy="782.8" r="1.7" fill="#3a7dc0"/>
<circle cx="458.9" cy="788.0" r="1.7" fill="#3a7dc0"/>
<circle cx="458.5" cy="792.3" r="1.7" fill="#3a7dc0"/>
<circle cx="459.4" cy="793.7" r="1.7" fill="#3a7dc0"/>
<circle cx="463.6" cy="794.2" r="1.7" fill="#3a7dc0"/>
<circle cx="460.8" cy="799.0" r="1.7" fill="#3a7dc0"/>
<circle cx="462.7" cy="799.0" r="1.7" fill="#3a7dc0"/>
<circle cx="459.9" cy="800.9" r="1.7" fill="#3a7dc0"/>
<circle cx="461.7" cy="802.8" r="1.7" fill="#3a7dc0"/>
<circle cx="458.9" cy="804.7" r="1.7" fill="#3a7dc0"/>
<circle cx="462.7" cy="805.6" r="1.7" fill="#3a7dc0"/>
<circle cx="459.9" cy="807.5" r="1.7" fill="#3a7dc0"/>
<circle cx="461.7" cy="808.5" r="1.7" fill="#3a7dc0"/>
<circle cx="463.6" cy="808.5" r="1.7" fill="#3a7dc0"/>
<circle cx="458.9" cy="810.4" r="1.7" fill="#3a7dc0"/>
<circle cx="460.8" cy="810.4" r="1.7" fill="#3a7dc0"/>
<circle cx="462.7" cy="810.4" r="1.7" fill="#3a7dc0"/>
<circle cx="457.0" cy="808.5" r="1.7" fill="#3a7dc0"/>
<circle cx="469.3" cy="810.0" r="1.7" fill="#3a7dc0"/>
<circle cx="474.0" cy="802.8" r="1.7" fill="#3a7dc0"/>
<circle cx="474.0" cy="804.7" r="1.7" fill="#3a7dc0"/>
<circle cx="473.4" cy="779.3" r="1.7" fill="#3a7dc0"/>
<circle cx="473.9" cy="801.5" r="1.7" fill="#3a7dc0"/>
<circle cx="475.9" cy="802.5" r="1.7" fill="#3a7dc0"/>
<circle cx="473.9" cy="806.5" r="1.7" fill="#3a7dc0"/>
<circle cx="475.9" cy="807.4" r="1.7" fill="#3a7dc0"/>
<circle cx="476.9" cy="810.4" r="1.7" fill="#3a7dc0"/>
<circle cx="470.0" cy="809.4" r="1.7" fill="#3a7dc0"/>
<circle cx="489.7" cy="808.4" r="1.7" fill="#3a7dc0"/>
<circle cx="489.7" cy="811.4" r="1.7" fill="#3a7dc0"/>
<circle cx="492.7" cy="810.4" r="1.7" fill="#3a7dc0"/>
<circle cx="495.6" cy="810.4" r="1.7" fill="#3a7dc0"/>
<circle cx="494.6" cy="800.5" r="1.7" fill="#3a7dc0"/>
<circle cx="493.3" cy="801.5" r="1.7" fill="#3a7dc0"/>
<circle cx="495.6" cy="803.5" r="1.7" fill="#3a7dc0"/>
<circle cx="501.5" cy="810.4" r="1.7" fill="#3a7dc0"/>
<circle cx="505.5" cy="797.2" r="1.7" fill="#3a7dc0"/>
<circle cx="507.4" cy="800.5" r="1.7" fill="#3a7dc0"/>
<circle cx="511.4" cy="801.5" r="1.7" fill="#3a7dc0"/>
<circle cx="513.4" cy="802.5" r="1.7" fill="#3a7dc0"/>
<circle cx="514.4" cy="790.3" r="1.7" fill="#3a7dc0"/>
<circle cx="515.7" cy="798.6" r="1.7" fill="#3a7dc0"/>
<circle cx="506.5" cy="805.5" r="1.7" fill="#3a7dc0"/>
<circle cx="508.4" cy="807.4" r="1.7" fill="#3a7dc0"/>
<circle cx="510.4" cy="806.5" r="1.7" fill="#3a7dc0"/>
<circle cx="512.4" cy="805.5" r="1.7" fill="#3a7dc0"/>
<circle cx="514.4" cy="807.4" r="1.7" fill="#3a7dc0"/>
<circle cx="517.3" cy="805.5" r="1.7" fill="#3a7dc0"/>
<circle cx="509.4" cy="809.4" r="1.7" fill="#3a7dc0"/>
<circle cx="511.4" cy="810.4" r="1.7" fill="#3a7dc0"/>
<circle cx="513.4" cy="809.4" r="1.7" fill="#3a7dc0"/>
<circle cx="515.3" cy="810.4" r="1.7" fill="#3a7dc0"/>
<circle cx="517.3" cy="809.4" r="1.7" fill="#3a7dc0"/>
<circle cx="506.5" cy="810.4" r="1.7" fill="#3a7dc0"/>
<circle cx="521.2" cy="807.8" r="1.7" fill="#3a7dc0"/>
<circle cx="525.6" cy="810.4" r="1.7" fill="#3a7dc0"/>
<circle cx="528.1" cy="805.5" r="1.7" fill="#3a7dc0"/>
<circle cx="542.9" cy="807.4" r="1.7" fill="#3a7dc0"/>
<circle cx="543.9" cy="809.4" r="1.7" fill="#3a7dc0"/>
<circle cx="542.5" cy="811.0" r="1.7" fill="#3a7dc0"/>
<circle cx="549.8" cy="799.2" r="1.7" fill="#3a7dc0"/>
<circle cx="553.8" cy="800.0" r="1.7" fill="#3a7dc0"/>
<circle cx="550.4" cy="808.4" r="1.7" fill="#3a7dc0"/>
<circle cx="553.8" cy="808.4" r="1.7" fill="#3a7dc0"/>
<circle cx="556.7" cy="809.4" r="1.7" fill="#3a7dc0"/>
<circle cx="558.7" cy="807.4" r="1.7" fill="#3a7dc0"/>
<circle cx="560.3" cy="805.9" r="1.7" fill="#3a7dc0"/>
<circle cx="566.6" cy="807.0" r="1.7" fill="#3a7dc0"/>
<circle cx="572.1" cy="802.5" r="1.7" fill="#3a7dc0"/>
<circle cx="572.5" cy="804.5" r="1.7" fill="#3a7dc0"/>
<circle cx="578.4" cy="795.2" r="1.7" fill="#3a7dc0"/>
<circle cx="579.4" cy="799.6" r="1.7" fill="#3a7dc0"/>
<circle cx="587.3" cy="796.6" r="1.7" fill="#3a7dc0"/>
<circle cx="589.6" cy="797.6" r="1.7" fill="#3a7dc0"/>
<circle cx="588.2" cy="801.5" r="1.7" fill="#3a7dc0"/>
<circle cx="586.3" cy="803.5" r="1.7" fill="#3a7dc0"/>
<circle cx="585.3" cy="807.4" r="1.7" fill="#3a7dc0"/>
<circle cx="579.4" cy="806.5" r="1.7" fill="#3a7dc0"/>
<circle cx="578.4" cy="808.4" r="1.7" fill="#3a7dc0"/>
<circle cx="579.4" cy="810.4" r="1.7" fill="#3a7dc0"/>
<circle cx="576.4" cy="810.4" r="1.7" fill="#3a7dc0"/>
<circle cx="573.5" cy="811.4" r="1.7" fill="#3a7dc0"/>
<circle cx="580.4" cy="811.4" r="1.7" fill="#3a7dc0"/>
<circle cx="593.8" cy="804.5" r="1.7" fill="#3a7dc0"/>
<circle cx="599.1" cy="810.4" r="1.7" fill="#3a7dc0"/>
<circle cx="476.1" cy="743.7" r="1.35" fill="#d42a2a"/>
<text x="477.8" y="743.4000000000001" font-size="4.2" text-anchor="start" font-weight="bold" fill="#e0302a"  stroke="#e0302a" stroke-width="0.14">Chr2A_32659648</text>
<text x="337.7" y="824.3" font-size="4.5" text-anchor="start" font-weight="normal" fill="#222" textLength="22" lengthAdjust="spacingAndGlyphs" stroke="#222" stroke-width="0.14">Start:32.793</text>
<text x="475" y="824.3" font-size="4.5" text-anchor="middle" font-weight="normal" fill="#222"  stroke="#222" stroke-width="0.14">Chr2A Region:159.75 (kb)</text>
<text x="611.5" y="824.3" font-size="4.5" text-anchor="end" font-weight="normal" fill="#222"  stroke="#222" stroke-width="0.14">End:32.953 (Mb)</text>
<rect x="348.2" y="827.4" width="250.3" height="9.5" fill="#a6cde3"/>
<path d="M347.8 827.4V836.9M353.5 827.4V836.9M355.4 827.4V836.9M356.4 827.4V836.9M357.3 827.4V836.9M358.3 827.4V836.9M359.2 827.4V836.9M360.2 827.4V836.9M361.1 827.4V836.9M362.1 827.4V836.9M363.0 827.4V836.9M364.0 827.4V836.9M365.9 827.4V836.9M367.8 827.4V836.9M369.3 827.4V836.9M369.7 827.4V836.9M372.5 827.4V836.9M376.3 827.4V836.9M378.2 827.4V836.9M378.8 827.4V836.9M379.2 827.4V836.9M381.0 827.4V836.9M382.0 827.4V836.9M384.0 827.4V836.9M384.9 827.4V836.9M385.0 827.4V836.9M385.8 827.4V836.9M386.8 827.4V836.9M387.7 827.4V836.9M388.7 827.4V836.9M389.6 827.4V836.9M390.5 827.4V836.9M391.5 827.4V836.9M398.1 827.4V836.9M398.5 827.4V836.9M401.9 827.4V836.9M421.5 827.4V836.9M436.5 827.4V836.9M447.5 827.4V836.9M449.4 827.4V836.9M455.1 827.4V836.9M455.1 827.4V836.9M455.1 827.4V836.9M455.1 827.4V836.9M457.0 827.4V836.9M457.0 827.4V836.9M457.0 827.4V836.9M458.5 827.4V836.9M458.5 827.4V836.9M458.5 827.4V836.9M458.5 827.4V836.9M458.9 827.4V836.9M458.9 827.4V836.9M458.9 827.4V836.9M459.4 827.4V836.9M459.4 827.4V836.9M459.4 827.4V836.9M459.9 827.4V836.9M459.9 827.4V836.9M459.9 827.4V836.9M459.9 827.4V836.9M460.8 827.4V836.9M460.8 827.4V836.9M460.8 827.4V836.9M461.7 827.4V836.9M461.7 827.4V836.9M461.7 827.4V836.9M462.7 827.4V836.9M462.7 827.4V836.9M462.7 827.4V836.9M462.7 827.4V836.9M463.6 827.4V836.9M463.6 827.4V836.9M463.6 827.4V836.9M469.3 827.4V836.9M469.3 827.4V836.9M469.3 827.4V836.9M470.0 827.4V836.9M473.4 827.4V836.9M473.9 827.4V836.9M474.0 827.4V836.9M475.9 827.4V836.9M489.7 827.4V836.9M492.7 827.4V836.9M493.3 827.4V836.9M494.6 827.4V836.9M495.6 827.4V836.9M505.5 827.4V836.9M505.5 827.4V836.9M505.5 827.4V836.9M505.5 827.4V836.9M506.5 827.4V836.9M506.5 827.4V836.9M506.5 827.4V836.9M507.4 827.4V836.9M507.4 827.4V836.9M507.4 827.4V836.9M508.4 827.4V836.9M508.4 827.4V836.9M508.4 827.4V836.9M509.4 827.4V836.9M509.4 827.4V836.9M509.4 827.4V836.9M510.4 827.4V836.9M510.4 827.4V836.9M510.4 827.4V836.9M511.4 827.4V836.9M511.4 827.4V836.9M511.4 827.4V836.9M512.4 827.4V836.9M512.4 827.4V836.9M512.4 827.4V836.9M513.4 827.4V836.9M513.4 827.4V836.9M513.4 827.4V836.9M514.4 827.4V836.9M514.4 827.4V836.9M514.4 827.4V836.9M515.3 827.4V836.9M515.3 827.4V836.9M515.3 827.4V836.9M515.7 827.4V836.9M515.7 827.4V836.9M515.7 827.4V836.9M517.3 827.4V836.9M517.3 827.4V836.9M517.3 827.4V836.9M521.2 827.4V836.9M525.6 827.4V836.9M528.1 827.4V836.9M542.5 827.4V836.9M542.9 827.4V836.9M543.9 827.4V836.9M550.4 827.4V836.9M553.8 827.4V836.9M556.7 827.4V836.9M558.7 827.4V836.9M560.3 827.4V836.9M566.6 827.4V836.9M572.5 827.4V836.9M573.5 827.4V836.9M576.4 827.4V836.9M578.4 827.4V836.9M579.4 827.4V836.9M580.4 827.4V836.9M586.3 827.4V836.9M587.3 827.4V836.9M588.2 827.4V836.9M589.6 827.4V836.9M593.8 827.4V836.9" stroke="#6f7a84" stroke-width="0.4" stroke-opacity="0.55" fill="none"/>
<path d="M347.8 836.9L349.1 847.4M353.5 836.9L350.8 847.4M355.4 836.9L352.5 847.4M356.4 836.9L354.1 847.4M357.3 836.9L355.8 847.4M358.3 836.9L357.5 847.4M359.2 836.9L359.2 847.4M360.2 836.9L360.8 847.4M361.1 836.9L362.5 847.4M362.1 836.9L364.2 847.4M363.0 836.9L365.8 847.4M364.0 836.9L367.5 847.4M365.9 836.9L369.2 847.4M367.8 836.9L370.8 847.4M369.3 836.9L372.5 847.4M369.7 836.9L374.2 847.4M372.5 836.9L375.9 847.4M376.3 836.9L377.5 847.4M378.2 836.9L379.2 847.4M378.8 836.9L380.9 847.4M379.2 836.9L382.5 847.4M381.0 836.9L384.2 847.4M382.0 836.9L385.9 847.4M384.0 836.9L387.5 847.4M384.9 836.9L389.2 847.4M385.0 836.9L390.9 847.4M385.8 836.9L392.6 847.4M386.8 836.9L394.2 847.4M387.7 836.9L395.9 847.4M388.7 836.9L397.6 847.4M389.6 836.9L399.2 847.4M390.5 836.9L400.9 847.4M391.5 836.9L402.6 847.4M398.1 836.9L404.2 847.4M398.5 836.9L405.9 847.4M401.9 836.9L407.6 847.4M421.5 836.9L409.3 847.4M436.5 836.9L410.9 847.4M447.5 836.9L412.6 847.4M449.4 836.9L414.3 847.4M455.1 836.9L415.9 847.4M455.1 836.9L417.6 847.4M455.1 836.9L419.3 847.4M455.1 836.9L420.9 847.4M457.0 836.9L422.6 847.4M457.0 836.9L424.3 847.4M457.0 836.9L426.0 847.4M458.5 836.9L427.6 847.4M458.5 836.9L429.3 847.4M458.5 836.9L431.0 847.4M458.5 836.9L432.6 847.4M458.9 836.9L434.3 847.4M458.9 836.9L436.0 847.4M458.9 836.9L437.6 847.4M459.4 836.9L439.3 847.4M459.4 836.9L441.0 847.4M459.4 836.9L442.7 847.4M459.9 836.9L444.3 847.4M459.9 836.9L446.0 847.4M459.9 836.9L447.7 847.4M459.9 836.9L449.3 847.4M460.8 836.9L451.0 847.4M460.8 836.9L452.7 847.4M460.8 836.9L454.3 847.4M461.7 836.9L456.0 847.4M461.7 836.9L457.7 847.4M461.7 836.9L459.4 847.4M462.7 836.9L461.0 847.4M462.7 836.9L462.7 847.4M462.7 836.9L464.4 847.4M462.7 836.9L466.0 847.4M463.6 836.9L467.7 847.4M463.6 836.9L469.4 847.4M463.6 836.9L471.0 847.4M469.3 836.9L472.7 847.4M469.3 836.9L474.4 847.4M469.3 836.9L476.1 847.4M470.0 836.9L477.7 847.4M473.4 836.9L479.4 847.4M473.9 836.9L481.1 847.4M474.0 836.9L482.7 847.4M475.9 836.9L484.4 847.4M489.7 836.9L486.1 847.4M492.7 836.9L487.7 847.4M493.3 836.9L489.4 847.4M494.6 836.9L491.1 847.4M495.6 836.9L492.8 847.4M505.5 836.9L494.4 847.4M505.5 836.9L496.1 847.4M505.5 836.9L497.8 847.4M505.5 836.9L499.4 847.4M506.5 836.9L501.1 847.4M506.5 836.9L502.8 847.4M506.5 836.9L504.4 847.4M507.4 836.9L506.1 847.4M507.4 836.9L507.8 847.4M507.4 836.9L509.5 847.4M508.4 836.9L511.1 847.4M508.4 836.9L512.8 847.4M508.4 836.9L514.5 847.4M509.4 836.9L516.1 847.4M509.4 836.9L517.8 847.4M509.4 836.9L519.5 847.4M510.4 836.9L521.1 847.4M510.4 836.9L522.8 847.4M510.4 836.9L524.5 847.4M511.4 836.9L526.2 847.4M511.4 836.9L527.8 847.4M511.4 836.9L529.5 847.4M512.4 836.9L531.2 847.4M512.4 836.9L532.8 847.4M512.4 836.9L534.5 847.4M513.4 836.9L536.2 847.4M513.4 836.9L537.8 847.4M513.4 836.9L539.5 847.4M514.4 836.9L541.2 847.4M514.4 836.9L542.9 847.4M514.4 836.9L544.5 847.4M515.3 836.9L546.2 847.4M515.3 836.9L547.9 847.4M515.3 836.9L549.5 847.4M515.7 836.9L551.2 847.4M515.7 836.9L552.9 847.4M515.7 836.9L554.5 847.4M517.3 836.9L556.2 847.4M517.3 836.9L557.9 847.4M517.3 836.9L559.6 847.4M521.2 836.9L561.2 847.4M525.6 836.9L562.9 847.4M528.1 836.9L564.6 847.4M542.5 836.9L566.2 847.4M542.9 836.9L567.9 847.4M543.9 836.9L569.6 847.4M550.4 836.9L571.2 847.4M553.8 836.9L572.9 847.4M556.7 836.9L574.6 847.4M558.7 836.9L576.3 847.4M560.3 836.9L577.9 847.4M566.6 836.9L579.6 847.4M572.5 836.9L581.3 847.4M573.5 836.9L582.9 847.4M576.4 836.9L584.6 847.4M578.4 836.9L586.3 847.4M579.4 836.9L587.9 847.4M580.4 836.9L589.6 847.4M586.3 836.9L591.3 847.4M587.3 836.9L593.0 847.4M588.2 836.9L594.6 847.4M589.6 836.9L596.3 847.4M593.8 836.9L598.0 847.4" stroke="#2a8a3a" stroke-width="0.5" fill="none" stroke-dasharray="1.0 0.25"/>
<text transform="translate(476.40000000000003,849.1) rotate(90)" font-size="2.4" fill="#f07070" textLength="21.3" lengthAdjust="spacingAndGlyphs">Chr2A_32659648</text>
<circle cx="476.3" cy="847.6" r="1.1" fill="#d66ab8"/>
<defs><linearGradient id="gF" x1="0" x2="1" y1="0" y2="0"><stop offset="0" stop-color="#ffffff"/><stop offset="0.2" stop-color="#fbf6c8"/><stop offset="0.5" stop-color="#efe85a"/><stop offset="0.72" stop-color="#f3a03a"/><stop offset="0.88" stop-color="#ee5a2c"/><stop offset="1" stop-color="#ec1c24"/></linearGradient></defs>
<rect x="516" y="978.1" width="87.10000000000002" height="6.399999999999977" fill="url(#gF)" stroke="#999" stroke-width="0.35"/>
<text x="559.55" y="971.5" font-size="6.2" text-anchor="middle" font-weight="normal" fill="#222"  stroke="#222" stroke-width="0.14">D’ Color Key</text>
<text x="516" y="990.9" font-size="6.2" text-anchor="middle" font-weight="normal" fill="#222"  stroke="#222" stroke-width="0.14">0.0</text>
<text x="600.8000000000001" y="990.9" font-size="6.2" text-anchor="middle" font-weight="normal" fill="#222"  stroke="#222" stroke-width="0.14">1.0</text>
<polygon points="348.30,872.40 350.09,872.40 351.88,872.40 353.67,872.40 355.46,872.40 357.25,872.40 359.04,872.40 360.82,872.40 362.61,872.40 364.40,872.40 366.19,872.40 367.98,872.40 369.77,872.40 371.56,872.40 373.35,872.40 375.14,872.40 376.93,872.40 378.72,872.40 380.51,872.40 382.30,872.40 384.09,872.40 385.88,872.40 387.66,872.40 389.45,872.40 391.24,872.40 393.03,872.40 394.82,872.40 396.61,872.40 398.40,872.40 400.19,872.40 401.98,872.40 403.77,872.40 405.56,872.40 407.35,872.40 409.14,872.40 410.93,872.40 412.71,872.40 414.50,872.40 416.29,872.40 418.08,872.40 419.87,872.40 421.66,872.40 423.45,872.40 425.24,872.40 427.03,872.40 428.82,872.40 430.61,872.40 432.40,872.40 434.19,872.40 435.98,872.40 437.76,872.40 439.55,872.40 441.34,872.40 443.13,872.40 444.92,872.40 446.71,872.40 448.50,872.40 450.29,872.40 452.08,872.40 453.87,872.40 455.66,872.40 457.45,872.40 459.24,872.40 461.03,872.40 462.81,872.40 464.60,872.40 466.39,872.40 468.18,872.40 469.97,872.40 471.76,872.40 473.55,872.40 475.34,872.40 477.13,872.40 478.92,872.40 480.71,872.40 482.50,872.40 484.29,872.40 486.08,872.40 487.86,872.40 489.65,872.40 491.44,872.40 493.23,872.40 495.02,872.40 496.81,872.40 498.60,872.40 500.39,872.40 502.18,872.40 503.97,872.40 505.76,872.40 507.55,872.40 509.34,872.40 511.12,872.40 512.91,872.40 514.70,872.40 516.49,872.40 518.28,872.40 520.07,872.40 521.86,872.40 523.65,872.40 525.44,872.40 527.23,872.40 529.02,872.40 530.81,872.40 532.60,872.40 534.39,872.40 536.17,872.40 537.96,872.40 539.75,872.40 541.54,872.40 543.33,872.40 545.12,872.40 546.91,872.40 548.70,872.40 550.49,872.40 552.28,872.40 554.07,872.40 555.86,872.40 557.65,872.40 559.44,872.40 561.23,872.40 563.01,872.40 564.80,872.40 566.59,872.40 568.38,872.40 570.17,872.40 571.96,872.40 573.75,872.40 575.54,872.40 577.33,872.40 579.12,872.40 580.91,872.40 582.70,872.40 584.49,872.40 586.28,872.40 588.06,872.40 589.85,872.40 591.64,872.40 593.43,872.40 595.22,872.40 597.01,872.40 598.80,872.40 473.55,997.65" fill="#ec2626"/>
<defs><clipPath id="fclip"><polygon points="348.3,872.4 598.8,872.4 473.54999999999995,997.65"/></clipPath></defs>
<g clip-path="url(#fclip)"><path d="M469.0 920.1L641.0 1092.1M360.5 876.1L476.7 992.2M488.2 873.1L666.3 1051.3M454.5 875.5L631.9 1052.9M391.2 878.7L451.0 938.5M370.5 880.1L487.3 996.9M482.2 886.9L589.8 994.5M357.3 878.1L483.0 1003.8M414.4 876.8L526.1 988.6M377.0 874.3L474.3 971.6M426.6 874.5L550.0 998.0M357.7 878.3L464.9 985.5M444.4 877.6L579.9 1013.1M480.4 881.7L557.3 958.6M532.1 921.6L591.6 981.2M464.7 885.2L577.1 997.6M433.9 878.8L516.0 960.9M405.8 924.5L511.6 1030.3M386.0 906.9L517.9 1038.8M566.9 881.0L550.9 897.0M517.6 908.9L484.2 942.4M483.2 875.9L421.9 937.2M526.5 900.4L495.4 931.5M439.0 877.6L402.6 914.0M566.1 896.9L537.2 925.7" stroke="#f05a30" stroke-width="0.9" stroke-opacity="0.5" fill="none"/><path d="M365.4 886.6L496.3 1017.4M369.2 880.7L495.6 1007.2M358.7 872.7L507.0 1021.0M478.5 886.8L594.0 1002.3M378.2 874.9L438.6 935.3M414.9 907.6L538.3 1031.0M358.0 877.0L495.5 1014.5M403.2 875.8L579.7 1052.3M384.2 872.5L430.7 919.1M389.1 880.3L537.7 1028.9M482.8 877.5L608.4 1003.0M413.4 905.1L497.2 988.9M414.2 910.0L555.1 1051.0M484.7 883.5L572.8 971.6M397.0 873.2L565.2 1041.5M487.7 899.6L596.0 1008.0M457.7 875.1L628.9 1046.3M429.9 918.9L567.2 1056.1M414.7 915.4L588.7 1089.3M425.8 872.6L542.4 989.2M383.3 876.7L493.4 986.8M426.0 916.7L581.9 1072.6M486.3 885.4L589.3 988.4M487.7 880.3L551.0 943.6M389.2 885.4L467.1 963.3M373.7 881.8L439.0 947.1M429.7 879.5L501.3 951.1M387.7 894.8L476.7 983.9M502.4 913.7L619.0 1030.3M401.2 874.4L453.9 927.1M399.8 886.1L515.4 1001.7M444.9 895.0L545.4 995.4M412.2 883.0L505.9 976.8M369.3 890.8L539.4 1061.0M408.5 881.7L510.6 983.8M419.7 919.3L494.1 993.7M458.0 925.2L623.3 1090.5M452.2 880.4L539.3 967.5M366.7 880.7L502.7 1016.7M443.2 900.7L526.8 984.3M406.8 879.9L493.1 966.2M392.7 873.1L535.3 1015.7M526.1 914.5L572.9 961.3M423.9 929.5L563.6 1069.3M513.2 898.7L578.8 964.3M399.7 881.7L445.8 927.8M444.1 889.2L564.1 1009.1M449.1 880.5L549.6 980.9M436.8 877.7L568.7 1009.6M367.5 880.9L502.4 1015.8M385.5 889.4L562.0 1065.9M468.3 878.2L526.7 936.6M436.5 882.4L489.3 935.2M409.3 878.2L514.1 983.0M364.5 880.5L458.4 974.4M489.4 884.3L634.4 1029.3M402.7 889.8L573.0 1060.1M461.3 883.2L551.4 973.4M489.4 875.1L538.3 924.0M480.1 879.3L547.0 946.2M373.0 874.8L453.1 955.0M372.1 893.1L517.4 1038.3M516.7 912.8L622.7 1018.9M374.7 889.9L509.1 1024.3M398.4 887.3L503.9 992.8M363.0 873.1L488.2 998.3M362.1 884.1L459.5 981.5M401.7 922.6L520.8 1041.8M353.4 873.2L449.0 968.8M379.0 899.2L508.7 1028.8M489.0 882.8L618.7 1012.5M519.1 875.8L485.3 909.6M410.7 911.8L386.0 936.5M492.3 895.3L454.7 932.9M541.1 912.4L492.9 960.7M481.7 877.6L461.8 897.5M517.5 904.4L444.5 977.4M461.2 892.1L431.3 922.0M530.3 907.7L462.2 975.8M491.9 885.0L431.8 945.1M555.7 898.6L495.1 959.1M475.3 905.1L421.0 959.4M514.6 885.3L481.2 918.6M451.7 899.4L419.6 931.6M494.7 902.0L478.1 918.6M448.3 880.4L411.8 916.9M498.1 905.5L439.4 964.1" stroke="#f27a34" stroke-width="0.6" stroke-opacity="0.65" stroke-dasharray="1.3 0.5" fill="none"/><path d="M394.5 896.9L460.0 962.4M374.8 884.2L549.9 1059.3M484.4 878.5L601.3 995.3M428.6 879.5L503.0 954.0M438.1 894.4L519.5 975.9M525.8 919.7L580.7 974.6M405.5 878.5L466.0 939.0M454.6 883.0L533.9 962.3M486.5 882.8L627.3 1023.5M396.9 907.3L530.0 1040.4M431.7 887.1L541.2 996.6M476.1 889.5L585.0 998.5M467.2 872.6L616.1 1021.6M474.1 929.6L604.9 1060.4M442.2 915.6L608.0 1081.4M469.0 884.9L606.2 1022.2M494.4 912.2L538.0 955.8M352.1 873.0L516.6 1037.5M410.5 894.3L494.2 977.9M448.7 884.4L501.6 937.3" stroke="#f4c040" stroke-width="0.6" stroke-opacity="0.7" stroke-dasharray="1.0 0.7" fill="none"/></g>
</svg></body></html>
